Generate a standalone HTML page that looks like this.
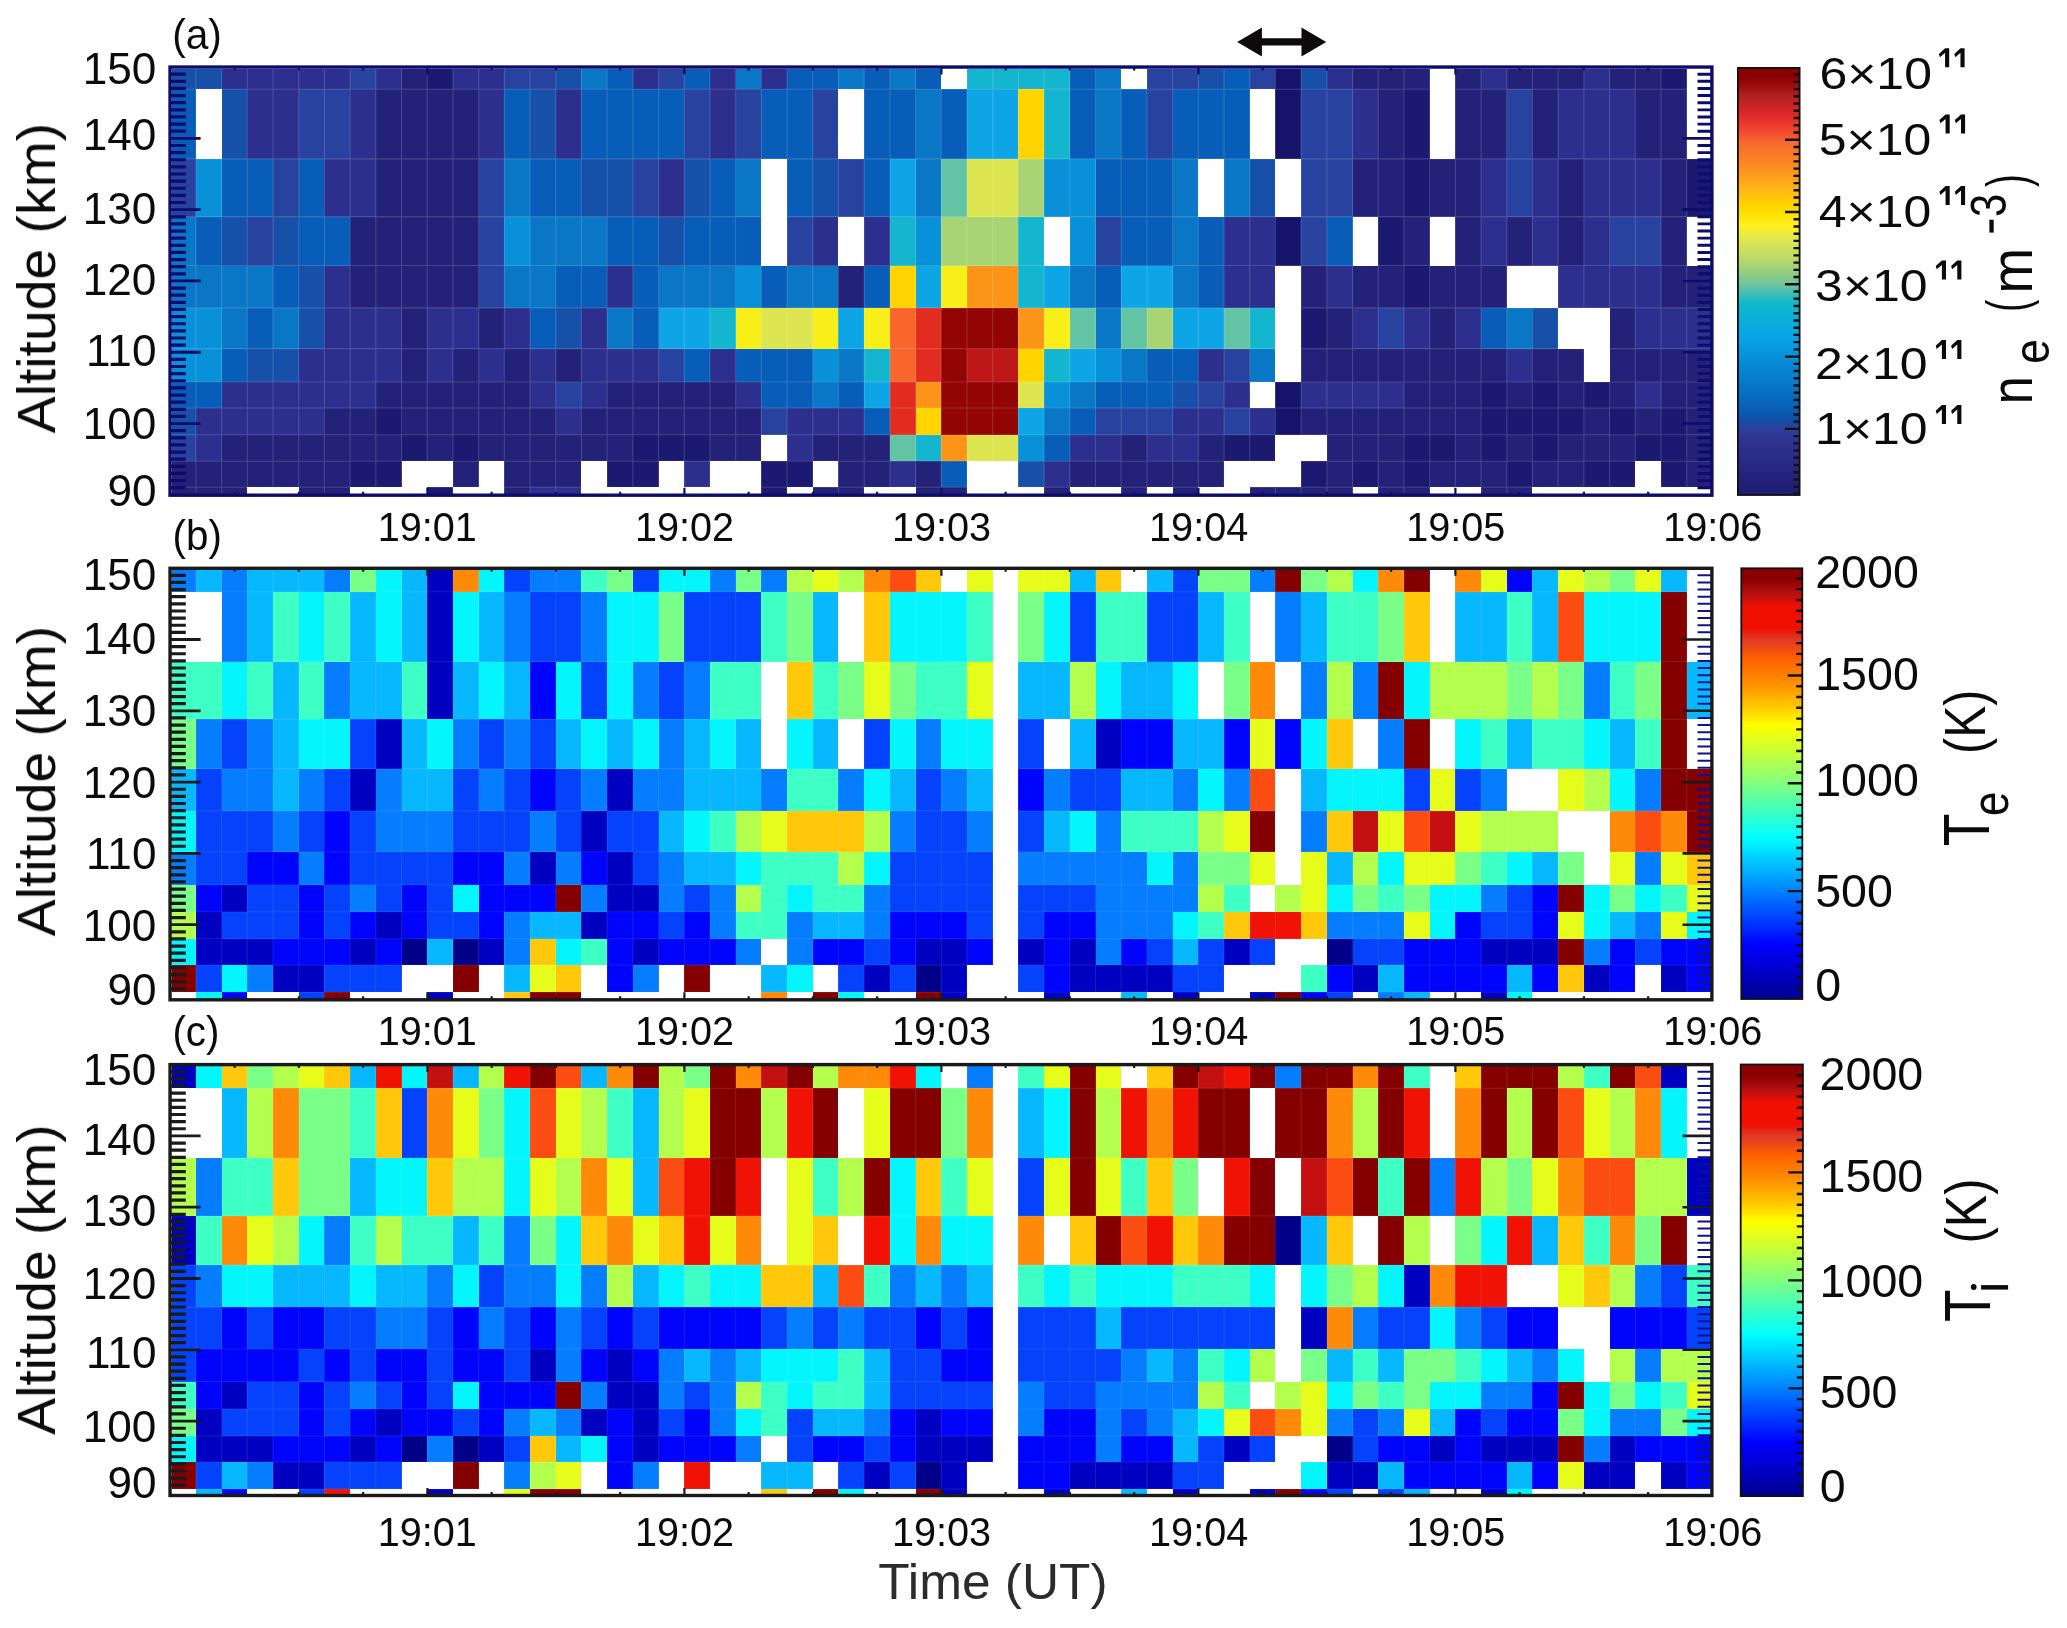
<!DOCTYPE html><html><head><meta charset="utf-8"><style>html,body{margin:0;padding:0;background:#fff}svg{display:block}</style></head><body><svg width="2067" height="1628" viewBox="0 0 2067 1628" font-family="Liberation Sans, sans-serif">
<defs>
<linearGradient id="ga" x1="0" y1="0" x2="0" y2="1"><stop offset="0" stop-color="#8b0000"/><stop offset="0.022" stop-color="#8b0000"/><stop offset="0.066" stop-color="#b02020"/><stop offset="0.11" stop-color="#e02828"/><stop offset="0.148" stop-color="#f04830"/><stop offset="0.173" stop-color="#f86830"/><stop offset="0.236" stop-color="#fc9020"/><stop offset="0.287" stop-color="#ffb818"/><stop offset="0.318" stop-color="#ffd000"/><stop offset="0.34" stop-color="#ffe000"/><stop offset="0.369" stop-color="#fff020"/><stop offset="0.4" stop-color="#e0e850"/><stop offset="0.45" stop-color="#b8d868"/><stop offset="0.488" stop-color="#88c888"/><stop offset="0.507" stop-color="#70c4a0"/><stop offset="0.532" stop-color="#38bcb8"/><stop offset="0.551" stop-color="#10b8c8"/><stop offset="0.6" stop-color="#08acdc"/><stop offset="0.633" stop-color="#08a4e8"/><stop offset="0.677" stop-color="#0890d8"/><stop offset="0.74" stop-color="#0878c8"/><stop offset="0.797" stop-color="#0860b8"/><stop offset="0.822" stop-color="#1050a8"/><stop offset="0.844" stop-color="#2c409c"/><stop offset="0.879" stop-color="#30308e"/><stop offset="0.93" stop-color="#282884"/><stop offset="1" stop-color="#1c1c70"/></linearGradient>
<linearGradient id="gj" x1="0" y1="0" x2="0" y2="1"><stop offset="0" stop-color="#8b0000"/><stop offset="0.026" stop-color="#8b0000"/><stop offset="0.06" stop-color="#b81010"/><stop offset="0.09" stop-color="#f01000"/><stop offset="0.14" stop-color="#f01000"/><stop offset="0.165" stop-color="#e03828"/><stop offset="0.21" stop-color="#ff6000"/><stop offset="0.268" stop-color="#ff9000"/><stop offset="0.322" stop-color="#ffc800"/><stop offset="0.364" stop-color="#ffff00"/><stop offset="0.418" stop-color="#d0ff30"/><stop offset="0.5" stop-color="#80ff80"/><stop offset="0.625" stop-color="#00ffff"/><stop offset="0.75" stop-color="#0080ff"/><stop offset="0.875" stop-color="#0000ff"/><stop offset="1" stop-color="#00008f"/></linearGradient>
</defs>
<rect width="2067" height="1628" fill="#fff"/>
<g shape-rendering="crispEdges">
<rect x="171.70" y="68.80" width="50.30" height="20.80" fill="#1650a9"/>
<rect x="221.60" y="68.80" width="128.92" height="20.80" fill="#2c2f8e"/>
<rect x="350.12" y="68.80" width="26.10" height="20.80" fill="#28429f"/>
<rect x="375.82" y="68.80" width="26.10" height="20.80" fill="#2c2f8e"/>
<rect x="401.53" y="68.80" width="26.10" height="20.80" fill="#232278"/>
<rect x="427.23" y="68.80" width="26.10" height="20.80" fill="#1b1a70"/>
<rect x="452.93" y="68.80" width="51.81" height="20.80" fill="#2c2f8e"/>
<rect x="504.34" y="68.80" width="51.81" height="20.80" fill="#28429f"/>
<rect x="555.75" y="68.80" width="26.10" height="20.80" fill="#1650a9"/>
<rect x="581.45" y="68.80" width="26.10" height="20.80" fill="#0976c6"/>
<rect x="607.15" y="68.80" width="26.10" height="20.80" fill="#075db7"/>
<rect x="632.86" y="68.80" width="26.10" height="20.80" fill="#2c2f8e"/>
<rect x="658.56" y="68.80" width="26.10" height="20.80" fill="#28429f"/>
<rect x="684.26" y="68.80" width="26.10" height="20.80" fill="#075db7"/>
<rect x="709.97" y="68.80" width="26.10" height="20.80" fill="#2c2f8e"/>
<rect x="735.67" y="68.80" width="26.10" height="20.80" fill="#0976c6"/>
<rect x="761.37" y="68.80" width="26.10" height="20.80" fill="#2c2f8e"/>
<rect x="787.08" y="68.80" width="51.81" height="20.80" fill="#075db7"/>
<rect x="838.48" y="68.80" width="26.10" height="20.80" fill="#0976c6"/>
<rect x="864.19" y="68.80" width="26.10" height="20.80" fill="#075db7"/>
<rect x="889.89" y="68.80" width="26.10" height="20.80" fill="#0976c6"/>
<rect x="915.59" y="68.80" width="26.10" height="20.80" fill="#075db7"/>
<rect x="967.00" y="68.80" width="103.21" height="20.80" fill="#14b6cf"/>
<rect x="1069.82" y="68.80" width="26.10" height="20.80" fill="#075db7"/>
<rect x="1095.52" y="68.80" width="26.10" height="20.80" fill="#0976c6"/>
<rect x="1146.93" y="68.80" width="51.81" height="20.80" fill="#28429f"/>
<rect x="1198.33" y="68.80" width="26.10" height="20.80" fill="#1650a9"/>
<rect x="1224.04" y="68.80" width="26.10" height="20.80" fill="#075db7"/>
<rect x="1249.74" y="68.80" width="26.10" height="20.80" fill="#28429f"/>
<rect x="1275.44" y="68.80" width="26.10" height="20.80" fill="#15146a"/>
<rect x="1301.15" y="68.80" width="26.10" height="20.80" fill="#1650a9"/>
<rect x="1326.85" y="68.80" width="26.10" height="20.80" fill="#2c2f8e"/>
<rect x="1352.55" y="68.80" width="77.51" height="20.80" fill="#232278"/>
<rect x="1455.37" y="68.80" width="26.10" height="20.80" fill="#232278"/>
<rect x="1481.07" y="68.80" width="26.10" height="20.80" fill="#2c2f8e"/>
<rect x="1506.77" y="68.80" width="77.51" height="20.80" fill="#232278"/>
<rect x="1583.88" y="68.80" width="26.10" height="20.80" fill="#2c2f8e"/>
<rect x="1609.59" y="68.80" width="51.81" height="20.80" fill="#232278"/>
<rect x="1660.99" y="68.80" width="26.10" height="20.80" fill="#1b1a70"/>
<rect x="171.70" y="89.20" width="24.60" height="70.10" fill="#075db7"/>
<rect x="221.60" y="89.20" width="26.10" height="70.10" fill="#1650a9"/>
<rect x="247.31" y="89.20" width="51.81" height="70.10" fill="#2c2f8e"/>
<rect x="298.71" y="89.20" width="51.81" height="70.10" fill="#28429f"/>
<rect x="350.12" y="89.20" width="26.10" height="70.10" fill="#2c2f8e"/>
<rect x="375.82" y="89.20" width="103.21" height="70.10" fill="#232278"/>
<rect x="478.64" y="89.20" width="26.10" height="70.10" fill="#2c2f8e"/>
<rect x="504.34" y="89.20" width="26.10" height="70.10" fill="#075db7"/>
<rect x="530.04" y="89.20" width="26.10" height="70.10" fill="#1650a9"/>
<rect x="555.75" y="89.20" width="26.10" height="70.10" fill="#2c2f8e"/>
<rect x="581.45" y="89.20" width="103.21" height="70.10" fill="#075db7"/>
<rect x="684.26" y="89.20" width="26.10" height="70.10" fill="#28429f"/>
<rect x="709.97" y="89.20" width="26.10" height="70.10" fill="#2c2f8e"/>
<rect x="735.67" y="89.20" width="26.10" height="70.10" fill="#28429f"/>
<rect x="761.37" y="89.20" width="51.81" height="70.10" fill="#075db7"/>
<rect x="812.78" y="89.20" width="26.10" height="70.10" fill="#28429f"/>
<rect x="864.19" y="89.20" width="51.81" height="70.10" fill="#075db7"/>
<rect x="915.59" y="89.20" width="26.10" height="70.10" fill="#0976c6"/>
<rect x="941.30" y="89.20" width="26.10" height="70.10" fill="#075db7"/>
<rect x="967.00" y="89.20" width="51.81" height="70.10" fill="#0ea5e6"/>
<rect x="1018.41" y="89.20" width="26.10" height="70.10" fill="#ffd400"/>
<rect x="1044.11" y="89.20" width="26.10" height="70.10" fill="#14b6cf"/>
<rect x="1069.82" y="89.20" width="26.10" height="70.10" fill="#075db7"/>
<rect x="1095.52" y="89.20" width="26.10" height="70.10" fill="#0976c6"/>
<rect x="1121.22" y="89.20" width="26.10" height="70.10" fill="#075db7"/>
<rect x="1146.93" y="89.20" width="26.10" height="70.10" fill="#28429f"/>
<rect x="1172.63" y="89.20" width="77.51" height="70.10" fill="#075db7"/>
<rect x="1275.44" y="89.20" width="26.10" height="70.10" fill="#15146a"/>
<rect x="1301.15" y="89.20" width="51.81" height="70.10" fill="#28429f"/>
<rect x="1352.55" y="89.20" width="26.10" height="70.10" fill="#2c2f8e"/>
<rect x="1378.26" y="89.20" width="26.10" height="70.10" fill="#232278"/>
<rect x="1403.96" y="89.20" width="26.10" height="70.10" fill="#1b1a70"/>
<rect x="1455.37" y="89.20" width="51.81" height="70.10" fill="#232278"/>
<rect x="1506.77" y="89.20" width="26.10" height="70.10" fill="#28429f"/>
<rect x="1532.48" y="89.20" width="26.10" height="70.10" fill="#232278"/>
<rect x="1558.18" y="89.20" width="77.51" height="70.10" fill="#2c2f8e"/>
<rect x="1635.29" y="89.20" width="51.81" height="70.10" fill="#232278"/>
<rect x="171.70" y="158.90" width="24.60" height="58.10" fill="#28429f"/>
<rect x="195.90" y="158.90" width="26.10" height="58.10" fill="#0890d8"/>
<rect x="221.60" y="158.90" width="51.81" height="58.10" fill="#075db7"/>
<rect x="273.01" y="158.90" width="26.10" height="58.10" fill="#28429f"/>
<rect x="298.71" y="158.90" width="26.10" height="58.10" fill="#075db7"/>
<rect x="324.42" y="158.90" width="51.81" height="58.10" fill="#2c2f8e"/>
<rect x="375.82" y="158.90" width="103.21" height="58.10" fill="#232278"/>
<rect x="478.64" y="158.90" width="26.10" height="58.10" fill="#28429f"/>
<rect x="504.34" y="158.90" width="26.10" height="58.10" fill="#0976c6"/>
<rect x="530.04" y="158.90" width="51.81" height="58.10" fill="#075db7"/>
<rect x="581.45" y="158.90" width="51.81" height="58.10" fill="#1650a9"/>
<rect x="632.86" y="158.90" width="26.10" height="58.10" fill="#28429f"/>
<rect x="658.56" y="158.90" width="26.10" height="58.10" fill="#2c2f8e"/>
<rect x="684.26" y="158.90" width="26.10" height="58.10" fill="#1650a9"/>
<rect x="709.97" y="158.90" width="26.10" height="58.10" fill="#075db7"/>
<rect x="735.67" y="158.90" width="26.10" height="58.10" fill="#0976c6"/>
<rect x="787.08" y="158.90" width="26.10" height="58.10" fill="#075db7"/>
<rect x="812.78" y="158.90" width="26.10" height="58.10" fill="#1650a9"/>
<rect x="838.48" y="158.90" width="26.10" height="58.10" fill="#28429f"/>
<rect x="864.19" y="158.90" width="26.10" height="58.10" fill="#075db7"/>
<rect x="889.89" y="158.90" width="26.10" height="58.10" fill="#0ea5e6"/>
<rect x="915.59" y="158.90" width="26.10" height="58.10" fill="#0976c6"/>
<rect x="941.30" y="158.90" width="26.10" height="58.10" fill="#62c4a4"/>
<rect x="967.00" y="158.90" width="51.81" height="58.10" fill="#dde650"/>
<rect x="1018.41" y="158.90" width="26.10" height="58.10" fill="#a8d474"/>
<rect x="1044.11" y="158.90" width="51.81" height="58.10" fill="#0890d8"/>
<rect x="1095.52" y="158.90" width="77.51" height="58.10" fill="#075db7"/>
<rect x="1172.63" y="158.90" width="26.10" height="58.10" fill="#0976c6"/>
<rect x="1224.04" y="158.90" width="26.10" height="58.10" fill="#0976c6"/>
<rect x="1249.74" y="158.90" width="26.10" height="58.10" fill="#1650a9"/>
<rect x="1301.15" y="158.90" width="51.81" height="58.10" fill="#28429f"/>
<rect x="1352.55" y="158.90" width="51.81" height="58.10" fill="#232278"/>
<rect x="1403.96" y="158.90" width="26.10" height="58.10" fill="#1b1a70"/>
<rect x="1429.66" y="158.90" width="51.81" height="58.10" fill="#232278"/>
<rect x="1481.07" y="158.90" width="26.10" height="58.10" fill="#2c2f8e"/>
<rect x="1506.77" y="158.90" width="26.10" height="58.10" fill="#28429f"/>
<rect x="1532.48" y="158.90" width="26.10" height="58.10" fill="#2c2f8e"/>
<rect x="1558.18" y="158.90" width="26.10" height="58.10" fill="#232278"/>
<rect x="1583.88" y="158.90" width="77.51" height="58.10" fill="#2c2f8e"/>
<rect x="1660.99" y="158.90" width="26.10" height="58.10" fill="#232278"/>
<rect x="1686.70" y="158.90" width="26.10" height="58.10" fill="#1b1a70"/>
<rect x="171.70" y="216.60" width="24.60" height="49.30" fill="#0976c6"/>
<rect x="195.90" y="216.60" width="26.10" height="49.30" fill="#075db7"/>
<rect x="221.60" y="216.60" width="26.10" height="49.30" fill="#1650a9"/>
<rect x="247.31" y="216.60" width="26.10" height="49.30" fill="#28429f"/>
<rect x="273.01" y="216.60" width="26.10" height="49.30" fill="#1650a9"/>
<rect x="298.71" y="216.60" width="51.81" height="49.30" fill="#075db7"/>
<rect x="350.12" y="216.60" width="128.92" height="49.30" fill="#232278"/>
<rect x="478.64" y="216.60" width="26.10" height="49.30" fill="#28429f"/>
<rect x="504.34" y="216.60" width="26.10" height="49.30" fill="#0890d8"/>
<rect x="530.04" y="216.60" width="77.51" height="49.30" fill="#0976c6"/>
<rect x="607.15" y="216.60" width="51.81" height="49.30" fill="#075db7"/>
<rect x="658.56" y="216.60" width="26.10" height="49.30" fill="#1650a9"/>
<rect x="684.26" y="216.60" width="77.51" height="49.30" fill="#075db7"/>
<rect x="787.08" y="216.60" width="26.10" height="49.30" fill="#28429f"/>
<rect x="812.78" y="216.60" width="26.10" height="49.30" fill="#2c2f8e"/>
<rect x="864.19" y="216.60" width="26.10" height="49.30" fill="#2c2f8e"/>
<rect x="889.89" y="216.60" width="26.10" height="49.30" fill="#14b6cf"/>
<rect x="915.59" y="216.60" width="26.10" height="49.30" fill="#0890d8"/>
<rect x="941.30" y="216.60" width="77.51" height="49.30" fill="#a8d474"/>
<rect x="1018.41" y="216.60" width="26.10" height="49.30" fill="#14b6cf"/>
<rect x="1069.82" y="216.60" width="26.10" height="49.30" fill="#0890d8"/>
<rect x="1095.52" y="216.60" width="26.10" height="49.30" fill="#28429f"/>
<rect x="1121.22" y="216.60" width="51.81" height="49.30" fill="#075db7"/>
<rect x="1172.63" y="216.60" width="26.10" height="49.30" fill="#0976c6"/>
<rect x="1198.33" y="216.60" width="26.10" height="49.30" fill="#075db7"/>
<rect x="1224.04" y="216.60" width="51.81" height="49.30" fill="#2c2f8e"/>
<rect x="1275.44" y="216.60" width="26.10" height="49.30" fill="#15146a"/>
<rect x="1301.15" y="216.60" width="26.10" height="49.30" fill="#28429f"/>
<rect x="1326.85" y="216.60" width="26.10" height="49.30" fill="#075db7"/>
<rect x="1378.26" y="216.60" width="26.10" height="49.30" fill="#1b1a70"/>
<rect x="1403.96" y="216.60" width="26.10" height="49.30" fill="#232278"/>
<rect x="1455.37" y="216.60" width="26.10" height="49.30" fill="#232278"/>
<rect x="1481.07" y="216.60" width="26.10" height="49.30" fill="#2c2f8e"/>
<rect x="1506.77" y="216.60" width="26.10" height="49.30" fill="#232278"/>
<rect x="1532.48" y="216.60" width="26.10" height="49.30" fill="#2c2f8e"/>
<rect x="1558.18" y="216.60" width="26.10" height="49.30" fill="#232278"/>
<rect x="1583.88" y="216.60" width="26.10" height="49.30" fill="#2c2f8e"/>
<rect x="1609.59" y="216.60" width="51.81" height="49.30" fill="#28429f"/>
<rect x="1660.99" y="216.60" width="26.10" height="49.30" fill="#232278"/>
<rect x="171.70" y="265.50" width="101.71" height="42.80" fill="#0976c6"/>
<rect x="273.01" y="265.50" width="26.10" height="42.80" fill="#075db7"/>
<rect x="298.71" y="265.50" width="26.10" height="42.80" fill="#1650a9"/>
<rect x="324.42" y="265.50" width="26.10" height="42.80" fill="#2c2f8e"/>
<rect x="350.12" y="265.50" width="128.92" height="42.80" fill="#232278"/>
<rect x="478.64" y="265.50" width="26.10" height="42.80" fill="#28429f"/>
<rect x="504.34" y="265.50" width="51.81" height="42.80" fill="#0976c6"/>
<rect x="555.75" y="265.50" width="51.81" height="42.80" fill="#075db7"/>
<rect x="607.15" y="265.50" width="26.10" height="42.80" fill="#2c2f8e"/>
<rect x="632.86" y="265.50" width="26.10" height="42.80" fill="#075db7"/>
<rect x="658.56" y="265.50" width="77.51" height="42.80" fill="#0976c6"/>
<rect x="735.67" y="265.50" width="26.10" height="42.80" fill="#0890d8"/>
<rect x="761.37" y="265.50" width="26.10" height="42.80" fill="#075db7"/>
<rect x="787.08" y="265.50" width="51.81" height="42.80" fill="#0976c6"/>
<rect x="838.48" y="265.50" width="26.10" height="42.80" fill="#232278"/>
<rect x="864.19" y="265.50" width="26.10" height="42.80" fill="#075db7"/>
<rect x="889.89" y="265.50" width="26.10" height="42.80" fill="#ffd400"/>
<rect x="915.59" y="265.50" width="26.10" height="42.80" fill="#0ea5e6"/>
<rect x="941.30" y="265.50" width="26.10" height="42.80" fill="#f8ee18"/>
<rect x="967.00" y="265.50" width="51.81" height="42.80" fill="#fc9418"/>
<rect x="1018.41" y="265.50" width="26.10" height="42.80" fill="#14b6cf"/>
<rect x="1044.11" y="265.50" width="26.10" height="42.80" fill="#0ea5e6"/>
<rect x="1069.82" y="265.50" width="26.10" height="42.80" fill="#0976c6"/>
<rect x="1095.52" y="265.50" width="26.10" height="42.80" fill="#075db7"/>
<rect x="1121.22" y="265.50" width="51.81" height="42.80" fill="#0ea5e6"/>
<rect x="1172.63" y="265.50" width="26.10" height="42.80" fill="#0976c6"/>
<rect x="1198.33" y="265.50" width="26.10" height="42.80" fill="#075db7"/>
<rect x="1224.04" y="265.50" width="51.81" height="42.80" fill="#2c2f8e"/>
<rect x="1301.15" y="265.50" width="26.10" height="42.80" fill="#232278"/>
<rect x="1326.85" y="265.50" width="26.10" height="42.80" fill="#2c2f8e"/>
<rect x="1352.55" y="265.50" width="51.81" height="42.80" fill="#232278"/>
<rect x="1403.96" y="265.50" width="26.10" height="42.80" fill="#1b1a70"/>
<rect x="1429.66" y="265.50" width="77.51" height="42.80" fill="#232278"/>
<rect x="1558.18" y="265.50" width="103.21" height="42.80" fill="#2c2f8e"/>
<rect x="1660.99" y="265.50" width="51.81" height="42.80" fill="#232278"/>
<rect x="171.70" y="307.90" width="50.30" height="41.10" fill="#0890d8"/>
<rect x="221.60" y="307.90" width="26.10" height="41.10" fill="#0976c6"/>
<rect x="247.31" y="307.90" width="26.10" height="41.10" fill="#075db7"/>
<rect x="273.01" y="307.90" width="26.10" height="41.10" fill="#0976c6"/>
<rect x="298.71" y="307.90" width="26.10" height="41.10" fill="#1650a9"/>
<rect x="324.42" y="307.90" width="77.51" height="41.10" fill="#2c2f8e"/>
<rect x="401.53" y="307.90" width="26.10" height="41.10" fill="#232278"/>
<rect x="427.23" y="307.90" width="51.81" height="41.10" fill="#2c2f8e"/>
<rect x="478.64" y="307.90" width="26.10" height="41.10" fill="#232278"/>
<rect x="504.34" y="307.90" width="26.10" height="41.10" fill="#2c2f8e"/>
<rect x="530.04" y="307.90" width="26.10" height="41.10" fill="#075db7"/>
<rect x="555.75" y="307.90" width="26.10" height="41.10" fill="#1650a9"/>
<rect x="581.45" y="307.90" width="26.10" height="41.10" fill="#2c2f8e"/>
<rect x="607.15" y="307.90" width="26.10" height="41.10" fill="#0976c6"/>
<rect x="632.86" y="307.90" width="26.10" height="41.10" fill="#075db7"/>
<rect x="658.56" y="307.90" width="51.81" height="41.10" fill="#0ea5e6"/>
<rect x="709.97" y="307.90" width="26.10" height="41.10" fill="#14b6cf"/>
<rect x="735.67" y="307.90" width="26.10" height="41.10" fill="#f8ee18"/>
<rect x="761.37" y="307.90" width="51.81" height="41.10" fill="#dde650"/>
<rect x="812.78" y="307.90" width="26.10" height="41.10" fill="#f8ee18"/>
<rect x="838.48" y="307.90" width="26.10" height="41.10" fill="#0ea5e6"/>
<rect x="864.19" y="307.90" width="26.10" height="41.10" fill="#f8ee18"/>
<rect x="889.89" y="307.90" width="26.10" height="41.10" fill="#f8662c"/>
<rect x="915.59" y="307.90" width="26.10" height="41.10" fill="#e22c20"/>
<rect x="941.30" y="307.90" width="77.51" height="41.10" fill="#930404"/>
<rect x="1018.41" y="307.90" width="26.10" height="41.10" fill="#fc9418"/>
<rect x="1044.11" y="307.90" width="26.10" height="41.10" fill="#f8ee18"/>
<rect x="1069.82" y="307.90" width="26.10" height="41.10" fill="#62c4a4"/>
<rect x="1095.52" y="307.90" width="26.10" height="41.10" fill="#0976c6"/>
<rect x="1121.22" y="307.90" width="26.10" height="41.10" fill="#62c4a4"/>
<rect x="1146.93" y="307.90" width="26.10" height="41.10" fill="#a8d474"/>
<rect x="1172.63" y="307.90" width="51.81" height="41.10" fill="#0ea5e6"/>
<rect x="1224.04" y="307.90" width="26.10" height="41.10" fill="#62c4a4"/>
<rect x="1249.74" y="307.90" width="26.10" height="41.10" fill="#14b6cf"/>
<rect x="1301.15" y="307.90" width="26.10" height="41.10" fill="#1b1a70"/>
<rect x="1326.85" y="307.90" width="26.10" height="41.10" fill="#232278"/>
<rect x="1352.55" y="307.90" width="26.10" height="41.10" fill="#2c2f8e"/>
<rect x="1378.26" y="307.90" width="26.10" height="41.10" fill="#28429f"/>
<rect x="1403.96" y="307.90" width="26.10" height="41.10" fill="#2c2f8e"/>
<rect x="1429.66" y="307.90" width="26.10" height="41.10" fill="#232278"/>
<rect x="1455.37" y="307.90" width="26.10" height="41.10" fill="#2c2f8e"/>
<rect x="1481.07" y="307.90" width="26.10" height="41.10" fill="#075db7"/>
<rect x="1506.77" y="307.90" width="26.10" height="41.10" fill="#0976c6"/>
<rect x="1532.48" y="307.90" width="26.10" height="41.10" fill="#1650a9"/>
<rect x="1609.59" y="307.90" width="26.10" height="41.10" fill="#232278"/>
<rect x="1635.29" y="307.90" width="77.51" height="41.10" fill="#2c2f8e"/>
<rect x="171.70" y="348.60" width="50.30" height="33.80" fill="#0890d8"/>
<rect x="221.60" y="348.60" width="26.10" height="33.80" fill="#075db7"/>
<rect x="247.31" y="348.60" width="51.81" height="33.80" fill="#1650a9"/>
<rect x="298.71" y="348.60" width="103.21" height="33.80" fill="#2c2f8e"/>
<rect x="401.53" y="348.60" width="26.10" height="33.80" fill="#232278"/>
<rect x="427.23" y="348.60" width="26.10" height="33.80" fill="#2c2f8e"/>
<rect x="452.93" y="348.60" width="26.10" height="33.80" fill="#232278"/>
<rect x="478.64" y="348.60" width="26.10" height="33.80" fill="#2c2f8e"/>
<rect x="504.34" y="348.60" width="26.10" height="33.80" fill="#232278"/>
<rect x="530.04" y="348.60" width="26.10" height="33.80" fill="#2c2f8e"/>
<rect x="555.75" y="348.60" width="26.10" height="33.80" fill="#232278"/>
<rect x="581.45" y="348.60" width="77.51" height="33.80" fill="#2c2f8e"/>
<rect x="658.56" y="348.60" width="26.10" height="33.80" fill="#28429f"/>
<rect x="684.26" y="348.60" width="26.10" height="33.80" fill="#075db7"/>
<rect x="709.97" y="348.60" width="26.10" height="33.80" fill="#2c2f8e"/>
<rect x="735.67" y="348.60" width="77.51" height="33.80" fill="#075db7"/>
<rect x="812.78" y="348.60" width="26.10" height="33.80" fill="#0890d8"/>
<rect x="838.48" y="348.60" width="26.10" height="33.80" fill="#0976c6"/>
<rect x="864.19" y="348.60" width="26.10" height="33.80" fill="#14b6cf"/>
<rect x="889.89" y="348.60" width="26.10" height="33.80" fill="#f8662c"/>
<rect x="915.59" y="348.60" width="26.10" height="33.80" fill="#e22c20"/>
<rect x="941.30" y="348.60" width="26.10" height="33.80" fill="#930404"/>
<rect x="967.00" y="348.60" width="51.81" height="33.80" fill="#bc1616"/>
<rect x="1018.41" y="348.60" width="26.10" height="33.80" fill="#ffd400"/>
<rect x="1044.11" y="348.60" width="26.10" height="33.80" fill="#14b6cf"/>
<rect x="1069.82" y="348.60" width="26.10" height="33.80" fill="#0ea5e6"/>
<rect x="1095.52" y="348.60" width="26.10" height="33.80" fill="#0890d8"/>
<rect x="1121.22" y="348.60" width="26.10" height="33.80" fill="#0976c6"/>
<rect x="1146.93" y="348.60" width="51.81" height="33.80" fill="#075db7"/>
<rect x="1198.33" y="348.60" width="26.10" height="33.80" fill="#2c2f8e"/>
<rect x="1224.04" y="348.60" width="26.10" height="33.80" fill="#28429f"/>
<rect x="1249.74" y="348.60" width="26.10" height="33.80" fill="#0976c6"/>
<rect x="1301.15" y="348.60" width="206.03" height="33.80" fill="#232278"/>
<rect x="1506.77" y="348.60" width="26.10" height="33.80" fill="#2c2f8e"/>
<rect x="1532.48" y="348.60" width="51.81" height="33.80" fill="#232278"/>
<rect x="1609.59" y="348.60" width="103.21" height="33.80" fill="#232278"/>
<rect x="171.70" y="382.00" width="50.30" height="26.40" fill="#075db7"/>
<rect x="221.60" y="382.00" width="154.62" height="26.40" fill="#2c2f8e"/>
<rect x="375.82" y="382.00" width="154.62" height="26.40" fill="#232278"/>
<rect x="530.04" y="382.00" width="26.10" height="26.40" fill="#2c2f8e"/>
<rect x="555.75" y="382.00" width="26.10" height="26.40" fill="#28429f"/>
<rect x="581.45" y="382.00" width="26.10" height="26.40" fill="#2c2f8e"/>
<rect x="607.15" y="382.00" width="128.92" height="26.40" fill="#232278"/>
<rect x="735.67" y="382.00" width="26.10" height="26.40" fill="#2c2f8e"/>
<rect x="761.37" y="382.00" width="51.81" height="26.40" fill="#075db7"/>
<rect x="812.78" y="382.00" width="26.10" height="26.40" fill="#0976c6"/>
<rect x="838.48" y="382.00" width="26.10" height="26.40" fill="#075db7"/>
<rect x="864.19" y="382.00" width="26.10" height="26.40" fill="#0ea5e6"/>
<rect x="889.89" y="382.00" width="26.10" height="26.40" fill="#e22c20"/>
<rect x="915.59" y="382.00" width="26.10" height="26.40" fill="#fc9418"/>
<rect x="941.30" y="382.00" width="77.51" height="26.40" fill="#930404"/>
<rect x="1018.41" y="382.00" width="26.10" height="26.40" fill="#dde650"/>
<rect x="1044.11" y="382.00" width="26.10" height="26.40" fill="#0890d8"/>
<rect x="1069.82" y="382.00" width="26.10" height="26.40" fill="#0976c6"/>
<rect x="1095.52" y="382.00" width="77.51" height="26.40" fill="#075db7"/>
<rect x="1172.63" y="382.00" width="26.10" height="26.40" fill="#1650a9"/>
<rect x="1198.33" y="382.00" width="26.10" height="26.40" fill="#28429f"/>
<rect x="1224.04" y="382.00" width="26.10" height="26.40" fill="#2c2f8e"/>
<rect x="1275.44" y="382.00" width="26.10" height="26.40" fill="#15146a"/>
<rect x="1301.15" y="382.00" width="103.21" height="26.40" fill="#2c2f8e"/>
<rect x="1403.96" y="382.00" width="77.51" height="26.40" fill="#232278"/>
<rect x="1481.07" y="382.00" width="26.10" height="26.40" fill="#1b1a70"/>
<rect x="1506.77" y="382.00" width="26.10" height="26.40" fill="#232278"/>
<rect x="1532.48" y="382.00" width="26.10" height="26.40" fill="#1b1a70"/>
<rect x="1558.18" y="382.00" width="26.10" height="26.40" fill="#232278"/>
<rect x="1583.88" y="382.00" width="26.10" height="26.40" fill="#1b1a70"/>
<rect x="1609.59" y="382.00" width="26.10" height="26.40" fill="#232278"/>
<rect x="1635.29" y="382.00" width="26.10" height="26.40" fill="#2c2f8e"/>
<rect x="1660.99" y="382.00" width="51.81" height="26.40" fill="#232278"/>
<rect x="171.70" y="408.00" width="24.60" height="27.20" fill="#1650a9"/>
<rect x="195.90" y="408.00" width="128.92" height="27.20" fill="#2c2f8e"/>
<rect x="324.42" y="408.00" width="51.81" height="27.20" fill="#232278"/>
<rect x="375.82" y="408.00" width="26.10" height="27.20" fill="#1b1a70"/>
<rect x="401.53" y="408.00" width="154.62" height="27.20" fill="#232278"/>
<rect x="555.75" y="408.00" width="26.10" height="27.20" fill="#2c2f8e"/>
<rect x="581.45" y="408.00" width="180.32" height="27.20" fill="#232278"/>
<rect x="761.37" y="408.00" width="26.10" height="27.20" fill="#28429f"/>
<rect x="787.08" y="408.00" width="77.51" height="27.20" fill="#2c2f8e"/>
<rect x="864.19" y="408.00" width="26.10" height="27.20" fill="#075db7"/>
<rect x="889.89" y="408.00" width="26.10" height="27.20" fill="#e22c20"/>
<rect x="915.59" y="408.00" width="26.10" height="27.20" fill="#ffd400"/>
<rect x="941.30" y="408.00" width="77.51" height="27.20" fill="#930404"/>
<rect x="1018.41" y="408.00" width="26.10" height="27.20" fill="#0ea5e6"/>
<rect x="1044.11" y="408.00" width="26.10" height="27.20" fill="#0976c6"/>
<rect x="1069.82" y="408.00" width="26.10" height="27.20" fill="#075db7"/>
<rect x="1095.52" y="408.00" width="77.51" height="27.20" fill="#28429f"/>
<rect x="1172.63" y="408.00" width="51.81" height="27.20" fill="#2c2f8e"/>
<rect x="1224.04" y="408.00" width="26.10" height="27.20" fill="#28429f"/>
<rect x="1249.74" y="408.00" width="26.10" height="27.20" fill="#2c2f8e"/>
<rect x="1275.44" y="408.00" width="26.10" height="27.20" fill="#15146a"/>
<rect x="1301.15" y="408.00" width="180.32" height="27.20" fill="#232278"/>
<rect x="1481.07" y="408.00" width="103.21" height="27.20" fill="#1b1a70"/>
<rect x="1583.88" y="408.00" width="26.10" height="27.20" fill="#232278"/>
<rect x="1609.59" y="408.00" width="26.10" height="27.20" fill="#1b1a70"/>
<rect x="1635.29" y="408.00" width="26.10" height="27.20" fill="#232278"/>
<rect x="1660.99" y="408.00" width="26.10" height="27.20" fill="#1b1a70"/>
<rect x="1686.70" y="408.00" width="26.10" height="27.20" fill="#232278"/>
<rect x="171.70" y="434.80" width="24.60" height="26.80" fill="#28429f"/>
<rect x="195.90" y="434.80" width="26.10" height="26.80" fill="#2c2f8e"/>
<rect x="221.60" y="434.80" width="180.32" height="26.80" fill="#232278"/>
<rect x="401.53" y="434.80" width="26.10" height="26.80" fill="#1b1a70"/>
<rect x="427.23" y="434.80" width="26.10" height="26.80" fill="#232278"/>
<rect x="452.93" y="434.80" width="26.10" height="26.80" fill="#1b1a70"/>
<rect x="478.64" y="434.80" width="154.62" height="26.80" fill="#232278"/>
<rect x="632.86" y="434.80" width="77.51" height="26.80" fill="#1b1a70"/>
<rect x="709.97" y="434.80" width="51.81" height="26.80" fill="#232278"/>
<rect x="787.08" y="434.80" width="26.10" height="26.80" fill="#2c2f8e"/>
<rect x="812.78" y="434.80" width="77.51" height="26.80" fill="#232278"/>
<rect x="889.89" y="434.80" width="26.10" height="26.80" fill="#62c4a4"/>
<rect x="915.59" y="434.80" width="26.10" height="26.80" fill="#14b6cf"/>
<rect x="941.30" y="434.80" width="26.10" height="26.80" fill="#fc9418"/>
<rect x="967.00" y="434.80" width="51.81" height="26.80" fill="#dde650"/>
<rect x="1018.41" y="434.80" width="26.10" height="26.80" fill="#0890d8"/>
<rect x="1044.11" y="434.80" width="26.10" height="26.80" fill="#075db7"/>
<rect x="1069.82" y="434.80" width="51.81" height="26.80" fill="#2c2f8e"/>
<rect x="1121.22" y="434.80" width="26.10" height="26.80" fill="#232278"/>
<rect x="1146.93" y="434.80" width="51.81" height="26.80" fill="#2c2f8e"/>
<rect x="1198.33" y="434.80" width="26.10" height="26.80" fill="#232278"/>
<rect x="1224.04" y="434.80" width="51.81" height="26.80" fill="#1b1a70"/>
<rect x="1326.85" y="434.80" width="77.51" height="26.80" fill="#232278"/>
<rect x="1403.96" y="434.80" width="51.81" height="26.80" fill="#1b1a70"/>
<rect x="1455.37" y="434.80" width="26.10" height="26.80" fill="#232278"/>
<rect x="1481.07" y="434.80" width="26.10" height="26.80" fill="#1b1a70"/>
<rect x="1506.77" y="434.80" width="26.10" height="26.80" fill="#232278"/>
<rect x="1532.48" y="434.80" width="26.10" height="26.80" fill="#1b1a70"/>
<rect x="1558.18" y="434.80" width="77.51" height="26.80" fill="#232278"/>
<rect x="1635.29" y="434.80" width="51.81" height="26.80" fill="#1b1a70"/>
<rect x="1686.70" y="434.80" width="26.10" height="26.80" fill="#232278"/>
<rect x="171.70" y="461.20" width="178.82" height="26.50" fill="#232278"/>
<rect x="350.12" y="461.20" width="51.81" height="26.50" fill="#1b1a70"/>
<rect x="452.93" y="461.20" width="26.10" height="26.50" fill="#232278"/>
<rect x="504.34" y="461.20" width="77.51" height="26.50" fill="#232278"/>
<rect x="607.15" y="461.20" width="51.81" height="26.50" fill="#1b1a70"/>
<rect x="684.26" y="461.20" width="26.10" height="26.50" fill="#2c2f8e"/>
<rect x="761.37" y="461.20" width="51.81" height="26.50" fill="#1b1a70"/>
<rect x="838.48" y="461.20" width="51.81" height="26.50" fill="#232278"/>
<rect x="889.89" y="461.20" width="26.10" height="26.50" fill="#2c2f8e"/>
<rect x="915.59" y="461.20" width="26.10" height="26.50" fill="#232278"/>
<rect x="941.30" y="461.20" width="26.10" height="26.50" fill="#075db7"/>
<rect x="1018.41" y="461.20" width="26.10" height="26.50" fill="#1650a9"/>
<rect x="1044.11" y="461.20" width="26.10" height="26.50" fill="#2c2f8e"/>
<rect x="1069.82" y="461.20" width="154.62" height="26.50" fill="#232278"/>
<rect x="1301.15" y="461.20" width="26.10" height="26.50" fill="#1b1a70"/>
<rect x="1326.85" y="461.20" width="26.10" height="26.50" fill="#232278"/>
<rect x="1352.55" y="461.20" width="26.10" height="26.50" fill="#1b1a70"/>
<rect x="1378.26" y="461.20" width="26.10" height="26.50" fill="#232278"/>
<rect x="1403.96" y="461.20" width="26.10" height="26.50" fill="#1b1a70"/>
<rect x="1429.66" y="461.20" width="77.51" height="26.50" fill="#232278"/>
<rect x="1506.77" y="461.20" width="26.10" height="26.50" fill="#1b1a70"/>
<rect x="1532.48" y="461.20" width="51.81" height="26.50" fill="#232278"/>
<rect x="1583.88" y="461.20" width="51.81" height="26.50" fill="#1b1a70"/>
<rect x="1660.99" y="461.20" width="26.10" height="26.50" fill="#1b1a70"/>
<rect x="1686.70" y="461.20" width="26.10" height="26.50" fill="#232278"/>
<rect x="171.70" y="487.30" width="76.01" height="6.70" fill="#232278"/>
<rect x="298.71" y="487.30" width="51.81" height="6.70" fill="#232278"/>
<rect x="427.23" y="487.30" width="26.10" height="6.70" fill="#1b1a70"/>
<rect x="504.34" y="487.30" width="26.10" height="6.70" fill="#232278"/>
<rect x="530.04" y="487.30" width="51.81" height="6.70" fill="#2c2f8e"/>
<rect x="761.37" y="487.30" width="26.10" height="6.70" fill="#1b1a70"/>
<rect x="812.78" y="487.30" width="51.81" height="6.70" fill="#232278"/>
<rect x="915.59" y="487.30" width="51.81" height="6.70" fill="#232278"/>
<rect x="1044.11" y="487.30" width="26.10" height="6.70" fill="#232278"/>
<rect x="1121.22" y="487.30" width="26.10" height="6.70" fill="#232278"/>
<rect x="1172.63" y="487.30" width="26.10" height="6.70" fill="#232278"/>
<rect x="1249.74" y="487.30" width="103.21" height="6.70" fill="#232278"/>
<rect x="1378.26" y="487.30" width="51.81" height="6.70" fill="#232278"/>
<rect x="1481.07" y="487.30" width="51.81" height="6.70" fill="#232278"/>
</g>
<g shape-rendering="crispEdges" fill="#fff">
<rect x="941.30" y="68.80" width="25.70" height="20.40"/>
<rect x="1121.22" y="68.80" width="25.70" height="20.40"/>
<rect x="1429.66" y="68.80" width="25.70" height="20.40"/>
<rect x="1686.70" y="68.80" width="25.70" height="20.40"/>
<rect x="195.90" y="89.20" width="25.70" height="69.70"/>
<rect x="838.48" y="89.20" width="25.70" height="69.70"/>
<rect x="1249.74" y="89.20" width="25.70" height="69.70"/>
<rect x="1429.66" y="89.20" width="25.70" height="69.70"/>
<rect x="1686.70" y="89.20" width="25.70" height="69.70"/>
<rect x="761.37" y="158.90" width="25.70" height="57.70"/>
<rect x="1198.33" y="158.90" width="25.70" height="57.70"/>
<rect x="1275.44" y="158.90" width="25.70" height="57.70"/>
<rect x="761.37" y="216.60" width="25.70" height="48.90"/>
<rect x="838.48" y="216.60" width="25.70" height="48.90"/>
<rect x="1044.11" y="216.60" width="25.70" height="48.90"/>
<rect x="1352.55" y="216.60" width="25.70" height="48.90"/>
<rect x="1429.66" y="216.60" width="25.70" height="48.90"/>
<rect x="1686.70" y="216.60" width="25.70" height="48.90"/>
<rect x="1275.44" y="265.50" width="25.70" height="42.40"/>
<rect x="1506.77" y="265.50" width="51.41" height="42.40"/>
<rect x="1275.44" y="307.90" width="25.70" height="40.70"/>
<rect x="1558.18" y="307.90" width="51.41" height="40.70"/>
<rect x="1275.44" y="348.60" width="25.70" height="33.40"/>
<rect x="1583.88" y="348.60" width="25.70" height="33.40"/>
<rect x="1249.74" y="382.00" width="25.70" height="26.00"/>
<rect x="761.37" y="434.80" width="25.70" height="26.40"/>
<rect x="1275.44" y="434.80" width="51.41" height="26.40"/>
<rect x="401.53" y="461.20" width="51.41" height="26.10"/>
<rect x="478.64" y="461.20" width="25.70" height="26.10"/>
<rect x="581.45" y="461.20" width="25.70" height="26.10"/>
<rect x="658.56" y="461.20" width="25.70" height="26.10"/>
<rect x="709.97" y="461.20" width="51.41" height="26.10"/>
<rect x="812.78" y="461.20" width="25.70" height="26.10"/>
<rect x="967.00" y="461.20" width="51.41" height="26.10"/>
<rect x="1224.04" y="461.20" width="77.11" height="26.10"/>
<rect x="1635.29" y="461.20" width="25.70" height="26.10"/>
<rect x="247.31" y="487.30" width="51.41" height="6.30"/>
<rect x="350.12" y="487.30" width="77.11" height="6.30"/>
<rect x="452.93" y="487.30" width="51.41" height="6.30"/>
<rect x="581.45" y="487.30" width="179.92" height="6.30"/>
<rect x="787.08" y="487.30" width="25.70" height="6.30"/>
<rect x="864.19" y="487.30" width="51.41" height="6.30"/>
<rect x="967.00" y="487.30" width="77.11" height="6.30"/>
<rect x="1069.82" y="487.30" width="51.41" height="6.30"/>
<rect x="1146.93" y="487.30" width="25.70" height="6.30"/>
<rect x="1198.33" y="487.30" width="51.41" height="6.30"/>
<rect x="1352.55" y="487.30" width="25.70" height="6.30"/>
<rect x="1429.66" y="487.30" width="51.41" height="6.30"/>
<rect x="1532.48" y="487.30" width="179.92" height="6.30"/>
</g>
<path d="M195.90 68.80V493.60M221.60 68.80V493.60M247.31 68.80V493.60M273.01 68.80V493.60M298.71 68.80V493.60M324.42 68.80V493.60M350.12 68.80V493.60M375.82 68.80V493.60M401.53 68.80V493.60M427.23 68.80V493.60M452.93 68.80V493.60M478.64 68.80V493.60M504.34 68.80V493.60M530.04 68.80V493.60M555.75 68.80V493.60M581.45 68.80V493.60M607.15 68.80V493.60M632.86 68.80V493.60M658.56 68.80V493.60M684.26 68.80V493.60M709.97 68.80V493.60M735.67 68.80V493.60M761.37 68.80V493.60M787.08 68.80V493.60M812.78 68.80V493.60M838.48 68.80V493.60M864.19 68.80V493.60M889.89 68.80V493.60M915.59 68.80V493.60M941.30 68.80V493.60M967.00 68.80V493.60M992.71 68.80V493.60M1018.41 68.80V493.60M1044.11 68.80V493.60M1069.82 68.80V493.60M1095.52 68.80V493.60M1121.22 68.80V493.60M1146.93 68.80V493.60M1172.63 68.80V493.60M1198.33 68.80V493.60M1224.04 68.80V493.60M1249.74 68.80V493.60M1275.44 68.80V493.60M1301.15 68.80V493.60M1326.85 68.80V493.60M1352.55 68.80V493.60M1378.26 68.80V493.60M1403.96 68.80V493.60M1429.66 68.80V493.60M1455.37 68.80V493.60M1481.07 68.80V493.60M1506.77 68.80V493.60M1532.48 68.80V493.60M1558.18 68.80V493.60M1583.88 68.80V493.60M1609.59 68.80V493.60M1635.29 68.80V493.60M1660.99 68.80V493.60M1686.70 68.80V493.60M171.70 89.20H1712.40M171.70 158.90H1712.40M171.70 216.60H1712.40M171.70 265.50H1712.40M171.70 307.90H1712.40M171.70 348.60H1712.40M171.70 382.00H1712.40M171.70 408.00H1712.40M171.70 434.80H1712.40M171.70 461.20H1712.40M171.70 487.30H1712.40" stroke="#fff" stroke-opacity="0.16" stroke-width="1.1" fill="none"/>
<path d="M170.05 74.18H185.80M170.05 81.31H185.80M170.05 88.44H185.80M170.05 95.57H185.80M170.05 102.70H185.80M170.05 109.83H185.80M170.05 116.96H185.80M170.05 124.09H185.80M170.05 131.22H185.80M170.05 145.48H185.80M170.05 152.61H185.80M170.05 159.74H185.80M170.05 166.87H185.80M170.05 174.00H185.80M170.05 181.13H185.80M170.05 188.26H185.80M170.05 195.39H185.80M170.05 202.52H185.80M170.05 216.78H185.80M170.05 223.91H185.80M170.05 231.04H185.80M170.05 238.17H185.80M170.05 245.30H185.80M170.05 252.43H185.80M170.05 259.56H185.80M170.05 266.69H185.80M170.05 273.82H185.80M170.05 288.08H185.80M170.05 295.21H185.80M170.05 302.34H185.80M170.05 309.47H185.80M170.05 316.60H185.80M170.05 323.73H185.80M170.05 330.86H185.80M170.05 337.99H185.80M170.05 345.12H185.80M170.05 359.38H185.80M170.05 366.51H185.80M170.05 373.64H185.80M170.05 380.77H185.80M170.05 387.90H185.80M170.05 395.03H185.80M170.05 402.16H185.80M170.05 409.29H185.80M170.05 416.42H185.80M170.05 430.68H185.80M170.05 437.81H185.80M170.05 444.94H185.80M170.05 452.07H185.80M170.05 459.20H185.80M170.05 466.33H185.80M170.05 473.46H185.80M170.05 480.59H185.80M170.05 487.72H185.80" stroke="#0d0c6a" stroke-width="3.2" fill="none"/>
<path d="M170.05 138.35H200.60M170.05 209.65H200.60M170.05 280.95H200.60M170.05 352.25H200.60M170.05 423.55H200.60" stroke="#0d0c6a" stroke-width="2.8" fill="none"/>
<path d="M1711.90 74.18H1697.50M1711.90 81.31H1697.50M1711.90 88.44H1697.50M1711.90 95.57H1697.50M1711.90 102.70H1697.50M1711.90 109.83H1697.50M1711.90 116.96H1697.50M1711.90 124.09H1697.50M1711.90 131.22H1697.50M1711.90 145.48H1697.50M1711.90 152.61H1697.50M1711.90 159.74H1697.50M1711.90 166.87H1697.50M1711.90 174.00H1697.50M1711.90 181.13H1697.50M1711.90 188.26H1697.50M1711.90 195.39H1697.50M1711.90 202.52H1697.50M1711.90 216.78H1697.50M1711.90 223.91H1697.50M1711.90 231.04H1697.50M1711.90 238.17H1697.50M1711.90 245.30H1697.50M1711.90 252.43H1697.50M1711.90 259.56H1697.50M1711.90 266.69H1697.50M1711.90 273.82H1697.50M1711.90 288.08H1697.50M1711.90 295.21H1697.50M1711.90 302.34H1697.50M1711.90 309.47H1697.50M1711.90 316.60H1697.50M1711.90 323.73H1697.50M1711.90 330.86H1697.50M1711.90 337.99H1697.50M1711.90 345.12H1697.50M1711.90 359.38H1697.50M1711.90 366.51H1697.50M1711.90 373.64H1697.50M1711.90 380.77H1697.50M1711.90 387.90H1697.50M1711.90 395.03H1697.50M1711.90 402.16H1697.50M1711.90 409.29H1697.50M1711.90 416.42H1697.50M1711.90 430.68H1697.50M1711.90 437.81H1697.50M1711.90 444.94H1697.50M1711.90 452.07H1697.50M1711.90 459.20H1697.50M1711.90 466.33H1697.50M1711.90 473.46H1697.50M1711.90 480.59H1697.50M1711.90 487.72H1697.50" stroke="#0d0c6a" stroke-width="2.9" fill="none"/>
<path d="M1711.90 138.35H1682.50M1711.90 209.65H1682.50M1711.90 280.95H1682.50M1711.90 352.25H1682.50M1711.90 423.55H1682.50" stroke="#0d0c6a" stroke-width="2.6" fill="none"/>
<path d="M234.65 67.05v3.5M234.65 495.20v-3.5M298.90 67.05v3.5M298.90 495.20v-3.5M363.15 67.05v3.5M363.15 495.20v-3.5M427.40 67.05v7.5M427.40 495.20v-7.5M491.65 67.05v3.5M491.65 495.20v-3.5M555.90 67.05v3.5M555.90 495.20v-3.5M620.15 67.05v3.5M620.15 495.20v-3.5M684.40 67.05v7.5M684.40 495.20v-7.5M748.65 67.05v3.5M748.65 495.20v-3.5M812.90 67.05v3.5M812.90 495.20v-3.5M877.15 67.05v3.5M877.15 495.20v-3.5M941.40 67.05v7.5M941.40 495.20v-7.5M1005.65 67.05v3.5M1005.65 495.20v-3.5M1069.90 67.05v3.5M1069.90 495.20v-3.5M1134.15 67.05v3.5M1134.15 495.20v-3.5M1198.40 67.05v7.5M1198.40 495.20v-7.5M1262.65 67.05v3.5M1262.65 495.20v-3.5M1326.90 67.05v3.5M1326.90 495.20v-3.5M1391.15 67.05v3.5M1391.15 495.20v-3.5M1455.40 67.05v7.5M1455.40 495.20v-7.5M1519.65 67.05v3.5M1519.65 495.20v-3.5M1583.90 67.05v3.5M1583.90 495.20v-3.5M1648.15 67.05v3.5M1648.15 495.20v-3.5" stroke="#0d0c6a" stroke-width="2.2" fill="none"/>
<rect x="170.05" y="67.05" width="1541.85" height="428.15" fill="none" stroke="#0d0c6a" stroke-width="3.4"/>
<g shape-rendering="crispEdges">
<rect x="171.70" y="570.10" width="24.60" height="22.10" fill="#067cff"/>
<rect x="195.90" y="570.10" width="26.10" height="22.10" fill="#08b8ff"/>
<rect x="221.60" y="570.10" width="26.10" height="22.10" fill="#067cff"/>
<rect x="247.31" y="570.10" width="77.51" height="22.10" fill="#08b8ff"/>
<rect x="324.42" y="570.10" width="26.10" height="22.10" fill="#067cff"/>
<rect x="350.12" y="570.10" width="26.10" height="22.10" fill="#7aff88"/>
<rect x="375.82" y="570.10" width="26.10" height="22.10" fill="#04f6fc"/>
<rect x="401.53" y="570.10" width="26.10" height="22.10" fill="#08b8ff"/>
<rect x="427.23" y="570.10" width="26.10" height="22.10" fill="#0000c0"/>
<rect x="452.93" y="570.10" width="26.10" height="22.10" fill="#ff8a0a"/>
<rect x="478.64" y="570.10" width="26.10" height="22.10" fill="#04f6fc"/>
<rect x="504.34" y="570.10" width="26.10" height="22.10" fill="#0442fb"/>
<rect x="530.04" y="570.10" width="51.81" height="22.10" fill="#067cff"/>
<rect x="581.45" y="570.10" width="26.10" height="22.10" fill="#3effc4"/>
<rect x="607.15" y="570.10" width="26.10" height="22.10" fill="#7aff88"/>
<rect x="632.86" y="570.10" width="26.10" height="22.10" fill="#0442fb"/>
<rect x="658.56" y="570.10" width="51.81" height="22.10" fill="#04f6fc"/>
<rect x="709.97" y="570.10" width="26.10" height="22.10" fill="#067cff"/>
<rect x="735.67" y="570.10" width="26.10" height="22.10" fill="#7aff88"/>
<rect x="761.37" y="570.10" width="26.10" height="22.10" fill="#067cff"/>
<rect x="787.08" y="570.10" width="26.10" height="22.10" fill="#b4ff4e"/>
<rect x="812.78" y="570.10" width="26.10" height="22.10" fill="#e6fc1a"/>
<rect x="838.48" y="570.10" width="26.10" height="22.10" fill="#b4ff4e"/>
<rect x="864.19" y="570.10" width="26.10" height="22.10" fill="#ff8a0a"/>
<rect x="889.89" y="570.10" width="26.10" height="22.10" fill="#fb4d12"/>
<rect x="915.59" y="570.10" width="26.10" height="22.10" fill="#ffc80a"/>
<rect x="967.00" y="570.10" width="26.10" height="22.10" fill="#e6fc1a"/>
<rect x="1018.41" y="570.10" width="51.81" height="22.10" fill="#e6fc1a"/>
<rect x="1069.82" y="570.10" width="26.10" height="22.10" fill="#08b8ff"/>
<rect x="1095.52" y="570.10" width="26.10" height="22.10" fill="#ffc80a"/>
<rect x="1146.93" y="570.10" width="26.10" height="22.10" fill="#08b8ff"/>
<rect x="1172.63" y="570.10" width="26.10" height="22.10" fill="#0442fb"/>
<rect x="1198.33" y="570.10" width="51.81" height="22.10" fill="#7aff88"/>
<rect x="1249.74" y="570.10" width="26.10" height="22.10" fill="#067cff"/>
<rect x="1275.44" y="570.10" width="26.10" height="22.10" fill="#840000"/>
<rect x="1301.15" y="570.10" width="26.10" height="22.10" fill="#7aff88"/>
<rect x="1326.85" y="570.10" width="26.10" height="22.10" fill="#b4ff4e"/>
<rect x="1352.55" y="570.10" width="26.10" height="22.10" fill="#04f6fc"/>
<rect x="1378.26" y="570.10" width="26.10" height="22.10" fill="#ff8a0a"/>
<rect x="1403.96" y="570.10" width="26.10" height="22.10" fill="#840000"/>
<rect x="1455.37" y="570.10" width="26.10" height="22.10" fill="#ff8a0a"/>
<rect x="1481.07" y="570.10" width="26.10" height="22.10" fill="#e6fc1a"/>
<rect x="1506.77" y="570.10" width="26.10" height="22.10" fill="#0004fb"/>
<rect x="1532.48" y="570.10" width="26.10" height="22.10" fill="#08b8ff"/>
<rect x="1558.18" y="570.10" width="26.10" height="22.10" fill="#e6fc1a"/>
<rect x="1583.88" y="570.10" width="26.10" height="22.10" fill="#b4ff4e"/>
<rect x="1609.59" y="570.10" width="26.10" height="22.10" fill="#7aff88"/>
<rect x="1635.29" y="570.10" width="26.10" height="22.10" fill="#e6fc1a"/>
<rect x="1660.99" y="570.10" width="26.10" height="22.10" fill="#08b8ff"/>
<rect x="221.60" y="591.80" width="26.10" height="70.10" fill="#067cff"/>
<rect x="247.31" y="591.80" width="26.10" height="70.10" fill="#08b8ff"/>
<rect x="273.01" y="591.80" width="26.10" height="70.10" fill="#3effc4"/>
<rect x="298.71" y="591.80" width="26.10" height="70.10" fill="#04f6fc"/>
<rect x="324.42" y="591.80" width="26.10" height="70.10" fill="#3effc4"/>
<rect x="350.12" y="591.80" width="26.10" height="70.10" fill="#08b8ff"/>
<rect x="375.82" y="591.80" width="26.10" height="70.10" fill="#04f6fc"/>
<rect x="401.53" y="591.80" width="26.10" height="70.10" fill="#08b8ff"/>
<rect x="427.23" y="591.80" width="26.10" height="70.10" fill="#0000c0"/>
<rect x="452.93" y="591.80" width="26.10" height="70.10" fill="#04f6fc"/>
<rect x="478.64" y="591.80" width="26.10" height="70.10" fill="#08b8ff"/>
<rect x="504.34" y="591.80" width="26.10" height="70.10" fill="#067cff"/>
<rect x="530.04" y="591.80" width="51.81" height="70.10" fill="#0442fb"/>
<rect x="581.45" y="591.80" width="26.10" height="70.10" fill="#067cff"/>
<rect x="607.15" y="591.80" width="51.81" height="70.10" fill="#04f6fc"/>
<rect x="658.56" y="591.80" width="26.10" height="70.10" fill="#7aff88"/>
<rect x="684.26" y="591.80" width="77.51" height="70.10" fill="#0442fb"/>
<rect x="761.37" y="591.80" width="26.10" height="70.10" fill="#3effc4"/>
<rect x="787.08" y="591.80" width="26.10" height="70.10" fill="#7aff88"/>
<rect x="812.78" y="591.80" width="26.10" height="70.10" fill="#08b8ff"/>
<rect x="864.19" y="591.80" width="26.10" height="70.10" fill="#ffc80a"/>
<rect x="889.89" y="591.80" width="77.51" height="70.10" fill="#04f6fc"/>
<rect x="967.00" y="591.80" width="26.10" height="70.10" fill="#3effc4"/>
<rect x="1018.41" y="591.80" width="26.10" height="70.10" fill="#7aff88"/>
<rect x="1044.11" y="591.80" width="26.10" height="70.10" fill="#04f6fc"/>
<rect x="1069.82" y="591.80" width="26.10" height="70.10" fill="#0442fb"/>
<rect x="1095.52" y="591.80" width="51.81" height="70.10" fill="#3effc4"/>
<rect x="1146.93" y="591.80" width="51.81" height="70.10" fill="#0442fb"/>
<rect x="1198.33" y="591.80" width="26.10" height="70.10" fill="#08b8ff"/>
<rect x="1224.04" y="591.80" width="26.10" height="70.10" fill="#3effc4"/>
<rect x="1275.44" y="591.80" width="26.10" height="70.10" fill="#067cff"/>
<rect x="1301.15" y="591.80" width="26.10" height="70.10" fill="#08b8ff"/>
<rect x="1326.85" y="591.80" width="51.81" height="70.10" fill="#3effc4"/>
<rect x="1378.26" y="591.80" width="26.10" height="70.10" fill="#7aff88"/>
<rect x="1403.96" y="591.80" width="26.10" height="70.10" fill="#ffc80a"/>
<rect x="1455.37" y="591.80" width="51.81" height="70.10" fill="#08b8ff"/>
<rect x="1506.77" y="591.80" width="26.10" height="70.10" fill="#3effc4"/>
<rect x="1532.48" y="591.80" width="26.10" height="70.10" fill="#08b8ff"/>
<rect x="1558.18" y="591.80" width="26.10" height="70.10" fill="#fb4d12"/>
<rect x="1583.88" y="591.80" width="77.51" height="70.10" fill="#04f6fc"/>
<rect x="1660.99" y="591.80" width="26.10" height="70.10" fill="#840000"/>
<rect x="171.70" y="661.50" width="50.30" height="58.30" fill="#3effc4"/>
<rect x="221.60" y="661.50" width="26.10" height="58.30" fill="#04f6fc"/>
<rect x="247.31" y="661.50" width="26.10" height="58.30" fill="#3effc4"/>
<rect x="273.01" y="661.50" width="26.10" height="58.30" fill="#08b8ff"/>
<rect x="298.71" y="661.50" width="26.10" height="58.30" fill="#3effc4"/>
<rect x="324.42" y="661.50" width="26.10" height="58.30" fill="#067cff"/>
<rect x="350.12" y="661.50" width="51.81" height="58.30" fill="#08b8ff"/>
<rect x="401.53" y="661.50" width="26.10" height="58.30" fill="#3effc4"/>
<rect x="427.23" y="661.50" width="26.10" height="58.30" fill="#0000c0"/>
<rect x="452.93" y="661.50" width="26.10" height="58.30" fill="#08b8ff"/>
<rect x="478.64" y="661.50" width="26.10" height="58.30" fill="#04f6fc"/>
<rect x="504.34" y="661.50" width="26.10" height="58.30" fill="#08b8ff"/>
<rect x="530.04" y="661.50" width="26.10" height="58.30" fill="#0004fb"/>
<rect x="555.75" y="661.50" width="26.10" height="58.30" fill="#04f6fc"/>
<rect x="581.45" y="661.50" width="26.10" height="58.30" fill="#0442fb"/>
<rect x="607.15" y="661.50" width="26.10" height="58.30" fill="#04f6fc"/>
<rect x="632.86" y="661.50" width="26.10" height="58.30" fill="#067cff"/>
<rect x="658.56" y="661.50" width="26.10" height="58.30" fill="#0442fb"/>
<rect x="684.26" y="661.50" width="26.10" height="58.30" fill="#067cff"/>
<rect x="709.97" y="661.50" width="51.81" height="58.30" fill="#3effc4"/>
<rect x="787.08" y="661.50" width="26.10" height="58.30" fill="#ffc80a"/>
<rect x="812.78" y="661.50" width="26.10" height="58.30" fill="#3effc4"/>
<rect x="838.48" y="661.50" width="26.10" height="58.30" fill="#7aff88"/>
<rect x="864.19" y="661.50" width="26.10" height="58.30" fill="#e6fc1a"/>
<rect x="889.89" y="661.50" width="26.10" height="58.30" fill="#7aff88"/>
<rect x="915.59" y="661.50" width="51.81" height="58.30" fill="#3effc4"/>
<rect x="967.00" y="661.50" width="26.10" height="58.30" fill="#e6fc1a"/>
<rect x="1018.41" y="661.50" width="51.81" height="58.30" fill="#08b8ff"/>
<rect x="1069.82" y="661.50" width="26.10" height="58.30" fill="#b4ff4e"/>
<rect x="1095.52" y="661.50" width="26.10" height="58.30" fill="#04f6fc"/>
<rect x="1121.22" y="661.50" width="51.81" height="58.30" fill="#08b8ff"/>
<rect x="1172.63" y="661.50" width="26.10" height="58.30" fill="#04f6fc"/>
<rect x="1224.04" y="661.50" width="26.10" height="58.30" fill="#7aff88"/>
<rect x="1249.74" y="661.50" width="26.10" height="58.30" fill="#ff8a0a"/>
<rect x="1301.15" y="661.50" width="26.10" height="58.30" fill="#067cff"/>
<rect x="1326.85" y="661.50" width="26.10" height="58.30" fill="#b4ff4e"/>
<rect x="1352.55" y="661.50" width="26.10" height="58.30" fill="#067cff"/>
<rect x="1378.26" y="661.50" width="26.10" height="58.30" fill="#840000"/>
<rect x="1403.96" y="661.50" width="26.10" height="58.30" fill="#04f6fc"/>
<rect x="1429.66" y="661.50" width="77.51" height="58.30" fill="#b4ff4e"/>
<rect x="1506.77" y="661.50" width="26.10" height="58.30" fill="#7aff88"/>
<rect x="1532.48" y="661.50" width="26.10" height="58.30" fill="#b4ff4e"/>
<rect x="1558.18" y="661.50" width="26.10" height="58.30" fill="#7aff88"/>
<rect x="1583.88" y="661.50" width="26.10" height="58.30" fill="#067cff"/>
<rect x="1609.59" y="661.50" width="26.10" height="58.30" fill="#3effc4"/>
<rect x="1635.29" y="661.50" width="26.10" height="58.30" fill="#7aff88"/>
<rect x="1660.99" y="661.50" width="26.10" height="58.30" fill="#840000"/>
<rect x="1686.70" y="661.50" width="26.10" height="58.30" fill="#08b8ff"/>
<rect x="171.70" y="719.40" width="24.60" height="49.60" fill="#7aff88"/>
<rect x="195.90" y="719.40" width="26.10" height="49.60" fill="#067cff"/>
<rect x="221.60" y="719.40" width="26.10" height="49.60" fill="#0442fb"/>
<rect x="247.31" y="719.40" width="26.10" height="49.60" fill="#067cff"/>
<rect x="273.01" y="719.40" width="26.10" height="49.60" fill="#08b8ff"/>
<rect x="298.71" y="719.40" width="51.81" height="49.60" fill="#04f6fc"/>
<rect x="350.12" y="719.40" width="26.10" height="49.60" fill="#0442fb"/>
<rect x="375.82" y="719.40" width="26.10" height="49.60" fill="#0000c0"/>
<rect x="401.53" y="719.40" width="26.10" height="49.60" fill="#08b8ff"/>
<rect x="427.23" y="719.40" width="26.10" height="49.60" fill="#04f6fc"/>
<rect x="452.93" y="719.40" width="26.10" height="49.60" fill="#067cff"/>
<rect x="478.64" y="719.40" width="26.10" height="49.60" fill="#0442fb"/>
<rect x="504.34" y="719.40" width="26.10" height="49.60" fill="#067cff"/>
<rect x="530.04" y="719.40" width="26.10" height="49.60" fill="#0442fb"/>
<rect x="555.75" y="719.40" width="26.10" height="49.60" fill="#08b8ff"/>
<rect x="581.45" y="719.40" width="26.10" height="49.60" fill="#04f6fc"/>
<rect x="607.15" y="719.40" width="26.10" height="49.60" fill="#08b8ff"/>
<rect x="632.86" y="719.40" width="26.10" height="49.60" fill="#04f6fc"/>
<rect x="658.56" y="719.40" width="26.10" height="49.60" fill="#067cff"/>
<rect x="684.26" y="719.40" width="26.10" height="49.60" fill="#08b8ff"/>
<rect x="709.97" y="719.40" width="26.10" height="49.60" fill="#04f6fc"/>
<rect x="735.67" y="719.40" width="26.10" height="49.60" fill="#08b8ff"/>
<rect x="787.08" y="719.40" width="26.10" height="49.60" fill="#04f6fc"/>
<rect x="812.78" y="719.40" width="26.10" height="49.60" fill="#08b8ff"/>
<rect x="864.19" y="719.40" width="26.10" height="49.60" fill="#0442fb"/>
<rect x="889.89" y="719.40" width="26.10" height="49.60" fill="#04f6fc"/>
<rect x="915.59" y="719.40" width="26.10" height="49.60" fill="#067cff"/>
<rect x="941.30" y="719.40" width="51.81" height="49.60" fill="#04f6fc"/>
<rect x="1018.41" y="719.40" width="26.10" height="49.60" fill="#0442fb"/>
<rect x="1069.82" y="719.40" width="26.10" height="49.60" fill="#08b8ff"/>
<rect x="1095.52" y="719.40" width="26.10" height="49.60" fill="#0000c0"/>
<rect x="1121.22" y="719.40" width="51.81" height="49.60" fill="#0004fb"/>
<rect x="1172.63" y="719.40" width="51.81" height="49.60" fill="#08b8ff"/>
<rect x="1224.04" y="719.40" width="26.10" height="49.60" fill="#0004fb"/>
<rect x="1249.74" y="719.40" width="26.10" height="49.60" fill="#e6fc1a"/>
<rect x="1275.44" y="719.40" width="26.10" height="49.60" fill="#0004fb"/>
<rect x="1301.15" y="719.40" width="26.10" height="49.60" fill="#04f6fc"/>
<rect x="1326.85" y="719.40" width="26.10" height="49.60" fill="#ffc80a"/>
<rect x="1378.26" y="719.40" width="26.10" height="49.60" fill="#067cff"/>
<rect x="1403.96" y="719.40" width="26.10" height="49.60" fill="#840000"/>
<rect x="1455.37" y="719.40" width="26.10" height="49.60" fill="#04f6fc"/>
<rect x="1481.07" y="719.40" width="26.10" height="49.60" fill="#3effc4"/>
<rect x="1506.77" y="719.40" width="26.10" height="49.60" fill="#08b8ff"/>
<rect x="1532.48" y="719.40" width="51.81" height="49.60" fill="#3effc4"/>
<rect x="1583.88" y="719.40" width="26.10" height="49.60" fill="#04f6fc"/>
<rect x="1609.59" y="719.40" width="26.10" height="49.60" fill="#08b8ff"/>
<rect x="1635.29" y="719.40" width="26.10" height="49.60" fill="#3effc4"/>
<rect x="1660.99" y="719.40" width="26.10" height="49.60" fill="#840000"/>
<rect x="171.70" y="768.60" width="24.60" height="42.70" fill="#08b8ff"/>
<rect x="195.90" y="768.60" width="26.10" height="42.70" fill="#0442fb"/>
<rect x="221.60" y="768.60" width="51.81" height="42.70" fill="#067cff"/>
<rect x="273.01" y="768.60" width="26.10" height="42.70" fill="#08b8ff"/>
<rect x="298.71" y="768.60" width="26.10" height="42.70" fill="#067cff"/>
<rect x="324.42" y="768.60" width="26.10" height="42.70" fill="#0442fb"/>
<rect x="350.12" y="768.60" width="26.10" height="42.70" fill="#0000c0"/>
<rect x="375.82" y="768.60" width="26.10" height="42.70" fill="#067cff"/>
<rect x="401.53" y="768.60" width="51.81" height="42.70" fill="#08b8ff"/>
<rect x="452.93" y="768.60" width="26.10" height="42.70" fill="#0442fb"/>
<rect x="478.64" y="768.60" width="26.10" height="42.70" fill="#067cff"/>
<rect x="504.34" y="768.60" width="26.10" height="42.70" fill="#0442fb"/>
<rect x="530.04" y="768.60" width="26.10" height="42.70" fill="#0004fb"/>
<rect x="555.75" y="768.60" width="26.10" height="42.70" fill="#0442fb"/>
<rect x="581.45" y="768.60" width="26.10" height="42.70" fill="#067cff"/>
<rect x="607.15" y="768.60" width="26.10" height="42.70" fill="#0000c0"/>
<rect x="632.86" y="768.60" width="51.81" height="42.70" fill="#067cff"/>
<rect x="684.26" y="768.60" width="77.51" height="42.70" fill="#08b8ff"/>
<rect x="761.37" y="768.60" width="26.10" height="42.70" fill="#067cff"/>
<rect x="787.08" y="768.60" width="51.81" height="42.70" fill="#3effc4"/>
<rect x="838.48" y="768.60" width="26.10" height="42.70" fill="#067cff"/>
<rect x="864.19" y="768.60" width="26.10" height="42.70" fill="#04f6fc"/>
<rect x="889.89" y="768.60" width="26.10" height="42.70" fill="#08b8ff"/>
<rect x="915.59" y="768.60" width="26.10" height="42.70" fill="#0442fb"/>
<rect x="941.30" y="768.60" width="26.10" height="42.70" fill="#067cff"/>
<rect x="967.00" y="768.60" width="26.10" height="42.70" fill="#08b8ff"/>
<rect x="1018.41" y="768.60" width="26.10" height="42.70" fill="#0004fb"/>
<rect x="1044.11" y="768.60" width="26.10" height="42.70" fill="#067cff"/>
<rect x="1069.82" y="768.60" width="51.81" height="42.70" fill="#0442fb"/>
<rect x="1121.22" y="768.60" width="51.81" height="42.70" fill="#08b8ff"/>
<rect x="1172.63" y="768.60" width="26.10" height="42.70" fill="#067cff"/>
<rect x="1198.33" y="768.60" width="26.10" height="42.70" fill="#04f6fc"/>
<rect x="1224.04" y="768.60" width="26.10" height="42.70" fill="#067cff"/>
<rect x="1249.74" y="768.60" width="26.10" height="42.70" fill="#fb4d12"/>
<rect x="1301.15" y="768.60" width="26.10" height="42.70" fill="#08b8ff"/>
<rect x="1326.85" y="768.60" width="77.51" height="42.70" fill="#04f6fc"/>
<rect x="1403.96" y="768.60" width="26.10" height="42.70" fill="#0442fb"/>
<rect x="1429.66" y="768.60" width="26.10" height="42.70" fill="#e6fc1a"/>
<rect x="1455.37" y="768.60" width="26.10" height="42.70" fill="#0442fb"/>
<rect x="1481.07" y="768.60" width="26.10" height="42.70" fill="#067cff"/>
<rect x="1558.18" y="768.60" width="26.10" height="42.70" fill="#e6fc1a"/>
<rect x="1583.88" y="768.60" width="26.10" height="42.70" fill="#b4ff4e"/>
<rect x="1609.59" y="768.60" width="26.10" height="42.70" fill="#04f6fc"/>
<rect x="1635.29" y="768.60" width="26.10" height="42.70" fill="#067cff"/>
<rect x="1660.99" y="768.60" width="51.81" height="42.70" fill="#840000"/>
<rect x="171.70" y="810.90" width="24.60" height="41.30" fill="#04f6fc"/>
<rect x="195.90" y="810.90" width="77.51" height="41.30" fill="#0442fb"/>
<rect x="273.01" y="810.90" width="26.10" height="41.30" fill="#067cff"/>
<rect x="298.71" y="810.90" width="26.10" height="41.30" fill="#0442fb"/>
<rect x="324.42" y="810.90" width="26.10" height="41.30" fill="#0004fb"/>
<rect x="350.12" y="810.90" width="26.10" height="41.30" fill="#0442fb"/>
<rect x="375.82" y="810.90" width="77.51" height="41.30" fill="#067cff"/>
<rect x="452.93" y="810.90" width="77.51" height="41.30" fill="#0442fb"/>
<rect x="530.04" y="810.90" width="26.10" height="41.30" fill="#067cff"/>
<rect x="555.75" y="810.90" width="26.10" height="41.30" fill="#0442fb"/>
<rect x="581.45" y="810.90" width="26.10" height="41.30" fill="#0000c0"/>
<rect x="607.15" y="810.90" width="51.81" height="41.30" fill="#0442fb"/>
<rect x="658.56" y="810.90" width="26.10" height="41.30" fill="#08b8ff"/>
<rect x="684.26" y="810.90" width="26.10" height="41.30" fill="#04f6fc"/>
<rect x="709.97" y="810.90" width="26.10" height="41.30" fill="#3effc4"/>
<rect x="735.67" y="810.90" width="26.10" height="41.30" fill="#b4ff4e"/>
<rect x="761.37" y="810.90" width="26.10" height="41.30" fill="#e6fc1a"/>
<rect x="787.08" y="810.90" width="77.51" height="41.30" fill="#ffc80a"/>
<rect x="864.19" y="810.90" width="26.10" height="41.30" fill="#b4ff4e"/>
<rect x="889.89" y="810.90" width="26.10" height="41.30" fill="#067cff"/>
<rect x="915.59" y="810.90" width="51.81" height="41.30" fill="#0442fb"/>
<rect x="967.00" y="810.90" width="26.10" height="41.30" fill="#067cff"/>
<rect x="1018.41" y="810.90" width="26.10" height="41.30" fill="#0442fb"/>
<rect x="1044.11" y="810.90" width="26.10" height="41.30" fill="#08b8ff"/>
<rect x="1069.82" y="810.90" width="26.10" height="41.30" fill="#04f6fc"/>
<rect x="1095.52" y="810.90" width="26.10" height="41.30" fill="#067cff"/>
<rect x="1121.22" y="810.90" width="77.51" height="41.30" fill="#3effc4"/>
<rect x="1198.33" y="810.90" width="26.10" height="41.30" fill="#b4ff4e"/>
<rect x="1224.04" y="810.90" width="26.10" height="41.30" fill="#e6fc1a"/>
<rect x="1249.74" y="810.90" width="26.10" height="41.30" fill="#840000"/>
<rect x="1301.15" y="810.90" width="26.10" height="41.30" fill="#067cff"/>
<rect x="1326.85" y="810.90" width="26.10" height="41.30" fill="#ffc80a"/>
<rect x="1352.55" y="810.90" width="26.10" height="41.30" fill="#c41010"/>
<rect x="1378.26" y="810.90" width="26.10" height="41.30" fill="#e6fc1a"/>
<rect x="1403.96" y="810.90" width="26.10" height="41.30" fill="#fb4d12"/>
<rect x="1429.66" y="810.90" width="26.10" height="41.30" fill="#c41010"/>
<rect x="1455.37" y="810.90" width="26.10" height="41.30" fill="#e6fc1a"/>
<rect x="1481.07" y="810.90" width="77.51" height="41.30" fill="#b4ff4e"/>
<rect x="1609.59" y="810.90" width="26.10" height="41.30" fill="#ff8a0a"/>
<rect x="1635.29" y="810.90" width="26.10" height="41.30" fill="#fb4d12"/>
<rect x="1660.99" y="810.90" width="26.10" height="41.30" fill="#ff8a0a"/>
<rect x="1686.70" y="810.90" width="26.10" height="41.30" fill="#840000"/>
<rect x="171.70" y="851.80" width="24.60" height="33.40" fill="#067cff"/>
<rect x="195.90" y="851.80" width="51.81" height="33.40" fill="#0442fb"/>
<rect x="247.31" y="851.80" width="51.81" height="33.40" fill="#0004fb"/>
<rect x="298.71" y="851.80" width="26.10" height="33.40" fill="#067cff"/>
<rect x="324.42" y="851.80" width="26.10" height="33.40" fill="#0004fb"/>
<rect x="350.12" y="851.80" width="103.21" height="33.40" fill="#0442fb"/>
<rect x="452.93" y="851.80" width="51.81" height="33.40" fill="#0004fb"/>
<rect x="504.34" y="851.80" width="26.10" height="33.40" fill="#067cff"/>
<rect x="530.04" y="851.80" width="26.10" height="33.40" fill="#0000c0"/>
<rect x="555.75" y="851.80" width="26.10" height="33.40" fill="#067cff"/>
<rect x="581.45" y="851.80" width="26.10" height="33.40" fill="#0004fb"/>
<rect x="607.15" y="851.80" width="26.10" height="33.40" fill="#0000c0"/>
<rect x="632.86" y="851.80" width="26.10" height="33.40" fill="#0442fb"/>
<rect x="658.56" y="851.80" width="26.10" height="33.40" fill="#067cff"/>
<rect x="684.26" y="851.80" width="51.81" height="33.40" fill="#08b8ff"/>
<rect x="735.67" y="851.80" width="26.10" height="33.40" fill="#04f6fc"/>
<rect x="761.37" y="851.80" width="77.51" height="33.40" fill="#3effc4"/>
<rect x="838.48" y="851.80" width="26.10" height="33.40" fill="#b4ff4e"/>
<rect x="864.19" y="851.80" width="26.10" height="33.40" fill="#04f6fc"/>
<rect x="889.89" y="851.80" width="103.21" height="33.40" fill="#0442fb"/>
<rect x="1018.41" y="851.80" width="128.92" height="33.40" fill="#067cff"/>
<rect x="1146.93" y="851.80" width="26.10" height="33.40" fill="#04f6fc"/>
<rect x="1172.63" y="851.80" width="26.10" height="33.40" fill="#067cff"/>
<rect x="1198.33" y="851.80" width="51.81" height="33.40" fill="#7aff88"/>
<rect x="1249.74" y="851.80" width="26.10" height="33.40" fill="#e6fc1a"/>
<rect x="1301.15" y="851.80" width="26.10" height="33.40" fill="#e6fc1a"/>
<rect x="1326.85" y="851.80" width="26.10" height="33.40" fill="#08b8ff"/>
<rect x="1352.55" y="851.80" width="26.10" height="33.40" fill="#b4ff4e"/>
<rect x="1378.26" y="851.80" width="26.10" height="33.40" fill="#04f6fc"/>
<rect x="1403.96" y="851.80" width="51.81" height="33.40" fill="#e6fc1a"/>
<rect x="1455.37" y="851.80" width="26.10" height="33.40" fill="#7aff88"/>
<rect x="1481.07" y="851.80" width="26.10" height="33.40" fill="#3effc4"/>
<rect x="1506.77" y="851.80" width="26.10" height="33.40" fill="#04f6fc"/>
<rect x="1532.48" y="851.80" width="26.10" height="33.40" fill="#08b8ff"/>
<rect x="1558.18" y="851.80" width="26.10" height="33.40" fill="#7aff88"/>
<rect x="1609.59" y="851.80" width="26.10" height="33.40" fill="#e6fc1a"/>
<rect x="1635.29" y="851.80" width="26.10" height="33.40" fill="#067cff"/>
<rect x="1660.99" y="851.80" width="26.10" height="33.40" fill="#e6fc1a"/>
<rect x="1686.70" y="851.80" width="26.10" height="33.40" fill="#ffc80a"/>
<rect x="171.70" y="884.80" width="24.60" height="27.30" fill="#7aff88"/>
<rect x="195.90" y="884.80" width="26.10" height="27.30" fill="#0004fb"/>
<rect x="221.60" y="884.80" width="26.10" height="27.30" fill="#0000c0"/>
<rect x="247.31" y="884.80" width="51.81" height="27.30" fill="#0442fb"/>
<rect x="298.71" y="884.80" width="26.10" height="27.30" fill="#0004fb"/>
<rect x="324.42" y="884.80" width="26.10" height="27.30" fill="#0442fb"/>
<rect x="350.12" y="884.80" width="26.10" height="27.30" fill="#067cff"/>
<rect x="375.82" y="884.80" width="26.10" height="27.30" fill="#0442fb"/>
<rect x="401.53" y="884.80" width="26.10" height="27.30" fill="#0004fb"/>
<rect x="427.23" y="884.80" width="26.10" height="27.30" fill="#0442fb"/>
<rect x="452.93" y="884.80" width="26.10" height="27.30" fill="#04f6fc"/>
<rect x="478.64" y="884.80" width="77.51" height="27.30" fill="#0004fb"/>
<rect x="555.75" y="884.80" width="26.10" height="27.30" fill="#840000"/>
<rect x="581.45" y="884.80" width="26.10" height="27.30" fill="#067cff"/>
<rect x="607.15" y="884.80" width="51.81" height="27.30" fill="#0000c0"/>
<rect x="658.56" y="884.80" width="26.10" height="27.30" fill="#067cff"/>
<rect x="684.26" y="884.80" width="26.10" height="27.30" fill="#0442fb"/>
<rect x="709.97" y="884.80" width="26.10" height="27.30" fill="#067cff"/>
<rect x="735.67" y="884.80" width="26.10" height="27.30" fill="#b4ff4e"/>
<rect x="761.37" y="884.80" width="26.10" height="27.30" fill="#3effc4"/>
<rect x="787.08" y="884.80" width="26.10" height="27.30" fill="#04f6fc"/>
<rect x="812.78" y="884.80" width="51.81" height="27.30" fill="#3effc4"/>
<rect x="864.19" y="884.80" width="26.10" height="27.30" fill="#067cff"/>
<rect x="889.89" y="884.80" width="103.21" height="27.30" fill="#0442fb"/>
<rect x="1018.41" y="884.80" width="77.51" height="27.30" fill="#0442fb"/>
<rect x="1095.52" y="884.80" width="103.21" height="27.30" fill="#067cff"/>
<rect x="1198.33" y="884.80" width="26.10" height="27.30" fill="#b4ff4e"/>
<rect x="1224.04" y="884.80" width="26.10" height="27.30" fill="#3effc4"/>
<rect x="1275.44" y="884.80" width="26.10" height="27.30" fill="#b4ff4e"/>
<rect x="1301.15" y="884.80" width="26.10" height="27.30" fill="#e6fc1a"/>
<rect x="1326.85" y="884.80" width="26.10" height="27.30" fill="#04f6fc"/>
<rect x="1352.55" y="884.80" width="26.10" height="27.30" fill="#7aff88"/>
<rect x="1378.26" y="884.80" width="26.10" height="27.30" fill="#3effc4"/>
<rect x="1403.96" y="884.80" width="26.10" height="27.30" fill="#7aff88"/>
<rect x="1429.66" y="884.80" width="51.81" height="27.30" fill="#04f6fc"/>
<rect x="1481.07" y="884.80" width="26.10" height="27.30" fill="#067cff"/>
<rect x="1506.77" y="884.80" width="26.10" height="27.30" fill="#0442fb"/>
<rect x="1532.48" y="884.80" width="26.10" height="27.30" fill="#0004fb"/>
<rect x="1558.18" y="884.80" width="26.10" height="27.30" fill="#840000"/>
<rect x="1583.88" y="884.80" width="26.10" height="27.30" fill="#04f6fc"/>
<rect x="1609.59" y="884.80" width="26.10" height="27.30" fill="#7aff88"/>
<rect x="1635.29" y="884.80" width="26.10" height="27.30" fill="#04f6fc"/>
<rect x="1660.99" y="884.80" width="26.10" height="27.30" fill="#3effc4"/>
<rect x="1686.70" y="884.80" width="26.10" height="27.30" fill="#e6fc1a"/>
<rect x="171.70" y="911.70" width="24.60" height="27.40" fill="#b4ff4e"/>
<rect x="195.90" y="911.70" width="26.10" height="27.40" fill="#0000c0"/>
<rect x="221.60" y="911.70" width="77.51" height="27.40" fill="#0442fb"/>
<rect x="298.71" y="911.70" width="26.10" height="27.40" fill="#0004fb"/>
<rect x="324.42" y="911.70" width="26.10" height="27.40" fill="#0442fb"/>
<rect x="350.12" y="911.70" width="26.10" height="27.40" fill="#0004fb"/>
<rect x="375.82" y="911.70" width="26.10" height="27.40" fill="#0000c0"/>
<rect x="401.53" y="911.70" width="26.10" height="27.40" fill="#0004fb"/>
<rect x="427.23" y="911.70" width="51.81" height="27.40" fill="#0442fb"/>
<rect x="478.64" y="911.70" width="26.10" height="27.40" fill="#0004fb"/>
<rect x="504.34" y="911.70" width="26.10" height="27.40" fill="#067cff"/>
<rect x="530.04" y="911.70" width="51.81" height="27.40" fill="#08b8ff"/>
<rect x="581.45" y="911.70" width="26.10" height="27.40" fill="#0000c0"/>
<rect x="607.15" y="911.70" width="51.81" height="27.40" fill="#0004fb"/>
<rect x="658.56" y="911.70" width="26.10" height="27.40" fill="#0442fb"/>
<rect x="684.26" y="911.70" width="26.10" height="27.40" fill="#0004fb"/>
<rect x="709.97" y="911.70" width="26.10" height="27.40" fill="#067cff"/>
<rect x="735.67" y="911.70" width="51.81" height="27.40" fill="#3effc4"/>
<rect x="787.08" y="911.70" width="26.10" height="27.40" fill="#067cff"/>
<rect x="812.78" y="911.70" width="51.81" height="27.40" fill="#08b8ff"/>
<rect x="864.19" y="911.70" width="26.10" height="27.40" fill="#067cff"/>
<rect x="889.89" y="911.70" width="77.51" height="27.40" fill="#0004fb"/>
<rect x="967.00" y="911.70" width="26.10" height="27.40" fill="#0442fb"/>
<rect x="1018.41" y="911.70" width="26.10" height="27.40" fill="#0442fb"/>
<rect x="1044.11" y="911.70" width="51.81" height="27.40" fill="#0004fb"/>
<rect x="1095.52" y="911.70" width="77.51" height="27.40" fill="#067cff"/>
<rect x="1172.63" y="911.70" width="26.10" height="27.40" fill="#04f6fc"/>
<rect x="1198.33" y="911.70" width="26.10" height="27.40" fill="#3effc4"/>
<rect x="1224.04" y="911.70" width="26.10" height="27.40" fill="#ffc80a"/>
<rect x="1249.74" y="911.70" width="51.81" height="27.40" fill="#f01204"/>
<rect x="1301.15" y="911.70" width="26.10" height="27.40" fill="#ffc80a"/>
<rect x="1326.85" y="911.70" width="77.51" height="27.40" fill="#067cff"/>
<rect x="1403.96" y="911.70" width="26.10" height="27.40" fill="#e6fc1a"/>
<rect x="1429.66" y="911.70" width="26.10" height="27.40" fill="#04f6fc"/>
<rect x="1455.37" y="911.70" width="26.10" height="27.40" fill="#0004fb"/>
<rect x="1481.07" y="911.70" width="51.81" height="27.40" fill="#0442fb"/>
<rect x="1532.48" y="911.70" width="26.10" height="27.40" fill="#0004fb"/>
<rect x="1558.18" y="911.70" width="26.10" height="27.40" fill="#e6fc1a"/>
<rect x="1583.88" y="911.70" width="26.10" height="27.40" fill="#04f6fc"/>
<rect x="1609.59" y="911.70" width="26.10" height="27.40" fill="#08b8ff"/>
<rect x="1635.29" y="911.70" width="26.10" height="27.40" fill="#067cff"/>
<rect x="1660.99" y="911.70" width="26.10" height="27.40" fill="#e6fc1a"/>
<rect x="1686.70" y="911.70" width="26.10" height="27.40" fill="#04f6fc"/>
<rect x="171.70" y="938.70" width="24.60" height="26.70" fill="#04f6fc"/>
<rect x="195.90" y="938.70" width="77.51" height="26.70" fill="#0000c0"/>
<rect x="273.01" y="938.70" width="77.51" height="26.70" fill="#0004fb"/>
<rect x="350.12" y="938.70" width="26.10" height="26.70" fill="#0000c0"/>
<rect x="375.82" y="938.70" width="26.10" height="26.70" fill="#0004fb"/>
<rect x="401.53" y="938.70" width="26.10" height="26.70" fill="#000088"/>
<rect x="427.23" y="938.70" width="26.10" height="26.70" fill="#08b8ff"/>
<rect x="452.93" y="938.70" width="26.10" height="26.70" fill="#000088"/>
<rect x="478.64" y="938.70" width="26.10" height="26.70" fill="#0000c0"/>
<rect x="504.34" y="938.70" width="26.10" height="26.70" fill="#067cff"/>
<rect x="530.04" y="938.70" width="26.10" height="26.70" fill="#ffc80a"/>
<rect x="555.75" y="938.70" width="26.10" height="26.70" fill="#04f6fc"/>
<rect x="581.45" y="938.70" width="26.10" height="26.70" fill="#3effc4"/>
<rect x="607.15" y="938.70" width="26.10" height="26.70" fill="#0004fb"/>
<rect x="632.86" y="938.70" width="26.10" height="26.70" fill="#0000c0"/>
<rect x="658.56" y="938.70" width="77.51" height="26.70" fill="#0004fb"/>
<rect x="735.67" y="938.70" width="26.10" height="26.70" fill="#067cff"/>
<rect x="787.08" y="938.70" width="26.10" height="26.70" fill="#067cff"/>
<rect x="812.78" y="938.70" width="51.81" height="26.70" fill="#0004fb"/>
<rect x="864.19" y="938.70" width="26.10" height="26.70" fill="#0442fb"/>
<rect x="889.89" y="938.70" width="26.10" height="26.70" fill="#0004fb"/>
<rect x="915.59" y="938.70" width="51.81" height="26.70" fill="#0000c0"/>
<rect x="967.00" y="938.70" width="26.10" height="26.70" fill="#0004fb"/>
<rect x="1018.41" y="938.70" width="26.10" height="26.70" fill="#0000c0"/>
<rect x="1044.11" y="938.70" width="26.10" height="26.70" fill="#0004fb"/>
<rect x="1069.82" y="938.70" width="26.10" height="26.70" fill="#0000c0"/>
<rect x="1095.52" y="938.70" width="26.10" height="26.70" fill="#067cff"/>
<rect x="1121.22" y="938.70" width="26.10" height="26.70" fill="#0004fb"/>
<rect x="1146.93" y="938.70" width="26.10" height="26.70" fill="#0442fb"/>
<rect x="1172.63" y="938.70" width="26.10" height="26.70" fill="#08b8ff"/>
<rect x="1198.33" y="938.70" width="26.10" height="26.70" fill="#0442fb"/>
<rect x="1224.04" y="938.70" width="26.10" height="26.70" fill="#0000c0"/>
<rect x="1249.74" y="938.70" width="26.10" height="26.70" fill="#0442fb"/>
<rect x="1326.85" y="938.70" width="26.10" height="26.70" fill="#000088"/>
<rect x="1352.55" y="938.70" width="51.81" height="26.70" fill="#0442fb"/>
<rect x="1403.96" y="938.70" width="77.51" height="26.70" fill="#0004fb"/>
<rect x="1481.07" y="938.70" width="77.51" height="26.70" fill="#0000c0"/>
<rect x="1558.18" y="938.70" width="26.10" height="26.70" fill="#840000"/>
<rect x="1583.88" y="938.70" width="26.10" height="26.70" fill="#067cff"/>
<rect x="1609.59" y="938.70" width="26.10" height="26.70" fill="#0004fb"/>
<rect x="1635.29" y="938.70" width="26.10" height="26.70" fill="#0442fb"/>
<rect x="1660.99" y="938.70" width="51.81" height="26.70" fill="#0004fb"/>
<rect x="171.70" y="965.00" width="24.60" height="27.70" fill="#840000"/>
<rect x="195.90" y="965.00" width="26.10" height="27.70" fill="#0442fb"/>
<rect x="221.60" y="965.00" width="26.10" height="27.70" fill="#04f6fc"/>
<rect x="247.31" y="965.00" width="26.10" height="27.70" fill="#067cff"/>
<rect x="273.01" y="965.00" width="51.81" height="27.70" fill="#0000c0"/>
<rect x="324.42" y="965.00" width="77.51" height="27.70" fill="#0442fb"/>
<rect x="452.93" y="965.00" width="26.10" height="27.70" fill="#840000"/>
<rect x="504.34" y="965.00" width="26.10" height="27.70" fill="#08b8ff"/>
<rect x="530.04" y="965.00" width="26.10" height="27.70" fill="#e6fc1a"/>
<rect x="555.75" y="965.00" width="26.10" height="27.70" fill="#ffc80a"/>
<rect x="607.15" y="965.00" width="26.10" height="27.70" fill="#0004fb"/>
<rect x="632.86" y="965.00" width="26.10" height="27.70" fill="#067cff"/>
<rect x="684.26" y="965.00" width="26.10" height="27.70" fill="#840000"/>
<rect x="761.37" y="965.00" width="26.10" height="27.70" fill="#08b8ff"/>
<rect x="787.08" y="965.00" width="26.10" height="27.70" fill="#04f6fc"/>
<rect x="838.48" y="965.00" width="26.10" height="27.70" fill="#0442fb"/>
<rect x="864.19" y="965.00" width="26.10" height="27.70" fill="#0000c0"/>
<rect x="889.89" y="965.00" width="26.10" height="27.70" fill="#0442fb"/>
<rect x="915.59" y="965.00" width="26.10" height="27.70" fill="#000088"/>
<rect x="941.30" y="965.00" width="26.10" height="27.70" fill="#0000c0"/>
<rect x="1018.41" y="965.00" width="26.10" height="27.70" fill="#0442fb"/>
<rect x="1044.11" y="965.00" width="26.10" height="27.70" fill="#0004fb"/>
<rect x="1069.82" y="965.00" width="103.21" height="27.70" fill="#0000c0"/>
<rect x="1172.63" y="965.00" width="51.81" height="27.70" fill="#0442fb"/>
<rect x="1301.15" y="965.00" width="26.10" height="27.70" fill="#3effc4"/>
<rect x="1326.85" y="965.00" width="26.10" height="27.70" fill="#0004fb"/>
<rect x="1352.55" y="965.00" width="26.10" height="27.70" fill="#0000c0"/>
<rect x="1378.26" y="965.00" width="26.10" height="27.70" fill="#08b8ff"/>
<rect x="1403.96" y="965.00" width="103.21" height="27.70" fill="#0004fb"/>
<rect x="1506.77" y="965.00" width="26.10" height="27.70" fill="#08b8ff"/>
<rect x="1532.48" y="965.00" width="26.10" height="27.70" fill="#0004fb"/>
<rect x="1558.18" y="965.00" width="26.10" height="27.70" fill="#ffc80a"/>
<rect x="1583.88" y="965.00" width="26.10" height="27.70" fill="#0000c0"/>
<rect x="1609.59" y="965.00" width="26.10" height="27.70" fill="#0004fb"/>
<rect x="1660.99" y="965.00" width="26.10" height="27.70" fill="#0000c0"/>
<rect x="1686.70" y="965.00" width="26.10" height="27.70" fill="#0004fb"/>
<rect x="195.90" y="992.30" width="26.10" height="6.30" fill="#04f6fc"/>
<rect x="221.60" y="992.30" width="26.10" height="6.30" fill="#0004fb"/>
<rect x="298.71" y="992.30" width="26.10" height="6.30" fill="#0442fb"/>
<rect x="324.42" y="992.30" width="26.10" height="6.30" fill="#840000"/>
<rect x="427.23" y="992.30" width="26.10" height="6.30" fill="#0000c0"/>
<rect x="504.34" y="992.30" width="26.10" height="6.30" fill="#ffc80a"/>
<rect x="530.04" y="992.30" width="51.81" height="6.30" fill="#840000"/>
<rect x="761.37" y="992.30" width="26.10" height="6.30" fill="#ff8a0a"/>
<rect x="812.78" y="992.30" width="26.10" height="6.30" fill="#840000"/>
<rect x="838.48" y="992.30" width="26.10" height="6.30" fill="#04f6fc"/>
<rect x="915.59" y="992.30" width="26.10" height="6.30" fill="#840000"/>
<rect x="941.30" y="992.30" width="26.10" height="6.30" fill="#0000c0"/>
<rect x="1044.11" y="992.30" width="26.10" height="6.30" fill="#0000c0"/>
<rect x="1121.22" y="992.30" width="26.10" height="6.30" fill="#08b8ff"/>
<rect x="1172.63" y="992.30" width="26.10" height="6.30" fill="#0000c0"/>
<rect x="1249.74" y="992.30" width="26.10" height="6.30" fill="#0000c0"/>
<rect x="1275.44" y="992.30" width="26.10" height="6.30" fill="#840000"/>
<rect x="1301.15" y="992.30" width="26.10" height="6.30" fill="#0004fb"/>
<rect x="1326.85" y="992.30" width="26.10" height="6.30" fill="#0442fb"/>
<rect x="1378.26" y="992.30" width="26.10" height="6.30" fill="#067cff"/>
<rect x="1403.96" y="992.30" width="26.10" height="6.30" fill="#08b8ff"/>
<rect x="1481.07" y="992.30" width="26.10" height="6.30" fill="#0000c0"/>
<rect x="1506.77" y="992.30" width="26.10" height="6.30" fill="#04f6fc"/>
</g>
<g shape-rendering="crispEdges" fill="#fff">
<rect x="941.30" y="570.10" width="25.70" height="21.70"/>
<rect x="992.71" y="570.10" width="25.70" height="21.70"/>
<rect x="1121.22" y="570.10" width="25.70" height="21.70"/>
<rect x="1429.66" y="570.10" width="25.70" height="21.70"/>
<rect x="1686.70" y="570.10" width="25.70" height="21.70"/>
<rect x="171.70" y="591.80" width="49.90" height="69.70"/>
<rect x="838.48" y="591.80" width="25.70" height="69.70"/>
<rect x="992.71" y="591.80" width="25.70" height="69.70"/>
<rect x="1249.74" y="591.80" width="25.70" height="69.70"/>
<rect x="1429.66" y="591.80" width="25.70" height="69.70"/>
<rect x="1686.70" y="591.80" width="25.70" height="69.70"/>
<rect x="761.37" y="661.50" width="25.70" height="57.90"/>
<rect x="992.71" y="661.50" width="25.70" height="57.90"/>
<rect x="1198.33" y="661.50" width="25.70" height="57.90"/>
<rect x="1275.44" y="661.50" width="25.70" height="57.90"/>
<rect x="761.37" y="719.40" width="25.70" height="49.20"/>
<rect x="838.48" y="719.40" width="25.70" height="49.20"/>
<rect x="992.71" y="719.40" width="25.70" height="49.20"/>
<rect x="1044.11" y="719.40" width="25.70" height="49.20"/>
<rect x="1352.55" y="719.40" width="25.70" height="49.20"/>
<rect x="1429.66" y="719.40" width="25.70" height="49.20"/>
<rect x="1686.70" y="719.40" width="25.70" height="49.20"/>
<rect x="992.71" y="768.60" width="25.70" height="42.30"/>
<rect x="1275.44" y="768.60" width="25.70" height="42.30"/>
<rect x="1506.77" y="768.60" width="51.41" height="42.30"/>
<rect x="992.71" y="810.90" width="25.70" height="40.90"/>
<rect x="1275.44" y="810.90" width="25.70" height="40.90"/>
<rect x="1558.18" y="810.90" width="51.41" height="40.90"/>
<rect x="992.71" y="851.80" width="25.70" height="33.00"/>
<rect x="1275.44" y="851.80" width="25.70" height="33.00"/>
<rect x="1583.88" y="851.80" width="25.70" height="33.00"/>
<rect x="992.71" y="884.80" width="25.70" height="26.90"/>
<rect x="1249.74" y="884.80" width="25.70" height="26.90"/>
<rect x="992.71" y="911.70" width="25.70" height="27.00"/>
<rect x="761.37" y="938.70" width="25.70" height="26.30"/>
<rect x="992.71" y="938.70" width="25.70" height="26.30"/>
<rect x="1275.44" y="938.70" width="51.41" height="26.30"/>
<rect x="401.53" y="965.00" width="51.41" height="27.30"/>
<rect x="478.64" y="965.00" width="25.70" height="27.30"/>
<rect x="581.45" y="965.00" width="25.70" height="27.30"/>
<rect x="658.56" y="965.00" width="25.70" height="27.30"/>
<rect x="709.97" y="965.00" width="51.41" height="27.30"/>
<rect x="812.78" y="965.00" width="25.70" height="27.30"/>
<rect x="967.00" y="965.00" width="51.41" height="27.30"/>
<rect x="1224.04" y="965.00" width="77.11" height="27.30"/>
<rect x="1635.29" y="965.00" width="25.70" height="27.30"/>
<rect x="171.70" y="992.30" width="24.20" height="5.90"/>
<rect x="247.31" y="992.30" width="51.41" height="5.90"/>
<rect x="350.12" y="992.30" width="77.11" height="5.90"/>
<rect x="452.93" y="992.30" width="51.41" height="5.90"/>
<rect x="581.45" y="992.30" width="179.92" height="5.90"/>
<rect x="787.08" y="992.30" width="25.70" height="5.90"/>
<rect x="864.19" y="992.30" width="51.41" height="5.90"/>
<rect x="967.00" y="992.30" width="77.11" height="5.90"/>
<rect x="1069.82" y="992.30" width="51.41" height="5.90"/>
<rect x="1146.93" y="992.30" width="25.70" height="5.90"/>
<rect x="1198.33" y="992.30" width="51.41" height="5.90"/>
<rect x="1352.55" y="992.30" width="25.70" height="5.90"/>
<rect x="1429.66" y="992.30" width="51.41" height="5.90"/>
<rect x="1532.48" y="992.30" width="179.92" height="5.90"/>
</g>
<path d="M195.90 570.10V998.20M221.60 570.10V998.20M247.31 570.10V998.20M273.01 570.10V998.20M298.71 570.10V998.20M324.42 570.10V998.20M350.12 570.10V998.20M375.82 570.10V998.20M401.53 570.10V998.20M427.23 570.10V998.20M452.93 570.10V998.20M478.64 570.10V998.20M504.34 570.10V998.20M530.04 570.10V998.20M555.75 570.10V998.20M581.45 570.10V998.20M607.15 570.10V998.20M632.86 570.10V998.20M658.56 570.10V998.20M684.26 570.10V998.20M709.97 570.10V998.20M735.67 570.10V998.20M761.37 570.10V998.20M787.08 570.10V998.20M812.78 570.10V998.20M838.48 570.10V998.20M864.19 570.10V998.20M889.89 570.10V998.20M915.59 570.10V998.20M941.30 570.10V998.20M967.00 570.10V998.20M992.71 570.10V998.20M1018.41 570.10V998.20M1044.11 570.10V998.20M1069.82 570.10V998.20M1095.52 570.10V998.20M1121.22 570.10V998.20M1146.93 570.10V998.20M1172.63 570.10V998.20M1198.33 570.10V998.20M1224.04 570.10V998.20M1249.74 570.10V998.20M1275.44 570.10V998.20M1301.15 570.10V998.20M1326.85 570.10V998.20M1352.55 570.10V998.20M1378.26 570.10V998.20M1403.96 570.10V998.20M1429.66 570.10V998.20M1455.37 570.10V998.20M1481.07 570.10V998.20M1506.77 570.10V998.20M1532.48 570.10V998.20M1558.18 570.10V998.20M1583.88 570.10V998.20M1609.59 570.10V998.20M1635.29 570.10V998.20M1660.99 570.10V998.20M1686.70 570.10V998.20M171.70 591.80H1712.40M171.70 661.50H1712.40M171.70 719.40H1712.40M171.70 768.60H1712.40M171.70 810.90H1712.40M171.70 851.80H1712.40M171.70 884.80H1712.40M171.70 911.70H1712.40M171.70 938.70H1712.40M171.70 965.00H1712.40M171.70 992.30H1712.40" stroke="#fff" stroke-opacity="0.1" stroke-width="1.1" fill="none"/>
<path d="M170.05 575.33H185.80M170.05 582.46H185.80M170.05 589.59H185.80M170.05 596.72H185.80M170.05 603.85H185.80M170.05 610.98H185.80M170.05 618.11H185.80M170.05 625.24H185.80M170.05 632.37H185.80M170.05 646.63H185.80M170.05 653.76H185.80M170.05 660.89H185.80M170.05 668.02H185.80M170.05 675.15H185.80M170.05 682.28H185.80M170.05 689.41H185.80M170.05 696.54H185.80M170.05 703.67H185.80M170.05 717.93H185.80M170.05 725.06H185.80M170.05 732.19H185.80M170.05 739.32H185.80M170.05 746.45H185.80M170.05 753.58H185.80M170.05 760.71H185.80M170.05 767.84H185.80M170.05 774.97H185.80M170.05 789.23H185.80M170.05 796.36H185.80M170.05 803.49H185.80M170.05 810.62H185.80M170.05 817.75H185.80M170.05 824.88H185.80M170.05 832.01H185.80M170.05 839.14H185.80M170.05 846.27H185.80M170.05 860.53H185.80M170.05 867.66H185.80M170.05 874.79H185.80M170.05 881.92H185.80M170.05 889.05H185.80M170.05 896.18H185.80M170.05 903.31H185.80M170.05 910.44H185.80M170.05 917.57H185.80M170.05 931.83H185.80M170.05 938.96H185.80M170.05 946.09H185.80M170.05 953.22H185.80M170.05 960.35H185.80M170.05 967.48H185.80M170.05 974.61H185.80M170.05 981.74H185.80M170.05 988.87H185.80" stroke="#1a1a1a" stroke-width="3.2" fill="none"/>
<path d="M170.05 639.50H200.60M170.05 710.80H200.60M170.05 782.10H200.60M170.05 853.40H200.60M170.05 924.70H200.60" stroke="#1a1a1a" stroke-width="2.8" fill="none"/>
<path d="M1711.90 575.33H1697.50M1711.90 582.46H1697.50M1711.90 589.59H1697.50M1711.90 596.72H1697.50M1711.90 603.85H1697.50M1711.90 610.98H1697.50M1711.90 618.11H1697.50M1711.90 625.24H1697.50M1711.90 632.37H1697.50M1711.90 646.63H1697.50M1711.90 653.76H1697.50M1711.90 660.89H1697.50M1711.90 668.02H1697.50M1711.90 675.15H1697.50M1711.90 682.28H1697.50M1711.90 689.41H1697.50M1711.90 696.54H1697.50M1711.90 703.67H1697.50M1711.90 717.93H1697.50M1711.90 725.06H1697.50M1711.90 732.19H1697.50M1711.90 739.32H1697.50M1711.90 746.45H1697.50M1711.90 753.58H1697.50M1711.90 760.71H1697.50M1711.90 767.84H1697.50M1711.90 774.97H1697.50M1711.90 789.23H1697.50M1711.90 796.36H1697.50M1711.90 803.49H1697.50M1711.90 810.62H1697.50M1711.90 817.75H1697.50M1711.90 824.88H1697.50M1711.90 832.01H1697.50M1711.90 839.14H1697.50M1711.90 846.27H1697.50M1711.90 860.53H1697.50M1711.90 867.66H1697.50M1711.90 874.79H1697.50M1711.90 881.92H1697.50M1711.90 889.05H1697.50M1711.90 896.18H1697.50M1711.90 903.31H1697.50M1711.90 910.44H1697.50M1711.90 917.57H1697.50M1711.90 931.83H1697.50M1711.90 938.96H1697.50M1711.90 946.09H1697.50M1711.90 953.22H1697.50M1711.90 960.35H1697.50M1711.90 967.48H1697.50M1711.90 974.61H1697.50M1711.90 981.74H1697.50M1711.90 988.87H1697.50" stroke="#10108c" stroke-width="2.0" fill="none"/>
<path d="M1711.90 639.50H1682.50M1711.90 710.80H1682.50M1711.90 782.10H1682.50M1711.90 853.40H1682.50M1711.90 924.70H1682.50" stroke="#1a1a1a" stroke-width="2.6" fill="none"/>
<path d="M234.65 568.30v3.5M234.65 999.80v-3.5M298.90 568.30v3.5M298.90 999.80v-3.5M363.15 568.30v3.5M363.15 999.80v-3.5M427.40 568.30v7.5M427.40 999.80v-7.5M491.65 568.30v3.5M491.65 999.80v-3.5M555.90 568.30v3.5M555.90 999.80v-3.5M620.15 568.30v3.5M620.15 999.80v-3.5M684.40 568.30v7.5M684.40 999.80v-7.5M748.65 568.30v3.5M748.65 999.80v-3.5M812.90 568.30v3.5M812.90 999.80v-3.5M877.15 568.30v3.5M877.15 999.80v-3.5M941.40 568.30v7.5M941.40 999.80v-7.5M1005.65 568.30v3.5M1005.65 999.80v-3.5M1069.90 568.30v3.5M1069.90 999.80v-3.5M1134.15 568.30v3.5M1134.15 999.80v-3.5M1198.40 568.30v7.5M1198.40 999.80v-7.5M1262.65 568.30v3.5M1262.65 999.80v-3.5M1326.90 568.30v3.5M1326.90 999.80v-3.5M1391.15 568.30v3.5M1391.15 999.80v-3.5M1455.40 568.30v7.5M1455.40 999.80v-7.5M1519.65 568.30v3.5M1519.65 999.80v-3.5M1583.90 568.30v3.5M1583.90 999.80v-3.5M1648.15 568.30v3.5M1648.15 999.80v-3.5" stroke="#1a1a1a" stroke-width="2.2" fill="none"/>
<rect x="170.05" y="568.30" width="1541.85" height="431.50" fill="none" stroke="#1a1a1a" stroke-width="3.4"/>
<g shape-rendering="crispEdges">
<rect x="171.70" y="1066.30" width="24.60" height="22.50" fill="#0000c0"/>
<rect x="195.90" y="1066.30" width="26.10" height="22.50" fill="#04f6fc"/>
<rect x="221.60" y="1066.30" width="26.10" height="22.50" fill="#ffc80a"/>
<rect x="247.31" y="1066.30" width="26.10" height="22.50" fill="#7aff88"/>
<rect x="273.01" y="1066.30" width="26.10" height="22.50" fill="#b4ff4e"/>
<rect x="298.71" y="1066.30" width="26.10" height="22.50" fill="#e6fc1a"/>
<rect x="324.42" y="1066.30" width="26.10" height="22.50" fill="#ffc80a"/>
<rect x="350.12" y="1066.30" width="26.10" height="22.50" fill="#08b8ff"/>
<rect x="375.82" y="1066.30" width="26.10" height="22.50" fill="#f01204"/>
<rect x="401.53" y="1066.30" width="26.10" height="22.50" fill="#04f6fc"/>
<rect x="427.23" y="1066.30" width="26.10" height="22.50" fill="#c41010"/>
<rect x="452.93" y="1066.30" width="26.10" height="22.50" fill="#08b8ff"/>
<rect x="478.64" y="1066.30" width="26.10" height="22.50" fill="#b4ff4e"/>
<rect x="504.34" y="1066.30" width="26.10" height="22.50" fill="#f01204"/>
<rect x="530.04" y="1066.30" width="26.10" height="22.50" fill="#840000"/>
<rect x="555.75" y="1066.30" width="26.10" height="22.50" fill="#fb4d12"/>
<rect x="581.45" y="1066.30" width="26.10" height="22.50" fill="#08b8ff"/>
<rect x="607.15" y="1066.30" width="26.10" height="22.50" fill="#ff8a0a"/>
<rect x="632.86" y="1066.30" width="26.10" height="22.50" fill="#840000"/>
<rect x="658.56" y="1066.30" width="26.10" height="22.50" fill="#b4ff4e"/>
<rect x="684.26" y="1066.30" width="26.10" height="22.50" fill="#7aff88"/>
<rect x="709.97" y="1066.30" width="26.10" height="22.50" fill="#840000"/>
<rect x="735.67" y="1066.30" width="26.10" height="22.50" fill="#ff8a0a"/>
<rect x="761.37" y="1066.30" width="26.10" height="22.50" fill="#c41010"/>
<rect x="787.08" y="1066.30" width="26.10" height="22.50" fill="#840000"/>
<rect x="812.78" y="1066.30" width="26.10" height="22.50" fill="#b4ff4e"/>
<rect x="838.48" y="1066.30" width="51.81" height="22.50" fill="#ff8a0a"/>
<rect x="889.89" y="1066.30" width="26.10" height="22.50" fill="#f01204"/>
<rect x="915.59" y="1066.30" width="26.10" height="22.50" fill="#04f6fc"/>
<rect x="967.00" y="1066.30" width="26.10" height="22.50" fill="#067cff"/>
<rect x="1018.41" y="1066.30" width="26.10" height="22.50" fill="#3effc4"/>
<rect x="1044.11" y="1066.30" width="26.10" height="22.50" fill="#e6fc1a"/>
<rect x="1069.82" y="1066.30" width="26.10" height="22.50" fill="#840000"/>
<rect x="1095.52" y="1066.30" width="26.10" height="22.50" fill="#e6fc1a"/>
<rect x="1146.93" y="1066.30" width="26.10" height="22.50" fill="#ffc80a"/>
<rect x="1172.63" y="1066.30" width="26.10" height="22.50" fill="#840000"/>
<rect x="1198.33" y="1066.30" width="26.10" height="22.50" fill="#c41010"/>
<rect x="1224.04" y="1066.30" width="26.10" height="22.50" fill="#f01204"/>
<rect x="1249.74" y="1066.30" width="26.10" height="22.50" fill="#840000"/>
<rect x="1275.44" y="1066.30" width="26.10" height="22.50" fill="#067cff"/>
<rect x="1301.15" y="1066.30" width="51.81" height="22.50" fill="#840000"/>
<rect x="1352.55" y="1066.30" width="26.10" height="22.50" fill="#ff8a0a"/>
<rect x="1378.26" y="1066.30" width="26.10" height="22.50" fill="#840000"/>
<rect x="1403.96" y="1066.30" width="26.10" height="22.50" fill="#3effc4"/>
<rect x="1455.37" y="1066.30" width="26.10" height="22.50" fill="#ffc80a"/>
<rect x="1481.07" y="1066.30" width="77.51" height="22.50" fill="#840000"/>
<rect x="1558.18" y="1066.30" width="26.10" height="22.50" fill="#b4ff4e"/>
<rect x="1583.88" y="1066.30" width="26.10" height="22.50" fill="#3effc4"/>
<rect x="1609.59" y="1066.30" width="26.10" height="22.50" fill="#840000"/>
<rect x="1635.29" y="1066.30" width="26.10" height="22.50" fill="#fb4d12"/>
<rect x="1660.99" y="1066.30" width="26.10" height="22.50" fill="#0000c0"/>
<rect x="221.60" y="1088.40" width="26.10" height="70.00" fill="#08b8ff"/>
<rect x="247.31" y="1088.40" width="26.10" height="70.00" fill="#b4ff4e"/>
<rect x="273.01" y="1088.40" width="26.10" height="70.00" fill="#ff8a0a"/>
<rect x="298.71" y="1088.40" width="51.81" height="70.00" fill="#7aff88"/>
<rect x="350.12" y="1088.40" width="26.10" height="70.00" fill="#3effc4"/>
<rect x="375.82" y="1088.40" width="26.10" height="70.00" fill="#ffc80a"/>
<rect x="401.53" y="1088.40" width="26.10" height="70.00" fill="#0442fb"/>
<rect x="427.23" y="1088.40" width="26.10" height="70.00" fill="#ff8a0a"/>
<rect x="452.93" y="1088.40" width="26.10" height="70.00" fill="#e6fc1a"/>
<rect x="478.64" y="1088.40" width="26.10" height="70.00" fill="#7aff88"/>
<rect x="504.34" y="1088.40" width="26.10" height="70.00" fill="#04f6fc"/>
<rect x="530.04" y="1088.40" width="26.10" height="70.00" fill="#fb4d12"/>
<rect x="555.75" y="1088.40" width="26.10" height="70.00" fill="#e6fc1a"/>
<rect x="581.45" y="1088.40" width="26.10" height="70.00" fill="#b4ff4e"/>
<rect x="607.15" y="1088.40" width="26.10" height="70.00" fill="#3effc4"/>
<rect x="632.86" y="1088.40" width="26.10" height="70.00" fill="#08b8ff"/>
<rect x="658.56" y="1088.40" width="26.10" height="70.00" fill="#b4ff4e"/>
<rect x="684.26" y="1088.40" width="26.10" height="70.00" fill="#e6fc1a"/>
<rect x="709.97" y="1088.40" width="51.81" height="70.00" fill="#840000"/>
<rect x="761.37" y="1088.40" width="26.10" height="70.00" fill="#b4ff4e"/>
<rect x="787.08" y="1088.40" width="26.10" height="70.00" fill="#f01204"/>
<rect x="812.78" y="1088.40" width="26.10" height="70.00" fill="#840000"/>
<rect x="864.19" y="1088.40" width="26.10" height="70.00" fill="#e6fc1a"/>
<rect x="889.89" y="1088.40" width="51.81" height="70.00" fill="#840000"/>
<rect x="941.30" y="1088.40" width="26.10" height="70.00" fill="#7aff88"/>
<rect x="967.00" y="1088.40" width="26.10" height="70.00" fill="#ff8a0a"/>
<rect x="1018.41" y="1088.40" width="26.10" height="70.00" fill="#08b8ff"/>
<rect x="1044.11" y="1088.40" width="26.10" height="70.00" fill="#04f6fc"/>
<rect x="1069.82" y="1088.40" width="26.10" height="70.00" fill="#840000"/>
<rect x="1095.52" y="1088.40" width="26.10" height="70.00" fill="#b4ff4e"/>
<rect x="1121.22" y="1088.40" width="26.10" height="70.00" fill="#f01204"/>
<rect x="1146.93" y="1088.40" width="26.10" height="70.00" fill="#ff8a0a"/>
<rect x="1172.63" y="1088.40" width="26.10" height="70.00" fill="#f01204"/>
<rect x="1198.33" y="1088.40" width="51.81" height="70.00" fill="#840000"/>
<rect x="1275.44" y="1088.40" width="51.81" height="70.00" fill="#840000"/>
<rect x="1326.85" y="1088.40" width="26.10" height="70.00" fill="#ff8a0a"/>
<rect x="1352.55" y="1088.40" width="26.10" height="70.00" fill="#b4ff4e"/>
<rect x="1378.26" y="1088.40" width="26.10" height="70.00" fill="#840000"/>
<rect x="1403.96" y="1088.40" width="26.10" height="70.00" fill="#f01204"/>
<rect x="1455.37" y="1088.40" width="26.10" height="70.00" fill="#ff8a0a"/>
<rect x="1481.07" y="1088.40" width="26.10" height="70.00" fill="#840000"/>
<rect x="1506.77" y="1088.40" width="26.10" height="70.00" fill="#b4ff4e"/>
<rect x="1532.48" y="1088.40" width="26.10" height="70.00" fill="#840000"/>
<rect x="1558.18" y="1088.40" width="26.10" height="70.00" fill="#fb4d12"/>
<rect x="1583.88" y="1088.40" width="26.10" height="70.00" fill="#e6fc1a"/>
<rect x="1609.59" y="1088.40" width="26.10" height="70.00" fill="#b4ff4e"/>
<rect x="1635.29" y="1088.40" width="26.10" height="70.00" fill="#ff8a0a"/>
<rect x="1660.99" y="1088.40" width="26.10" height="70.00" fill="#04f6fc"/>
<rect x="171.70" y="1158.00" width="24.60" height="58.30" fill="#b4ff4e"/>
<rect x="195.90" y="1158.00" width="26.10" height="58.30" fill="#067cff"/>
<rect x="221.60" y="1158.00" width="51.81" height="58.30" fill="#3effc4"/>
<rect x="273.01" y="1158.00" width="26.10" height="58.30" fill="#ffc80a"/>
<rect x="298.71" y="1158.00" width="51.81" height="58.30" fill="#7aff88"/>
<rect x="350.12" y="1158.00" width="26.10" height="58.30" fill="#08b8ff"/>
<rect x="375.82" y="1158.00" width="51.81" height="58.30" fill="#04f6fc"/>
<rect x="427.23" y="1158.00" width="26.10" height="58.30" fill="#ffc80a"/>
<rect x="452.93" y="1158.00" width="51.81" height="58.30" fill="#b4ff4e"/>
<rect x="504.34" y="1158.00" width="26.10" height="58.30" fill="#04f6fc"/>
<rect x="530.04" y="1158.00" width="26.10" height="58.30" fill="#e6fc1a"/>
<rect x="555.75" y="1158.00" width="26.10" height="58.30" fill="#b4ff4e"/>
<rect x="581.45" y="1158.00" width="26.10" height="58.30" fill="#ff8a0a"/>
<rect x="607.15" y="1158.00" width="26.10" height="58.30" fill="#e6fc1a"/>
<rect x="632.86" y="1158.00" width="26.10" height="58.30" fill="#08b8ff"/>
<rect x="658.56" y="1158.00" width="26.10" height="58.30" fill="#fb4d12"/>
<rect x="684.26" y="1158.00" width="26.10" height="58.30" fill="#f01204"/>
<rect x="709.97" y="1158.00" width="26.10" height="58.30" fill="#840000"/>
<rect x="735.67" y="1158.00" width="26.10" height="58.30" fill="#f01204"/>
<rect x="787.08" y="1158.00" width="26.10" height="58.30" fill="#e6fc1a"/>
<rect x="812.78" y="1158.00" width="26.10" height="58.30" fill="#3effc4"/>
<rect x="838.48" y="1158.00" width="26.10" height="58.30" fill="#b4ff4e"/>
<rect x="864.19" y="1158.00" width="26.10" height="58.30" fill="#840000"/>
<rect x="889.89" y="1158.00" width="26.10" height="58.30" fill="#04f6fc"/>
<rect x="915.59" y="1158.00" width="26.10" height="58.30" fill="#ffc80a"/>
<rect x="941.30" y="1158.00" width="26.10" height="58.30" fill="#3effc4"/>
<rect x="967.00" y="1158.00" width="26.10" height="58.30" fill="#e6fc1a"/>
<rect x="1018.41" y="1158.00" width="26.10" height="58.30" fill="#0442fb"/>
<rect x="1044.11" y="1158.00" width="26.10" height="58.30" fill="#e6fc1a"/>
<rect x="1069.82" y="1158.00" width="26.10" height="58.30" fill="#840000"/>
<rect x="1095.52" y="1158.00" width="26.10" height="58.30" fill="#e6fc1a"/>
<rect x="1121.22" y="1158.00" width="26.10" height="58.30" fill="#3effc4"/>
<rect x="1146.93" y="1158.00" width="26.10" height="58.30" fill="#ffc80a"/>
<rect x="1172.63" y="1158.00" width="26.10" height="58.30" fill="#7aff88"/>
<rect x="1224.04" y="1158.00" width="26.10" height="58.30" fill="#f01204"/>
<rect x="1249.74" y="1158.00" width="26.10" height="58.30" fill="#840000"/>
<rect x="1301.15" y="1158.00" width="26.10" height="58.30" fill="#c41010"/>
<rect x="1326.85" y="1158.00" width="26.10" height="58.30" fill="#fb4d12"/>
<rect x="1352.55" y="1158.00" width="26.10" height="58.30" fill="#840000"/>
<rect x="1378.26" y="1158.00" width="26.10" height="58.30" fill="#3effc4"/>
<rect x="1403.96" y="1158.00" width="26.10" height="58.30" fill="#840000"/>
<rect x="1429.66" y="1158.00" width="26.10" height="58.30" fill="#067cff"/>
<rect x="1455.37" y="1158.00" width="26.10" height="58.30" fill="#f01204"/>
<rect x="1481.07" y="1158.00" width="26.10" height="58.30" fill="#b4ff4e"/>
<rect x="1506.77" y="1158.00" width="26.10" height="58.30" fill="#7aff88"/>
<rect x="1532.48" y="1158.00" width="26.10" height="58.30" fill="#e6fc1a"/>
<rect x="1558.18" y="1158.00" width="26.10" height="58.30" fill="#ff8a0a"/>
<rect x="1583.88" y="1158.00" width="51.81" height="58.30" fill="#fb4d12"/>
<rect x="1635.29" y="1158.00" width="51.81" height="58.30" fill="#b4ff4e"/>
<rect x="1686.70" y="1158.00" width="26.10" height="58.30" fill="#0000c0"/>
<rect x="171.70" y="1215.90" width="24.60" height="49.60" fill="#0000c0"/>
<rect x="195.90" y="1215.90" width="26.10" height="49.60" fill="#3effc4"/>
<rect x="221.60" y="1215.90" width="26.10" height="49.60" fill="#ff8a0a"/>
<rect x="247.31" y="1215.90" width="26.10" height="49.60" fill="#e6fc1a"/>
<rect x="273.01" y="1215.90" width="26.10" height="49.60" fill="#b4ff4e"/>
<rect x="298.71" y="1215.90" width="26.10" height="49.60" fill="#04f6fc"/>
<rect x="324.42" y="1215.90" width="26.10" height="49.60" fill="#067cff"/>
<rect x="350.12" y="1215.90" width="26.10" height="49.60" fill="#3effc4"/>
<rect x="375.82" y="1215.90" width="26.10" height="49.60" fill="#b4ff4e"/>
<rect x="401.53" y="1215.90" width="51.81" height="49.60" fill="#3effc4"/>
<rect x="452.93" y="1215.90" width="26.10" height="49.60" fill="#08b8ff"/>
<rect x="478.64" y="1215.90" width="26.10" height="49.60" fill="#3effc4"/>
<rect x="504.34" y="1215.90" width="26.10" height="49.60" fill="#067cff"/>
<rect x="530.04" y="1215.90" width="26.10" height="49.60" fill="#7aff88"/>
<rect x="555.75" y="1215.90" width="26.10" height="49.60" fill="#04f6fc"/>
<rect x="581.45" y="1215.90" width="26.10" height="49.60" fill="#ffc80a"/>
<rect x="607.15" y="1215.90" width="26.10" height="49.60" fill="#ff8a0a"/>
<rect x="632.86" y="1215.90" width="26.10" height="49.60" fill="#e6fc1a"/>
<rect x="658.56" y="1215.90" width="26.10" height="49.60" fill="#ffc80a"/>
<rect x="684.26" y="1215.90" width="26.10" height="49.60" fill="#f01204"/>
<rect x="709.97" y="1215.90" width="26.10" height="49.60" fill="#e6fc1a"/>
<rect x="735.67" y="1215.90" width="26.10" height="49.60" fill="#ff8a0a"/>
<rect x="787.08" y="1215.90" width="26.10" height="49.60" fill="#e6fc1a"/>
<rect x="812.78" y="1215.90" width="26.10" height="49.60" fill="#ffc80a"/>
<rect x="864.19" y="1215.90" width="26.10" height="49.60" fill="#f01204"/>
<rect x="889.89" y="1215.90" width="26.10" height="49.60" fill="#04f6fc"/>
<rect x="915.59" y="1215.90" width="26.10" height="49.60" fill="#ff8a0a"/>
<rect x="941.30" y="1215.90" width="51.81" height="49.60" fill="#04f6fc"/>
<rect x="1018.41" y="1215.90" width="26.10" height="49.60" fill="#ff8a0a"/>
<rect x="1069.82" y="1215.90" width="26.10" height="49.60" fill="#ffc80a"/>
<rect x="1095.52" y="1215.90" width="26.10" height="49.60" fill="#840000"/>
<rect x="1121.22" y="1215.90" width="26.10" height="49.60" fill="#fb4d12"/>
<rect x="1146.93" y="1215.90" width="26.10" height="49.60" fill="#f01204"/>
<rect x="1172.63" y="1215.90" width="26.10" height="49.60" fill="#ffc80a"/>
<rect x="1198.33" y="1215.90" width="26.10" height="49.60" fill="#ff8a0a"/>
<rect x="1224.04" y="1215.90" width="51.81" height="49.60" fill="#840000"/>
<rect x="1275.44" y="1215.90" width="26.10" height="49.60" fill="#000088"/>
<rect x="1301.15" y="1215.90" width="26.10" height="49.60" fill="#08b8ff"/>
<rect x="1326.85" y="1215.90" width="26.10" height="49.60" fill="#ffc80a"/>
<rect x="1378.26" y="1215.90" width="26.10" height="49.60" fill="#840000"/>
<rect x="1403.96" y="1215.90" width="26.10" height="49.60" fill="#b4ff4e"/>
<rect x="1455.37" y="1215.90" width="26.10" height="49.60" fill="#7aff88"/>
<rect x="1481.07" y="1215.90" width="26.10" height="49.60" fill="#04f6fc"/>
<rect x="1506.77" y="1215.90" width="26.10" height="49.60" fill="#f01204"/>
<rect x="1532.48" y="1215.90" width="26.10" height="49.60" fill="#08b8ff"/>
<rect x="1558.18" y="1215.90" width="26.10" height="49.60" fill="#ffc80a"/>
<rect x="1583.88" y="1215.90" width="26.10" height="49.60" fill="#3effc4"/>
<rect x="1609.59" y="1215.90" width="26.10" height="49.60" fill="#ff8a0a"/>
<rect x="1635.29" y="1215.90" width="26.10" height="49.60" fill="#7aff88"/>
<rect x="1660.99" y="1215.90" width="26.10" height="49.60" fill="#840000"/>
<rect x="171.70" y="1265.10" width="24.60" height="42.70" fill="#0442fb"/>
<rect x="195.90" y="1265.10" width="26.10" height="42.70" fill="#067cff"/>
<rect x="221.60" y="1265.10" width="51.81" height="42.70" fill="#04f6fc"/>
<rect x="273.01" y="1265.10" width="77.51" height="42.70" fill="#08b8ff"/>
<rect x="350.12" y="1265.10" width="26.10" height="42.70" fill="#04f6fc"/>
<rect x="375.82" y="1265.10" width="51.81" height="42.70" fill="#08b8ff"/>
<rect x="427.23" y="1265.10" width="26.10" height="42.70" fill="#067cff"/>
<rect x="452.93" y="1265.10" width="26.10" height="42.70" fill="#04f6fc"/>
<rect x="478.64" y="1265.10" width="26.10" height="42.70" fill="#0442fb"/>
<rect x="504.34" y="1265.10" width="51.81" height="42.70" fill="#067cff"/>
<rect x="555.75" y="1265.10" width="26.10" height="42.70" fill="#04f6fc"/>
<rect x="581.45" y="1265.10" width="26.10" height="42.70" fill="#067cff"/>
<rect x="607.15" y="1265.10" width="26.10" height="42.70" fill="#b4ff4e"/>
<rect x="632.86" y="1265.10" width="26.10" height="42.70" fill="#08b8ff"/>
<rect x="658.56" y="1265.10" width="26.10" height="42.70" fill="#04f6fc"/>
<rect x="684.26" y="1265.10" width="26.10" height="42.70" fill="#3effc4"/>
<rect x="709.97" y="1265.10" width="51.81" height="42.70" fill="#04f6fc"/>
<rect x="761.37" y="1265.10" width="51.81" height="42.70" fill="#ffc80a"/>
<rect x="812.78" y="1265.10" width="26.10" height="42.70" fill="#08b8ff"/>
<rect x="838.48" y="1265.10" width="26.10" height="42.70" fill="#fb4d12"/>
<rect x="864.19" y="1265.10" width="26.10" height="42.70" fill="#3effc4"/>
<rect x="889.89" y="1265.10" width="26.10" height="42.70" fill="#067cff"/>
<rect x="915.59" y="1265.10" width="26.10" height="42.70" fill="#08b8ff"/>
<rect x="941.30" y="1265.10" width="26.10" height="42.70" fill="#067cff"/>
<rect x="967.00" y="1265.10" width="26.10" height="42.70" fill="#08b8ff"/>
<rect x="1018.41" y="1265.10" width="26.10" height="42.70" fill="#3effc4"/>
<rect x="1044.11" y="1265.10" width="26.10" height="42.70" fill="#04f6fc"/>
<rect x="1069.82" y="1265.10" width="26.10" height="42.70" fill="#3effc4"/>
<rect x="1095.52" y="1265.10" width="77.51" height="42.70" fill="#04f6fc"/>
<rect x="1172.63" y="1265.10" width="77.51" height="42.70" fill="#3effc4"/>
<rect x="1249.74" y="1265.10" width="26.10" height="42.70" fill="#04f6fc"/>
<rect x="1301.15" y="1265.10" width="26.10" height="42.70" fill="#04f6fc"/>
<rect x="1326.85" y="1265.10" width="26.10" height="42.70" fill="#7aff88"/>
<rect x="1352.55" y="1265.10" width="26.10" height="42.70" fill="#b4ff4e"/>
<rect x="1378.26" y="1265.10" width="26.10" height="42.70" fill="#04f6fc"/>
<rect x="1403.96" y="1265.10" width="26.10" height="42.70" fill="#0000c0"/>
<rect x="1429.66" y="1265.10" width="26.10" height="42.70" fill="#ff8a0a"/>
<rect x="1455.37" y="1265.10" width="51.81" height="42.70" fill="#f01204"/>
<rect x="1558.18" y="1265.10" width="26.10" height="42.70" fill="#e6fc1a"/>
<rect x="1583.88" y="1265.10" width="26.10" height="42.70" fill="#ffc80a"/>
<rect x="1609.59" y="1265.10" width="26.10" height="42.70" fill="#b4ff4e"/>
<rect x="1635.29" y="1265.10" width="26.10" height="42.70" fill="#067cff"/>
<rect x="1660.99" y="1265.10" width="26.10" height="42.70" fill="#0442fb"/>
<rect x="1686.70" y="1265.10" width="26.10" height="42.70" fill="#3effc4"/>
<rect x="171.70" y="1307.40" width="50.30" height="42.00" fill="#0442fb"/>
<rect x="221.60" y="1307.40" width="26.10" height="42.00" fill="#0004fb"/>
<rect x="247.31" y="1307.40" width="26.10" height="42.00" fill="#0442fb"/>
<rect x="273.01" y="1307.40" width="51.81" height="42.00" fill="#0004fb"/>
<rect x="324.42" y="1307.40" width="51.81" height="42.00" fill="#0442fb"/>
<rect x="375.82" y="1307.40" width="51.81" height="42.00" fill="#067cff"/>
<rect x="427.23" y="1307.40" width="26.10" height="42.00" fill="#0442fb"/>
<rect x="452.93" y="1307.40" width="26.10" height="42.00" fill="#0004fb"/>
<rect x="478.64" y="1307.40" width="26.10" height="42.00" fill="#067cff"/>
<rect x="504.34" y="1307.40" width="26.10" height="42.00" fill="#0442fb"/>
<rect x="530.04" y="1307.40" width="26.10" height="42.00" fill="#0004fb"/>
<rect x="555.75" y="1307.40" width="26.10" height="42.00" fill="#067cff"/>
<rect x="581.45" y="1307.40" width="26.10" height="42.00" fill="#0442fb"/>
<rect x="607.15" y="1307.40" width="26.10" height="42.00" fill="#0004fb"/>
<rect x="632.86" y="1307.40" width="26.10" height="42.00" fill="#0442fb"/>
<rect x="658.56" y="1307.40" width="103.21" height="42.00" fill="#0004fb"/>
<rect x="761.37" y="1307.40" width="26.10" height="42.00" fill="#0442fb"/>
<rect x="787.08" y="1307.40" width="26.10" height="42.00" fill="#067cff"/>
<rect x="812.78" y="1307.40" width="26.10" height="42.00" fill="#0442fb"/>
<rect x="838.48" y="1307.40" width="26.10" height="42.00" fill="#067cff"/>
<rect x="864.19" y="1307.40" width="51.81" height="42.00" fill="#0442fb"/>
<rect x="915.59" y="1307.40" width="26.10" height="42.00" fill="#0004fb"/>
<rect x="941.30" y="1307.40" width="26.10" height="42.00" fill="#0442fb"/>
<rect x="967.00" y="1307.40" width="26.10" height="42.00" fill="#0004fb"/>
<rect x="1018.41" y="1307.40" width="77.51" height="42.00" fill="#0442fb"/>
<rect x="1095.52" y="1307.40" width="26.10" height="42.00" fill="#08b8ff"/>
<rect x="1121.22" y="1307.40" width="154.62" height="42.00" fill="#0442fb"/>
<rect x="1301.15" y="1307.40" width="26.10" height="42.00" fill="#0000c0"/>
<rect x="1326.85" y="1307.40" width="26.10" height="42.00" fill="#ff8a0a"/>
<rect x="1352.55" y="1307.40" width="26.10" height="42.00" fill="#067cff"/>
<rect x="1378.26" y="1307.40" width="51.81" height="42.00" fill="#0442fb"/>
<rect x="1429.66" y="1307.40" width="26.10" height="42.00" fill="#04f6fc"/>
<rect x="1455.37" y="1307.40" width="26.10" height="42.00" fill="#067cff"/>
<rect x="1481.07" y="1307.40" width="26.10" height="42.00" fill="#0442fb"/>
<rect x="1506.77" y="1307.40" width="51.81" height="42.00" fill="#0004fb"/>
<rect x="1609.59" y="1307.40" width="77.51" height="42.00" fill="#0004fb"/>
<rect x="1686.70" y="1307.40" width="26.10" height="42.00" fill="#0442fb"/>
<rect x="171.70" y="1349.00" width="24.60" height="33.00" fill="#0442fb"/>
<rect x="195.90" y="1349.00" width="103.21" height="33.00" fill="#0004fb"/>
<rect x="298.71" y="1349.00" width="26.10" height="33.00" fill="#0442fb"/>
<rect x="324.42" y="1349.00" width="26.10" height="33.00" fill="#0004fb"/>
<rect x="350.12" y="1349.00" width="26.10" height="33.00" fill="#0442fb"/>
<rect x="375.82" y="1349.00" width="51.81" height="33.00" fill="#0004fb"/>
<rect x="427.23" y="1349.00" width="26.10" height="33.00" fill="#0442fb"/>
<rect x="452.93" y="1349.00" width="51.81" height="33.00" fill="#0004fb"/>
<rect x="504.34" y="1349.00" width="26.10" height="33.00" fill="#0442fb"/>
<rect x="530.04" y="1349.00" width="26.10" height="33.00" fill="#0000c0"/>
<rect x="555.75" y="1349.00" width="26.10" height="33.00" fill="#067cff"/>
<rect x="581.45" y="1349.00" width="26.10" height="33.00" fill="#0004fb"/>
<rect x="607.15" y="1349.00" width="26.10" height="33.00" fill="#0000c0"/>
<rect x="632.86" y="1349.00" width="26.10" height="33.00" fill="#0004fb"/>
<rect x="658.56" y="1349.00" width="26.10" height="33.00" fill="#067cff"/>
<rect x="684.26" y="1349.00" width="26.10" height="33.00" fill="#08b8ff"/>
<rect x="709.97" y="1349.00" width="26.10" height="33.00" fill="#067cff"/>
<rect x="735.67" y="1349.00" width="26.10" height="33.00" fill="#08b8ff"/>
<rect x="761.37" y="1349.00" width="77.51" height="33.00" fill="#04f6fc"/>
<rect x="838.48" y="1349.00" width="26.10" height="33.00" fill="#3effc4"/>
<rect x="864.19" y="1349.00" width="26.10" height="33.00" fill="#08b8ff"/>
<rect x="889.89" y="1349.00" width="51.81" height="33.00" fill="#0442fb"/>
<rect x="941.30" y="1349.00" width="51.81" height="33.00" fill="#0004fb"/>
<rect x="1018.41" y="1349.00" width="103.21" height="33.00" fill="#0442fb"/>
<rect x="1121.22" y="1349.00" width="26.10" height="33.00" fill="#067cff"/>
<rect x="1146.93" y="1349.00" width="26.10" height="33.00" fill="#08b8ff"/>
<rect x="1172.63" y="1349.00" width="26.10" height="33.00" fill="#067cff"/>
<rect x="1198.33" y="1349.00" width="26.10" height="33.00" fill="#3effc4"/>
<rect x="1224.04" y="1349.00" width="26.10" height="33.00" fill="#04f6fc"/>
<rect x="1249.74" y="1349.00" width="26.10" height="33.00" fill="#b4ff4e"/>
<rect x="1301.15" y="1349.00" width="26.10" height="33.00" fill="#7aff88"/>
<rect x="1326.85" y="1349.00" width="26.10" height="33.00" fill="#08b8ff"/>
<rect x="1352.55" y="1349.00" width="26.10" height="33.00" fill="#3effc4"/>
<rect x="1378.26" y="1349.00" width="26.10" height="33.00" fill="#08b8ff"/>
<rect x="1403.96" y="1349.00" width="51.81" height="33.00" fill="#7aff88"/>
<rect x="1455.37" y="1349.00" width="26.10" height="33.00" fill="#3effc4"/>
<rect x="1481.07" y="1349.00" width="26.10" height="33.00" fill="#04f6fc"/>
<rect x="1506.77" y="1349.00" width="26.10" height="33.00" fill="#08b8ff"/>
<rect x="1532.48" y="1349.00" width="26.10" height="33.00" fill="#067cff"/>
<rect x="1558.18" y="1349.00" width="26.10" height="33.00" fill="#04f6fc"/>
<rect x="1609.59" y="1349.00" width="26.10" height="33.00" fill="#b4ff4e"/>
<rect x="1635.29" y="1349.00" width="26.10" height="33.00" fill="#067cff"/>
<rect x="1660.99" y="1349.00" width="51.81" height="33.00" fill="#b4ff4e"/>
<rect x="171.70" y="1381.60" width="24.60" height="27.80" fill="#3effc4"/>
<rect x="195.90" y="1381.60" width="26.10" height="27.80" fill="#0004fb"/>
<rect x="221.60" y="1381.60" width="26.10" height="27.80" fill="#0000c0"/>
<rect x="247.31" y="1381.60" width="51.81" height="27.80" fill="#0442fb"/>
<rect x="298.71" y="1381.60" width="26.10" height="27.80" fill="#0004fb"/>
<rect x="324.42" y="1381.60" width="26.10" height="27.80" fill="#0442fb"/>
<rect x="350.12" y="1381.60" width="26.10" height="27.80" fill="#067cff"/>
<rect x="375.82" y="1381.60" width="26.10" height="27.80" fill="#0442fb"/>
<rect x="401.53" y="1381.60" width="26.10" height="27.80" fill="#0004fb"/>
<rect x="427.23" y="1381.60" width="26.10" height="27.80" fill="#0442fb"/>
<rect x="452.93" y="1381.60" width="26.10" height="27.80" fill="#04f6fc"/>
<rect x="478.64" y="1381.60" width="77.51" height="27.80" fill="#0004fb"/>
<rect x="555.75" y="1381.60" width="26.10" height="27.80" fill="#840000"/>
<rect x="581.45" y="1381.60" width="26.10" height="27.80" fill="#067cff"/>
<rect x="607.15" y="1381.60" width="51.81" height="27.80" fill="#0000c0"/>
<rect x="658.56" y="1381.60" width="26.10" height="27.80" fill="#067cff"/>
<rect x="684.26" y="1381.60" width="26.10" height="27.80" fill="#0442fb"/>
<rect x="709.97" y="1381.60" width="26.10" height="27.80" fill="#067cff"/>
<rect x="735.67" y="1381.60" width="26.10" height="27.80" fill="#b4ff4e"/>
<rect x="761.37" y="1381.60" width="26.10" height="27.80" fill="#3effc4"/>
<rect x="787.08" y="1381.60" width="26.10" height="27.80" fill="#04f6fc"/>
<rect x="812.78" y="1381.60" width="51.81" height="27.80" fill="#3effc4"/>
<rect x="864.19" y="1381.60" width="26.10" height="27.80" fill="#08b8ff"/>
<rect x="889.89" y="1381.60" width="103.21" height="27.80" fill="#0442fb"/>
<rect x="1018.41" y="1381.60" width="26.10" height="27.80" fill="#067cff"/>
<rect x="1044.11" y="1381.60" width="51.81" height="27.80" fill="#0442fb"/>
<rect x="1095.52" y="1381.60" width="103.21" height="27.80" fill="#067cff"/>
<rect x="1198.33" y="1381.60" width="26.10" height="27.80" fill="#b4ff4e"/>
<rect x="1224.04" y="1381.60" width="26.10" height="27.80" fill="#3effc4"/>
<rect x="1275.44" y="1381.60" width="26.10" height="27.80" fill="#b4ff4e"/>
<rect x="1301.15" y="1381.60" width="26.10" height="27.80" fill="#e6fc1a"/>
<rect x="1326.85" y="1381.60" width="26.10" height="27.80" fill="#04f6fc"/>
<rect x="1352.55" y="1381.60" width="26.10" height="27.80" fill="#7aff88"/>
<rect x="1378.26" y="1381.60" width="26.10" height="27.80" fill="#3effc4"/>
<rect x="1403.96" y="1381.60" width="26.10" height="27.80" fill="#7aff88"/>
<rect x="1429.66" y="1381.60" width="51.81" height="27.80" fill="#04f6fc"/>
<rect x="1481.07" y="1381.60" width="51.81" height="27.80" fill="#067cff"/>
<rect x="1532.48" y="1381.60" width="26.10" height="27.80" fill="#0004fb"/>
<rect x="1558.18" y="1381.60" width="26.10" height="27.80" fill="#840000"/>
<rect x="1583.88" y="1381.60" width="26.10" height="27.80" fill="#04f6fc"/>
<rect x="1609.59" y="1381.60" width="26.10" height="27.80" fill="#7aff88"/>
<rect x="1635.29" y="1381.60" width="26.10" height="27.80" fill="#04f6fc"/>
<rect x="1660.99" y="1381.60" width="26.10" height="27.80" fill="#3effc4"/>
<rect x="1686.70" y="1381.60" width="26.10" height="27.80" fill="#e6fc1a"/>
<rect x="171.70" y="1409.00" width="24.60" height="27.40" fill="#7aff88"/>
<rect x="195.90" y="1409.00" width="26.10" height="27.40" fill="#0000c0"/>
<rect x="221.60" y="1409.00" width="77.51" height="27.40" fill="#0442fb"/>
<rect x="298.71" y="1409.00" width="26.10" height="27.40" fill="#0004fb"/>
<rect x="324.42" y="1409.00" width="26.10" height="27.40" fill="#0442fb"/>
<rect x="350.12" y="1409.00" width="26.10" height="27.40" fill="#0004fb"/>
<rect x="375.82" y="1409.00" width="26.10" height="27.40" fill="#0000c0"/>
<rect x="401.53" y="1409.00" width="51.81" height="27.40" fill="#0004fb"/>
<rect x="452.93" y="1409.00" width="26.10" height="27.40" fill="#0442fb"/>
<rect x="478.64" y="1409.00" width="26.10" height="27.40" fill="#0004fb"/>
<rect x="504.34" y="1409.00" width="26.10" height="27.40" fill="#067cff"/>
<rect x="530.04" y="1409.00" width="26.10" height="27.40" fill="#08b8ff"/>
<rect x="555.75" y="1409.00" width="26.10" height="27.40" fill="#067cff"/>
<rect x="581.45" y="1409.00" width="26.10" height="27.40" fill="#0000c0"/>
<rect x="607.15" y="1409.00" width="26.10" height="27.40" fill="#0004fb"/>
<rect x="632.86" y="1409.00" width="26.10" height="27.40" fill="#0000c0"/>
<rect x="658.56" y="1409.00" width="26.10" height="27.40" fill="#0442fb"/>
<rect x="684.26" y="1409.00" width="26.10" height="27.40" fill="#0004fb"/>
<rect x="709.97" y="1409.00" width="26.10" height="27.40" fill="#067cff"/>
<rect x="735.67" y="1409.00" width="26.10" height="27.40" fill="#04f6fc"/>
<rect x="761.37" y="1409.00" width="26.10" height="27.40" fill="#3effc4"/>
<rect x="787.08" y="1409.00" width="26.10" height="27.40" fill="#0442fb"/>
<rect x="812.78" y="1409.00" width="51.81" height="27.40" fill="#08b8ff"/>
<rect x="864.19" y="1409.00" width="26.10" height="27.40" fill="#067cff"/>
<rect x="889.89" y="1409.00" width="26.10" height="27.40" fill="#0004fb"/>
<rect x="915.59" y="1409.00" width="26.10" height="27.40" fill="#0000c0"/>
<rect x="941.30" y="1409.00" width="51.81" height="27.40" fill="#0004fb"/>
<rect x="1018.41" y="1409.00" width="26.10" height="27.40" fill="#067cff"/>
<rect x="1044.11" y="1409.00" width="51.81" height="27.40" fill="#0004fb"/>
<rect x="1095.52" y="1409.00" width="26.10" height="27.40" fill="#067cff"/>
<rect x="1121.22" y="1409.00" width="26.10" height="27.40" fill="#0442fb"/>
<rect x="1146.93" y="1409.00" width="26.10" height="27.40" fill="#067cff"/>
<rect x="1172.63" y="1409.00" width="26.10" height="27.40" fill="#08b8ff"/>
<rect x="1198.33" y="1409.00" width="26.10" height="27.40" fill="#04f6fc"/>
<rect x="1224.04" y="1409.00" width="26.10" height="27.40" fill="#e6fc1a"/>
<rect x="1249.74" y="1409.00" width="26.10" height="27.40" fill="#fb4d12"/>
<rect x="1275.44" y="1409.00" width="26.10" height="27.40" fill="#ff8a0a"/>
<rect x="1301.15" y="1409.00" width="26.10" height="27.40" fill="#e6fc1a"/>
<rect x="1326.85" y="1409.00" width="26.10" height="27.40" fill="#067cff"/>
<rect x="1352.55" y="1409.00" width="26.10" height="27.40" fill="#0442fb"/>
<rect x="1378.26" y="1409.00" width="26.10" height="27.40" fill="#067cff"/>
<rect x="1403.96" y="1409.00" width="26.10" height="27.40" fill="#e6fc1a"/>
<rect x="1429.66" y="1409.00" width="26.10" height="27.40" fill="#08b8ff"/>
<rect x="1455.37" y="1409.00" width="26.10" height="27.40" fill="#0004fb"/>
<rect x="1481.07" y="1409.00" width="26.10" height="27.40" fill="#0442fb"/>
<rect x="1506.77" y="1409.00" width="51.81" height="27.40" fill="#0004fb"/>
<rect x="1558.18" y="1409.00" width="26.10" height="27.40" fill="#7aff88"/>
<rect x="1583.88" y="1409.00" width="26.10" height="27.40" fill="#04f6fc"/>
<rect x="1609.59" y="1409.00" width="51.81" height="27.40" fill="#067cff"/>
<rect x="1660.99" y="1409.00" width="26.10" height="27.40" fill="#7aff88"/>
<rect x="1686.70" y="1409.00" width="26.10" height="27.40" fill="#04f6fc"/>
<rect x="171.70" y="1436.00" width="24.60" height="26.40" fill="#04f6fc"/>
<rect x="195.90" y="1436.00" width="77.51" height="26.40" fill="#0000c0"/>
<rect x="273.01" y="1436.00" width="77.51" height="26.40" fill="#0004fb"/>
<rect x="350.12" y="1436.00" width="26.10" height="26.40" fill="#0000c0"/>
<rect x="375.82" y="1436.00" width="26.10" height="26.40" fill="#0004fb"/>
<rect x="401.53" y="1436.00" width="26.10" height="26.40" fill="#000088"/>
<rect x="427.23" y="1436.00" width="26.10" height="26.40" fill="#067cff"/>
<rect x="452.93" y="1436.00" width="26.10" height="26.40" fill="#000088"/>
<rect x="478.64" y="1436.00" width="26.10" height="26.40" fill="#0000c0"/>
<rect x="504.34" y="1436.00" width="26.10" height="26.40" fill="#0442fb"/>
<rect x="530.04" y="1436.00" width="26.10" height="26.40" fill="#ffc80a"/>
<rect x="555.75" y="1436.00" width="26.10" height="26.40" fill="#08b8ff"/>
<rect x="581.45" y="1436.00" width="26.10" height="26.40" fill="#04f6fc"/>
<rect x="607.15" y="1436.00" width="26.10" height="26.40" fill="#0004fb"/>
<rect x="632.86" y="1436.00" width="26.10" height="26.40" fill="#0000c0"/>
<rect x="658.56" y="1436.00" width="77.51" height="26.40" fill="#0004fb"/>
<rect x="735.67" y="1436.00" width="26.10" height="26.40" fill="#067cff"/>
<rect x="787.08" y="1436.00" width="26.10" height="26.40" fill="#0442fb"/>
<rect x="812.78" y="1436.00" width="51.81" height="26.40" fill="#0004fb"/>
<rect x="864.19" y="1436.00" width="26.10" height="26.40" fill="#0442fb"/>
<rect x="889.89" y="1436.00" width="26.10" height="26.40" fill="#0004fb"/>
<rect x="915.59" y="1436.00" width="77.51" height="26.40" fill="#0000c0"/>
<rect x="1018.41" y="1436.00" width="77.51" height="26.40" fill="#0004fb"/>
<rect x="1095.52" y="1436.00" width="26.10" height="26.40" fill="#067cff"/>
<rect x="1121.22" y="1436.00" width="51.81" height="26.40" fill="#0004fb"/>
<rect x="1172.63" y="1436.00" width="26.10" height="26.40" fill="#08b8ff"/>
<rect x="1198.33" y="1436.00" width="26.10" height="26.40" fill="#0442fb"/>
<rect x="1224.04" y="1436.00" width="26.10" height="26.40" fill="#0000c0"/>
<rect x="1249.74" y="1436.00" width="26.10" height="26.40" fill="#0442fb"/>
<rect x="1326.85" y="1436.00" width="26.10" height="26.40" fill="#000088"/>
<rect x="1352.55" y="1436.00" width="26.10" height="26.40" fill="#0442fb"/>
<rect x="1378.26" y="1436.00" width="51.81" height="26.40" fill="#0004fb"/>
<rect x="1429.66" y="1436.00" width="26.10" height="26.40" fill="#0000c0"/>
<rect x="1455.37" y="1436.00" width="26.10" height="26.40" fill="#0004fb"/>
<rect x="1481.07" y="1436.00" width="77.51" height="26.40" fill="#0000c0"/>
<rect x="1558.18" y="1436.00" width="26.10" height="26.40" fill="#840000"/>
<rect x="1583.88" y="1436.00" width="26.10" height="26.40" fill="#067cff"/>
<rect x="1609.59" y="1436.00" width="26.10" height="26.40" fill="#0000c0"/>
<rect x="1635.29" y="1436.00" width="77.51" height="26.40" fill="#0004fb"/>
<rect x="171.70" y="1462.00" width="24.60" height="27.40" fill="#840000"/>
<rect x="195.90" y="1462.00" width="26.10" height="27.40" fill="#0442fb"/>
<rect x="221.60" y="1462.00" width="26.10" height="27.40" fill="#08b8ff"/>
<rect x="247.31" y="1462.00" width="26.10" height="27.40" fill="#067cff"/>
<rect x="273.01" y="1462.00" width="51.81" height="27.40" fill="#0000c0"/>
<rect x="324.42" y="1462.00" width="77.51" height="27.40" fill="#0442fb"/>
<rect x="452.93" y="1462.00" width="26.10" height="27.40" fill="#840000"/>
<rect x="504.34" y="1462.00" width="26.10" height="27.40" fill="#067cff"/>
<rect x="530.04" y="1462.00" width="26.10" height="27.40" fill="#b4ff4e"/>
<rect x="555.75" y="1462.00" width="26.10" height="27.40" fill="#e6fc1a"/>
<rect x="607.15" y="1462.00" width="26.10" height="27.40" fill="#0004fb"/>
<rect x="632.86" y="1462.00" width="26.10" height="27.40" fill="#067cff"/>
<rect x="684.26" y="1462.00" width="26.10" height="27.40" fill="#f01204"/>
<rect x="761.37" y="1462.00" width="51.81" height="27.40" fill="#08b8ff"/>
<rect x="838.48" y="1462.00" width="26.10" height="27.40" fill="#0442fb"/>
<rect x="864.19" y="1462.00" width="26.10" height="27.40" fill="#0000c0"/>
<rect x="889.89" y="1462.00" width="26.10" height="27.40" fill="#0442fb"/>
<rect x="915.59" y="1462.00" width="26.10" height="27.40" fill="#000088"/>
<rect x="941.30" y="1462.00" width="26.10" height="27.40" fill="#0000c0"/>
<rect x="1018.41" y="1462.00" width="51.81" height="27.40" fill="#0004fb"/>
<rect x="1069.82" y="1462.00" width="103.21" height="27.40" fill="#0000c0"/>
<rect x="1172.63" y="1462.00" width="51.81" height="27.40" fill="#0442fb"/>
<rect x="1301.15" y="1462.00" width="26.10" height="27.40" fill="#04f6fc"/>
<rect x="1326.85" y="1462.00" width="51.81" height="27.40" fill="#0000c0"/>
<rect x="1378.26" y="1462.00" width="26.10" height="27.40" fill="#08b8ff"/>
<rect x="1403.96" y="1462.00" width="103.21" height="27.40" fill="#0004fb"/>
<rect x="1506.77" y="1462.00" width="26.10" height="27.40" fill="#08b8ff"/>
<rect x="1532.48" y="1462.00" width="26.10" height="27.40" fill="#0004fb"/>
<rect x="1558.18" y="1462.00" width="26.10" height="27.40" fill="#e6fc1a"/>
<rect x="1583.88" y="1462.00" width="51.81" height="27.40" fill="#0000c0"/>
<rect x="1660.99" y="1462.00" width="26.10" height="27.40" fill="#0000c0"/>
<rect x="1686.70" y="1462.00" width="26.10" height="27.40" fill="#0004fb"/>
<rect x="195.90" y="1489.00" width="26.10" height="5.30" fill="#08b8ff"/>
<rect x="221.60" y="1489.00" width="26.10" height="5.30" fill="#0004fb"/>
<rect x="298.71" y="1489.00" width="26.10" height="5.30" fill="#0442fb"/>
<rect x="324.42" y="1489.00" width="26.10" height="5.30" fill="#f01204"/>
<rect x="427.23" y="1489.00" width="26.10" height="5.30" fill="#0000c0"/>
<rect x="504.34" y="1489.00" width="26.10" height="5.30" fill="#e6fc1a"/>
<rect x="530.04" y="1489.00" width="51.81" height="5.30" fill="#840000"/>
<rect x="761.37" y="1489.00" width="26.10" height="5.30" fill="#ffc80a"/>
<rect x="812.78" y="1489.00" width="26.10" height="5.30" fill="#840000"/>
<rect x="838.48" y="1489.00" width="26.10" height="5.30" fill="#04f6fc"/>
<rect x="915.59" y="1489.00" width="26.10" height="5.30" fill="#840000"/>
<rect x="941.30" y="1489.00" width="26.10" height="5.30" fill="#0000c0"/>
<rect x="1044.11" y="1489.00" width="26.10" height="5.30" fill="#0000c0"/>
<rect x="1121.22" y="1489.00" width="26.10" height="5.30" fill="#08b8ff"/>
<rect x="1172.63" y="1489.00" width="26.10" height="5.30" fill="#0000c0"/>
<rect x="1249.74" y="1489.00" width="26.10" height="5.30" fill="#0000c0"/>
<rect x="1275.44" y="1489.00" width="26.10" height="5.30" fill="#840000"/>
<rect x="1301.15" y="1489.00" width="26.10" height="5.30" fill="#0004fb"/>
<rect x="1326.85" y="1489.00" width="26.10" height="5.30" fill="#0442fb"/>
<rect x="1378.26" y="1489.00" width="26.10" height="5.30" fill="#0442fb"/>
<rect x="1403.96" y="1489.00" width="26.10" height="5.30" fill="#08b8ff"/>
<rect x="1481.07" y="1489.00" width="26.10" height="5.30" fill="#0000c0"/>
<rect x="1506.77" y="1489.00" width="26.10" height="5.30" fill="#04f6fc"/>
</g>
<g shape-rendering="crispEdges" fill="#fff">
<rect x="941.30" y="1066.30" width="25.70" height="22.10"/>
<rect x="992.71" y="1066.30" width="25.70" height="22.10"/>
<rect x="1121.22" y="1066.30" width="25.70" height="22.10"/>
<rect x="1429.66" y="1066.30" width="25.70" height="22.10"/>
<rect x="1686.70" y="1066.30" width="25.70" height="22.10"/>
<rect x="171.70" y="1088.40" width="49.90" height="69.60"/>
<rect x="838.48" y="1088.40" width="25.70" height="69.60"/>
<rect x="992.71" y="1088.40" width="25.70" height="69.60"/>
<rect x="1249.74" y="1088.40" width="25.70" height="69.60"/>
<rect x="1429.66" y="1088.40" width="25.70" height="69.60"/>
<rect x="1686.70" y="1088.40" width="25.70" height="69.60"/>
<rect x="761.37" y="1158.00" width="25.70" height="57.90"/>
<rect x="992.71" y="1158.00" width="25.70" height="57.90"/>
<rect x="1198.33" y="1158.00" width="25.70" height="57.90"/>
<rect x="1275.44" y="1158.00" width="25.70" height="57.90"/>
<rect x="761.37" y="1215.90" width="25.70" height="49.20"/>
<rect x="838.48" y="1215.90" width="25.70" height="49.20"/>
<rect x="992.71" y="1215.90" width="25.70" height="49.20"/>
<rect x="1044.11" y="1215.90" width="25.70" height="49.20"/>
<rect x="1352.55" y="1215.90" width="25.70" height="49.20"/>
<rect x="1429.66" y="1215.90" width="25.70" height="49.20"/>
<rect x="1686.70" y="1215.90" width="25.70" height="49.20"/>
<rect x="992.71" y="1265.10" width="25.70" height="42.30"/>
<rect x="1275.44" y="1265.10" width="25.70" height="42.30"/>
<rect x="1506.77" y="1265.10" width="51.41" height="42.30"/>
<rect x="992.71" y="1307.40" width="25.70" height="41.60"/>
<rect x="1275.44" y="1307.40" width="25.70" height="41.60"/>
<rect x="1558.18" y="1307.40" width="51.41" height="41.60"/>
<rect x="992.71" y="1349.00" width="25.70" height="32.60"/>
<rect x="1275.44" y="1349.00" width="25.70" height="32.60"/>
<rect x="1583.88" y="1349.00" width="25.70" height="32.60"/>
<rect x="992.71" y="1381.60" width="25.70" height="27.40"/>
<rect x="1249.74" y="1381.60" width="25.70" height="27.40"/>
<rect x="992.71" y="1409.00" width="25.70" height="27.00"/>
<rect x="761.37" y="1436.00" width="25.70" height="26.00"/>
<rect x="992.71" y="1436.00" width="25.70" height="26.00"/>
<rect x="1275.44" y="1436.00" width="51.41" height="26.00"/>
<rect x="401.53" y="1462.00" width="51.41" height="27.00"/>
<rect x="478.64" y="1462.00" width="25.70" height="27.00"/>
<rect x="581.45" y="1462.00" width="25.70" height="27.00"/>
<rect x="658.56" y="1462.00" width="25.70" height="27.00"/>
<rect x="709.97" y="1462.00" width="51.41" height="27.00"/>
<rect x="812.78" y="1462.00" width="25.70" height="27.00"/>
<rect x="967.00" y="1462.00" width="51.41" height="27.00"/>
<rect x="1224.04" y="1462.00" width="77.11" height="27.00"/>
<rect x="1635.29" y="1462.00" width="25.70" height="27.00"/>
<rect x="171.70" y="1489.00" width="24.20" height="4.90"/>
<rect x="247.31" y="1489.00" width="51.41" height="4.90"/>
<rect x="350.12" y="1489.00" width="77.11" height="4.90"/>
<rect x="452.93" y="1489.00" width="51.41" height="4.90"/>
<rect x="581.45" y="1489.00" width="179.92" height="4.90"/>
<rect x="787.08" y="1489.00" width="25.70" height="4.90"/>
<rect x="864.19" y="1489.00" width="51.41" height="4.90"/>
<rect x="967.00" y="1489.00" width="77.11" height="4.90"/>
<rect x="1069.82" y="1489.00" width="51.41" height="4.90"/>
<rect x="1146.93" y="1489.00" width="25.70" height="4.90"/>
<rect x="1198.33" y="1489.00" width="51.41" height="4.90"/>
<rect x="1352.55" y="1489.00" width="25.70" height="4.90"/>
<rect x="1429.66" y="1489.00" width="51.41" height="4.90"/>
<rect x="1532.48" y="1489.00" width="179.92" height="4.90"/>
</g>
<path d="M195.90 1066.30V1493.90M221.60 1066.30V1493.90M247.31 1066.30V1493.90M273.01 1066.30V1493.90M298.71 1066.30V1493.90M324.42 1066.30V1493.90M350.12 1066.30V1493.90M375.82 1066.30V1493.90M401.53 1066.30V1493.90M427.23 1066.30V1493.90M452.93 1066.30V1493.90M478.64 1066.30V1493.90M504.34 1066.30V1493.90M530.04 1066.30V1493.90M555.75 1066.30V1493.90M581.45 1066.30V1493.90M607.15 1066.30V1493.90M632.86 1066.30V1493.90M658.56 1066.30V1493.90M684.26 1066.30V1493.90M709.97 1066.30V1493.90M735.67 1066.30V1493.90M761.37 1066.30V1493.90M787.08 1066.30V1493.90M812.78 1066.30V1493.90M838.48 1066.30V1493.90M864.19 1066.30V1493.90M889.89 1066.30V1493.90M915.59 1066.30V1493.90M941.30 1066.30V1493.90M967.00 1066.30V1493.90M992.71 1066.30V1493.90M1018.41 1066.30V1493.90M1044.11 1066.30V1493.90M1069.82 1066.30V1493.90M1095.52 1066.30V1493.90M1121.22 1066.30V1493.90M1146.93 1066.30V1493.90M1172.63 1066.30V1493.90M1198.33 1066.30V1493.90M1224.04 1066.30V1493.90M1249.74 1066.30V1493.90M1275.44 1066.30V1493.90M1301.15 1066.30V1493.90M1326.85 1066.30V1493.90M1352.55 1066.30V1493.90M1378.26 1066.30V1493.90M1403.96 1066.30V1493.90M1429.66 1066.30V1493.90M1455.37 1066.30V1493.90M1481.07 1066.30V1493.90M1506.77 1066.30V1493.90M1532.48 1066.30V1493.90M1558.18 1066.30V1493.90M1583.88 1066.30V1493.90M1609.59 1066.30V1493.90M1635.29 1066.30V1493.90M1660.99 1066.30V1493.90M1686.70 1066.30V1493.90M171.70 1088.40H1712.40M171.70 1158.00H1712.40M171.70 1215.90H1712.40M171.70 1265.10H1712.40M171.70 1307.40H1712.40M171.70 1349.00H1712.40M171.70 1381.60H1712.40M171.70 1409.00H1712.40M171.70 1436.00H1712.40M171.70 1462.00H1712.40M171.70 1489.00H1712.40" stroke="#fff" stroke-opacity="0.1" stroke-width="1.1" fill="none"/>
<path d="M170.05 1071.73H185.80M170.05 1078.86H185.80M170.05 1085.99H185.80M170.05 1093.12H185.80M170.05 1100.25H185.80M170.05 1107.38H185.80M170.05 1114.51H185.80M170.05 1121.64H185.80M170.05 1128.77H185.80M170.05 1143.03H185.80M170.05 1150.16H185.80M170.05 1157.29H185.80M170.05 1164.42H185.80M170.05 1171.55H185.80M170.05 1178.68H185.80M170.05 1185.81H185.80M170.05 1192.94H185.80M170.05 1200.07H185.80M170.05 1214.33H185.80M170.05 1221.46H185.80M170.05 1228.59H185.80M170.05 1235.72H185.80M170.05 1242.85H185.80M170.05 1249.98H185.80M170.05 1257.11H185.80M170.05 1264.24H185.80M170.05 1271.37H185.80M170.05 1285.63H185.80M170.05 1292.76H185.80M170.05 1299.89H185.80M170.05 1307.02H185.80M170.05 1314.15H185.80M170.05 1321.28H185.80M170.05 1328.41H185.80M170.05 1335.54H185.80M170.05 1342.67H185.80M170.05 1356.93H185.80M170.05 1364.06H185.80M170.05 1371.19H185.80M170.05 1378.32H185.80M170.05 1385.45H185.80M170.05 1392.58H185.80M170.05 1399.71H185.80M170.05 1406.84H185.80M170.05 1413.97H185.80M170.05 1428.23H185.80M170.05 1435.36H185.80M170.05 1442.49H185.80M170.05 1449.62H185.80M170.05 1456.75H185.80M170.05 1463.88H185.80M170.05 1471.01H185.80M170.05 1478.14H185.80M170.05 1485.27H185.80" stroke="#1a1a1a" stroke-width="3.2" fill="none"/>
<path d="M170.05 1135.90H200.60M170.05 1207.20H200.60M170.05 1278.50H200.60M170.05 1349.80H200.60M170.05 1421.10H200.60" stroke="#1a1a1a" stroke-width="2.8" fill="none"/>
<path d="M1711.90 1071.73H1697.50M1711.90 1078.86H1697.50M1711.90 1085.99H1697.50M1711.90 1093.12H1697.50M1711.90 1100.25H1697.50M1711.90 1107.38H1697.50M1711.90 1114.51H1697.50M1711.90 1121.64H1697.50M1711.90 1128.77H1697.50M1711.90 1143.03H1697.50M1711.90 1150.16H1697.50M1711.90 1157.29H1697.50M1711.90 1164.42H1697.50M1711.90 1171.55H1697.50M1711.90 1178.68H1697.50M1711.90 1185.81H1697.50M1711.90 1192.94H1697.50M1711.90 1200.07H1697.50M1711.90 1214.33H1697.50M1711.90 1221.46H1697.50M1711.90 1228.59H1697.50M1711.90 1235.72H1697.50M1711.90 1242.85H1697.50M1711.90 1249.98H1697.50M1711.90 1257.11H1697.50M1711.90 1264.24H1697.50M1711.90 1271.37H1697.50M1711.90 1285.63H1697.50M1711.90 1292.76H1697.50M1711.90 1299.89H1697.50M1711.90 1307.02H1697.50M1711.90 1314.15H1697.50M1711.90 1321.28H1697.50M1711.90 1328.41H1697.50M1711.90 1335.54H1697.50M1711.90 1342.67H1697.50M1711.90 1356.93H1697.50M1711.90 1364.06H1697.50M1711.90 1371.19H1697.50M1711.90 1378.32H1697.50M1711.90 1385.45H1697.50M1711.90 1392.58H1697.50M1711.90 1399.71H1697.50M1711.90 1406.84H1697.50M1711.90 1413.97H1697.50M1711.90 1428.23H1697.50M1711.90 1435.36H1697.50M1711.90 1442.49H1697.50M1711.90 1449.62H1697.50M1711.90 1456.75H1697.50M1711.90 1463.88H1697.50M1711.90 1471.01H1697.50M1711.90 1478.14H1697.50M1711.90 1485.27H1697.50" stroke="#10108c" stroke-width="2.0" fill="none"/>
<path d="M1711.90 1135.90H1682.50M1711.90 1207.20H1682.50M1711.90 1278.50H1682.50M1711.90 1349.80H1682.50M1711.90 1421.10H1682.50" stroke="#1a1a1a" stroke-width="2.6" fill="none"/>
<path d="M234.65 1064.60v3.5M234.65 1495.50v-3.5M298.90 1064.60v3.5M298.90 1495.50v-3.5M363.15 1064.60v3.5M363.15 1495.50v-3.5M427.40 1064.60v7.5M427.40 1495.50v-7.5M491.65 1064.60v3.5M491.65 1495.50v-3.5M555.90 1064.60v3.5M555.90 1495.50v-3.5M620.15 1064.60v3.5M620.15 1495.50v-3.5M684.40 1064.60v7.5M684.40 1495.50v-7.5M748.65 1064.60v3.5M748.65 1495.50v-3.5M812.90 1064.60v3.5M812.90 1495.50v-3.5M877.15 1064.60v3.5M877.15 1495.50v-3.5M941.40 1064.60v7.5M941.40 1495.50v-7.5M1005.65 1064.60v3.5M1005.65 1495.50v-3.5M1069.90 1064.60v3.5M1069.90 1495.50v-3.5M1134.15 1064.60v3.5M1134.15 1495.50v-3.5M1198.40 1064.60v7.5M1198.40 1495.50v-7.5M1262.65 1064.60v3.5M1262.65 1495.50v-3.5M1326.90 1064.60v3.5M1326.90 1495.50v-3.5M1391.15 1064.60v3.5M1391.15 1495.50v-3.5M1455.40 1064.60v7.5M1455.40 1495.50v-7.5M1519.65 1064.60v3.5M1519.65 1495.50v-3.5M1583.90 1064.60v3.5M1583.90 1495.50v-3.5M1648.15 1064.60v3.5M1648.15 1495.50v-3.5" stroke="#1a1a1a" stroke-width="2.2" fill="none"/>
<rect x="170.05" y="1064.60" width="1541.85" height="430.90" fill="none" stroke="#1a1a1a" stroke-width="3.4"/>
<rect x="1737.90" y="67.90" width="61.70" height="427.10" fill="url(#ga)" stroke="#111" stroke-width="1.8"/>
<path d="M1800.00 493.97h-6.5M1800.00 486.74h-6.5M1800.00 479.51h-6.5M1800.00 472.28h-6.5M1800.00 465.05h-6.5M1800.00 457.82h-6.5M1800.00 450.59h-6.5M1800.00 443.36h-6.5M1800.00 436.13h-6.5M1800.00 428.90h-15M1800.00 421.67h-6.5M1800.00 414.44h-6.5M1800.00 407.21h-6.5M1800.00 399.98h-6.5M1800.00 392.75h-6.5M1800.00 385.52h-6.5M1800.00 378.29h-6.5M1800.00 371.06h-6.5M1800.00 363.83h-6.5M1800.00 356.60h-15M1800.00 349.37h-6.5M1800.00 342.14h-6.5M1800.00 334.91h-6.5M1800.00 327.68h-6.5M1800.00 320.45h-6.5M1800.00 313.22h-6.5M1800.00 305.99h-6.5M1800.00 298.76h-6.5M1800.00 291.53h-6.5M1800.00 284.30h-15M1800.00 277.07h-6.5M1800.00 269.84h-6.5M1800.00 262.61h-6.5M1800.00 255.38h-6.5M1800.00 248.15h-6.5M1800.00 240.92h-6.5M1800.00 233.69h-6.5M1800.00 226.46h-6.5M1800.00 219.23h-6.5M1800.00 212.00h-15M1800.00 204.77h-6.5M1800.00 197.54h-6.5M1800.00 190.31h-6.5M1800.00 183.08h-6.5M1800.00 175.85h-6.5M1800.00 168.62h-6.5M1800.00 161.39h-6.5M1800.00 154.16h-6.5M1800.00 146.93h-6.5M1800.00 139.70h-15M1800.00 132.47h-6.5M1800.00 125.24h-6.5M1800.00 118.01h-6.5M1800.00 110.78h-6.5M1800.00 103.55h-6.5M1800.00 96.32h-6.5M1800.00 89.09h-6.5M1800.00 81.86h-6.5M1800.00 74.63h-6.5" stroke="#111" stroke-width="2.4" fill="none"/>
<rect x="1741.30" y="568.30" width="61.00" height="430.70" fill="url(#gj)" stroke="#111" stroke-width="1.8"/>
<path d="M1802.70 988.22h-6.5M1802.70 977.43h-6.5M1802.70 966.64h-6.5M1802.70 955.86h-6.5M1802.70 945.08h-6.5M1802.70 934.29h-6.5M1802.70 923.50h-6.5M1802.70 912.72h-6.5M1802.70 901.93h-6.5M1802.70 891.15h-15M1802.70 880.37h-6.5M1802.70 869.58h-6.5M1802.70 858.80h-6.5M1802.70 848.01h-6.5M1802.70 837.23h-6.5M1802.70 826.44h-6.5M1802.70 815.65h-6.5M1802.70 804.87h-6.5M1802.70 794.09h-6.5M1802.70 783.30h-15M1802.70 772.51h-6.5M1802.70 761.73h-6.5M1802.70 750.95h-6.5M1802.70 740.16h-6.5M1802.70 729.38h-6.5M1802.70 718.59h-6.5M1802.70 707.81h-6.5M1802.70 697.02h-6.5M1802.70 686.24h-6.5M1802.70 675.45h-15M1802.70 664.66h-6.5M1802.70 653.88h-6.5M1802.70 643.10h-6.5M1802.70 632.31h-6.5M1802.70 621.52h-6.5M1802.70 610.74h-6.5M1802.70 599.96h-6.5M1802.70 589.17h-6.5M1802.70 578.38h-6.5" stroke="#111" stroke-width="2.4" fill="none"/>
<rect x="1740.70" y="1064.50" width="62.20" height="431.60" fill="url(#gj)" stroke="#111" stroke-width="1.8"/>
<path d="M1803.30 1485.50h-6.5M1803.30 1474.70h-6.5M1803.30 1463.91h-6.5M1803.30 1453.11h-6.5M1803.30 1442.31h-6.5M1803.30 1431.51h-6.5M1803.30 1420.72h-6.5M1803.30 1409.92h-6.5M1803.30 1399.12h-6.5M1803.30 1388.33h-15M1803.30 1377.53h-6.5M1803.30 1366.73h-6.5M1803.30 1355.93h-6.5M1803.30 1345.13h-6.5M1803.30 1334.34h-6.5M1803.30 1323.54h-6.5M1803.30 1312.74h-6.5M1803.30 1301.94h-6.5M1803.30 1291.15h-6.5M1803.30 1280.35h-15M1803.30 1269.55h-6.5M1803.30 1258.76h-6.5M1803.30 1247.96h-6.5M1803.30 1237.16h-6.5M1803.30 1226.36h-6.5M1803.30 1215.57h-6.5M1803.30 1204.77h-6.5M1803.30 1193.97h-6.5M1803.30 1183.17h-6.5M1803.30 1172.38h-15M1803.30 1161.58h-6.5M1803.30 1150.78h-6.5M1803.30 1139.98h-6.5M1803.30 1129.18h-6.5M1803.30 1118.39h-6.5M1803.30 1107.59h-6.5M1803.30 1096.79h-6.5M1803.30 1086.00h-6.5M1803.30 1075.20h-6.5" stroke="#111" stroke-width="2.4" fill="none"/>
<g opacity="0.995">
<text transform="matrix(0.20328,0,0,0.21551,172.20,48.65)" font-size="200" fill="#0a0a0a">(a)</text>
<text transform="matrix(0.20164,0,0,0.21497,172.60,550.17)" font-size="200" fill="#0a0a0a">(b)</text>
<text transform="matrix(0.20172,0,0,0.21551,172.40,1045.95)" font-size="200" fill="#0a0a0a">(c)</text>
<text transform="matrix(0.22066,0,0,0.22113,82.80,83.76)" font-size="200" fill="#0a0a0a">150</text>
<text transform="matrix(0.22066,0,0,0.22113,82.80,150.06)" font-size="200" fill="#0a0a0a">140</text>
<text transform="matrix(0.22066,0,0,0.22113,82.80,223.61)" font-size="200" fill="#0a0a0a">130</text>
<text transform="matrix(0.22066,0,0,0.22113,82.80,295.46)" font-size="200" fill="#0a0a0a">120</text>
<text transform="matrix(0.22066,0,0,0.22113,86.11,365.96)" font-size="200" fill="#0a0a0a">110</text>
<text transform="matrix(0.22066,0,0,0.22113,82.80,438.86)" font-size="200" fill="#0a0a0a">100</text>
<text transform="matrix(0.22066,0,0,0.22113,107.51,506.46)" font-size="200" fill="#0a0a0a">90</text>
<text transform="matrix(0.22066,0,0,0.22113,82.80,589.96)" font-size="200" fill="#0a0a0a">150</text>
<text transform="matrix(0.22066,0,0,0.22113,82.80,653.76)" font-size="200" fill="#0a0a0a">140</text>
<text transform="matrix(0.22066,0,0,0.22113,82.80,725.96)" font-size="200" fill="#0a0a0a">130</text>
<text transform="matrix(0.22066,0,0,0.22113,82.80,798.06)" font-size="200" fill="#0a0a0a">120</text>
<text transform="matrix(0.22066,0,0,0.22113,86.11,869.06)" font-size="200" fill="#0a0a0a">110</text>
<text transform="matrix(0.22066,0,0,0.22113,82.80,940.66)" font-size="200" fill="#0a0a0a">100</text>
<text transform="matrix(0.22066,0,0,0.22113,107.51,1004.86)" font-size="200" fill="#0a0a0a">90</text>
<text transform="matrix(0.22066,0,0,0.22113,82.80,1084.86)" font-size="200" fill="#0a0a0a">150</text>
<text transform="matrix(0.22066,0,0,0.22113,82.80,1154.76)" font-size="200" fill="#0a0a0a">140</text>
<text transform="matrix(0.22066,0,0,0.22113,82.80,1225.56)" font-size="200" fill="#0a0a0a">130</text>
<text transform="matrix(0.22066,0,0,0.22113,82.80,1299.26)" font-size="200" fill="#0a0a0a">120</text>
<text transform="matrix(0.22066,0,0,0.22113,86.11,1368.46)" font-size="200" fill="#0a0a0a">110</text>
<text transform="matrix(0.22066,0,0,0.22113,82.80,1442.26)" font-size="200" fill="#0a0a0a">100</text>
<text transform="matrix(0.22066,0,0,0.22113,107.51,1498.26)" font-size="200" fill="#0a0a0a">90</text>
<text transform="matrix(0.19800,0,0,0.20634,377.80,541.24)" font-size="200" fill="#0a0a0a">19:01</text>
<text transform="matrix(0.19800,0,0,0.20634,634.90,541.24)" font-size="200" fill="#0a0a0a">19:02</text>
<text transform="matrix(0.19800,0,0,0.20634,892.00,541.24)" font-size="200" fill="#0a0a0a">19:03</text>
<text transform="matrix(0.19800,0,0,0.20634,1149.10,541.24)" font-size="200" fill="#0a0a0a">19:04</text>
<text transform="matrix(0.19800,0,0,0.20634,1406.20,541.24)" font-size="200" fill="#0a0a0a">19:05</text>
<text transform="matrix(0.19800,0,0,0.20634,1663.30,541.24)" font-size="200" fill="#0a0a0a">19:06</text>
<text transform="matrix(0.19800,0,0,0.20634,377.80,1045.44)" font-size="200" fill="#0a0a0a">19:01</text>
<text transform="matrix(0.19800,0,0,0.20634,634.90,1045.44)" font-size="200" fill="#0a0a0a">19:02</text>
<text transform="matrix(0.19800,0,0,0.20634,892.00,1045.44)" font-size="200" fill="#0a0a0a">19:03</text>
<text transform="matrix(0.19800,0,0,0.20634,1149.10,1045.44)" font-size="200" fill="#0a0a0a">19:04</text>
<text transform="matrix(0.19800,0,0,0.20634,1406.20,1045.44)" font-size="200" fill="#0a0a0a">19:05</text>
<text transform="matrix(0.19800,0,0,0.20634,1663.30,1045.44)" font-size="200" fill="#0a0a0a">19:06</text>
<text transform="matrix(0.19800,0,0,0.20634,377.80,1545.54)" font-size="200" fill="#0a0a0a">19:01</text>
<text transform="matrix(0.19800,0,0,0.20634,634.90,1545.54)" font-size="200" fill="#0a0a0a">19:02</text>
<text transform="matrix(0.19800,0,0,0.20634,892.00,1545.54)" font-size="200" fill="#0a0a0a">19:03</text>
<text transform="matrix(0.19800,0,0,0.20634,1149.10,1545.54)" font-size="200" fill="#0a0a0a">19:04</text>
<text transform="matrix(0.19800,0,0,0.20634,1406.20,1545.54)" font-size="200" fill="#0a0a0a">19:05</text>
<text transform="matrix(0.19800,0,0,0.20634,1663.30,1545.54)" font-size="200" fill="#0a0a0a">19:06</text>
<text transform="matrix(0,-0.27658,0.26684,0,55.29,433.30)" font-size="200" fill="#0a0a0a">Altitude (km)</text>
<text transform="matrix(0,-0.27658,0.26684,0,55.29,936.30)" font-size="200" fill="#0a0a0a">Altitude (km)</text>
<text transform="matrix(0,-0.27658,0.26684,0,55.29,1434.80)" font-size="200" fill="#0a0a0a">Altitude (km)</text>
<text transform="matrix(0.25695,0,0,0.25134,878.30,1599.34)" font-size="200" fill="#2a2a2a">Time (UT)</text>
<text transform="matrix(0.23303,0,0,0.22746,1815.20,588.10)" font-size="200" fill="#0a0a0a">2000</text>
<text transform="matrix(0.23303,0,0,0.22746,1815.20,689.80)" font-size="200" fill="#0a0a0a">1500</text>
<text transform="matrix(0.23303,0,0,0.22746,1815.20,796.40)" font-size="200" fill="#0a0a0a">1000</text>
<text transform="matrix(0.23303,0,0,0.22746,1815.20,906.50)" font-size="200" fill="#0a0a0a">500</text>
<text transform="matrix(0.23303,0,0,0.22746,1815.20,1001.20)" font-size="200" fill="#0a0a0a">0</text>
<text transform="matrix(0.23303,0,0,0.22746,1819.60,1089.80)" font-size="200" fill="#0a0a0a">2000</text>
<text transform="matrix(0.23303,0,0,0.22746,1819.60,1191.60)" font-size="200" fill="#0a0a0a">1500</text>
<text transform="matrix(0.23303,0,0,0.22746,1819.60,1297.40)" font-size="200" fill="#0a0a0a">1000</text>
<text transform="matrix(0.23303,0,0,0.22746,1819.70,1408.00)" font-size="200" fill="#0a0a0a">500</text>
<text transform="matrix(0.23303,0,0,0.22746,1819.70,1502.30)" font-size="200" fill="#0a0a0a">0</text>
<text transform="matrix(0.24989,0,0,0.22254,1819.40,88.50)" font-size="200" fill="#0a0a0a">6×10</text>
<path d="M1938.90 53.90L1945.08 48.20L1949.20 48.20L1949.20 67.20L1945.08 67.20L1945.08 52.76L1939.93 57.13ZM1954.30 53.90L1960.48 48.20L1964.60 48.20L1964.60 67.20L1960.48 67.20L1960.48 52.76L1955.33 57.13Z" fill="#0a0a0a"/>
<text transform="matrix(0.24989,0,0,0.22254,1818.70,155.30)" font-size="200" fill="#0a0a0a">5×10</text>
<path d="M1939.40 120.10L1945.58 114.40L1949.70 114.40L1949.70 133.40L1945.58 133.40L1945.58 118.96L1940.43 123.33ZM1954.80 120.10L1960.98 114.40L1965.10 114.40L1965.10 133.40L1960.98 133.40L1960.98 118.96L1955.83 123.33Z" fill="#0a0a0a"/>
<text transform="matrix(0.24989,0,0,0.22254,1818.70,226.65)" font-size="200" fill="#0a0a0a">4×10</text>
<path d="M1939.40 191.70L1945.58 186.00L1949.70 186.00L1949.70 205.00L1945.58 205.00L1945.58 190.56L1940.43 194.93ZM1954.80 191.70L1960.98 186.00L1965.10 186.00L1965.10 205.00L1960.98 205.00L1960.98 190.56L1955.83 194.93Z" fill="#0a0a0a"/>
<text transform="matrix(0.24989,0,0,0.22254,1815.10,301.25)" font-size="200" fill="#0a0a0a">3×10</text>
<path d="M1935.70 266.10L1941.88 260.40L1946.00 260.40L1946.00 279.40L1941.88 279.40L1941.88 264.96L1936.73 269.33ZM1951.10 266.10L1957.28 260.40L1961.40 260.40L1961.40 279.40L1957.28 279.40L1957.28 264.96L1952.13 269.33Z" fill="#0a0a0a"/>
<text transform="matrix(0.24989,0,0,0.22254,1815.10,378.75)" font-size="200" fill="#0a0a0a">2×10</text>
<path d="M1935.70 345.70L1941.88 340.00L1946.00 340.00L1946.00 359.00L1941.88 359.00L1941.88 344.56L1936.73 348.93ZM1951.10 345.70L1957.28 340.00L1961.40 340.00L1961.40 359.00L1957.28 359.00L1957.28 344.56L1952.13 348.93Z" fill="#0a0a0a"/>
<text transform="matrix(0.24989,0,0,0.22254,1815.10,444.05)" font-size="200" fill="#0a0a0a">1×10</text>
<path d="M1935.70 410.70L1941.88 405.00L1946.00 405.00L1946.00 424.00L1941.88 424.00L1941.88 409.56L1936.73 413.93ZM1951.10 410.70L1957.28 405.00L1961.40 405.00L1961.40 424.00L1957.28 424.00L1957.28 409.56L1952.13 413.93Z" fill="#0a0a0a"/>
<text transform="matrix(0,-0.25225,0.29815,0,2031.60,404.20)" font-size="200" fill="#0a0a0a">n</text>
<text transform="matrix(0,-0.22432,0.25273,0,2049.09,364.10)" font-size="200" fill="#0a0a0a">e</text>
<text transform="matrix(0,-0.18060,0.28984,0,2027.13,311.70)" font-size="200" fill="#0a0a0a">(</text>
<text transform="matrix(0,-0.27305,0.29815,0,2031.60,293.60)" font-size="200" fill="#0a0a0a">m</text>
<rect x="1989.4" y="219.7" width="4.3" height="12.9" fill="#0a0a0a"/>
<text transform="matrix(0,-0.20901,0.25423,0,2006.09,217.10)" font-size="200" fill="#0a0a0a">3</text>
<text transform="matrix(0,-0.19254,0.28984,0,2027.13,187.00)" font-size="200" fill="#0a0a0a">)</text>
<text transform="matrix(0,-0.26885,0.32029,0,1989.20,846.20)" font-size="200" fill="#0a0a0a">T</text>
<text transform="matrix(0,-0.21892,0.25818,0,2007.58,816.00)" font-size="200" fill="#0a0a0a">e</text>
<text transform="matrix(0,-0.24120,0.28770,0,1985.22,753.90)" font-size="200" fill="#0a0a0a">(K)</text>
<text transform="matrix(0,-0.26557,0.32101,0,1990.00,1321.90)" font-size="200" fill="#0a0a0a">T</text>
<rect x="1981.1" y="1285.1" width="27" height="4.5" fill="#0a0a0a"/><circle cx="1973.7" cy="1287.0" r="2.9" fill="#0a0a0a"/>
<text transform="matrix(0,-0.24270,0.28396,0,1985.87,1243.40)" font-size="200" fill="#0a0a0a">(K)</text>
</g>
<path d="M1237.2 41.9L1261.9 27.6V38.3H1301.5V27.6L1326.2 41.9L1301.5 56.4V45.6H1261.9V56.4Z" fill="#0c0a0a"/>
</svg></body></html>
